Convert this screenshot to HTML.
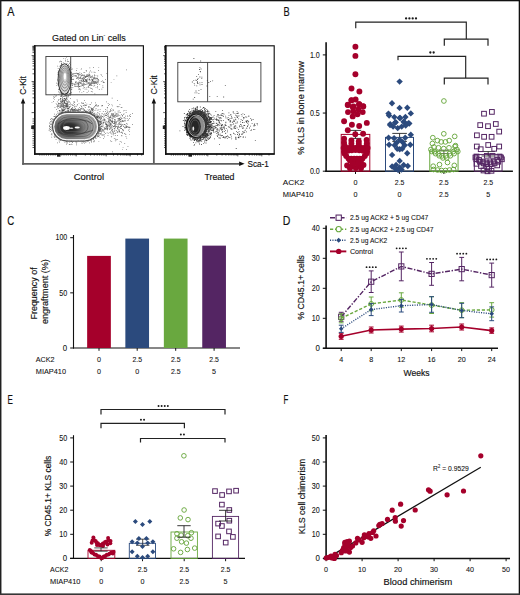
<!DOCTYPE html>
<html><head><meta charset="utf-8"><style>
html,body{margin:0;padding:0;background:#fff;overflow:hidden;width:520px;height:595px;}
svg{display:block;font-family:"Liberation Sans", sans-serif;}
</style></head><body>
<svg width="520" height="595" viewBox="0 0 520 595">
<rect width="520" height="595" fill="#fff"/>
<rect x="0.00" y="0.00" width="520.00" height="1.30" fill="#111" stroke="none" stroke-width="1" />
<rect x="0.00" y="0.00" width="1.45" height="595.00" fill="#202020" stroke="none" stroke-width="1" />
<rect x="518.70" y="0.00" width="1.30" height="595.00" fill="#111" stroke="none" stroke-width="1" />
<rect x="0.00" y="593.40" width="520.00" height="1.60" fill="#363636" stroke="none" stroke-width="1" />
<text x="7.30" y="15.50" font-size="12.3" text-anchor="start" textLength="7.20" lengthAdjust="spacingAndGlyphs" fill="#111" stroke="#111" stroke-width="0.16" >A</text>
<text x="283.50" y="15.50" font-size="12.3" text-anchor="start" textLength="6.20" lengthAdjust="spacingAndGlyphs" fill="#111" stroke="#111" stroke-width="0.16" >B</text>
<text x="7.30" y="225.20" font-size="12.3" text-anchor="start" textLength="7.00" lengthAdjust="spacingAndGlyphs" fill="#111" stroke="#111" stroke-width="0.16" >C</text>
<text x="282.80" y="225.20" font-size="12.3" text-anchor="start" textLength="7.60" lengthAdjust="spacingAndGlyphs" fill="#111" stroke="#111" stroke-width="0.16" >D</text>
<text x="7.60" y="403.80" font-size="12.3" text-anchor="start" textLength="5.40" lengthAdjust="spacingAndGlyphs" fill="#111" stroke="#111" stroke-width="0.16" >E</text>
<text x="283.60" y="404.20" font-size="12.3" text-anchor="start" textLength="4.80" lengthAdjust="spacingAndGlyphs" fill="#111" stroke="#111" stroke-width="0.16" >F</text>
<text x="51.90" y="40.50" font-size="9.8" text-anchor="start" textLength="73.90" lengthAdjust="spacingAndGlyphs" fill="#111" stroke="#111" stroke-width="0.16" >Gated on Lin<tspan font-size="5.5" dy="-3.6">-</tspan><tspan dy="3.6"> cells</tspan></text>
<path d="M71.9 141.7h0.7v0.7h-0.7zM97.1 113.9h0.7v0.7h-0.7zM84.0 110.1h0.7v0.7h-0.7zM74.3 109.0h0.7v0.7h-0.7zM87.8 138.6h0.7v0.7h-0.7zM93.2 114.6h0.7v0.7h-0.7zM96.7 134.5h0.7v0.7h-0.7zM57.3 110.9h0.7v0.7h-0.7zM62.7 112.4h0.7v0.7h-0.7zM48.7 130.4h0.7v0.7h-0.7zM71.7 109.5h0.7v0.7h-0.7zM61.8 111.8h0.7v0.7h-0.7zM70.5 112.9h0.7v0.7h-0.7zM52.8 122.4h0.7v0.7h-0.7zM82.1 140.9h0.7v0.7h-0.7zM99.2 129.1h0.7v0.7h-0.7zM62.0 113.8h0.7v0.7h-0.7zM98.7 125.3h0.7v0.7h-0.7zM68.9 111.0h0.7v0.7h-0.7zM95.2 116.9h0.7v0.7h-0.7zM99.0 126.8h0.7v0.7h-0.7zM67.0 140.1h0.7v0.7h-0.7zM90.1 112.1h0.7v0.7h-0.7zM67.7 140.3h0.7v0.7h-0.7zM97.2 120.0h0.7v0.7h-0.7zM86.9 111.4h0.7v0.7h-0.7zM59.1 110.0h0.7v0.7h-0.7zM97.9 121.4h0.7v0.7h-0.7zM54.1 116.1h0.7v0.7h-0.7zM100.4 122.0h0.7v0.7h-0.7zM102.1 130.1h0.7v0.7h-0.7zM90.5 110.8h0.7v0.7h-0.7zM50.0 129.1h0.7v0.7h-0.7zM99.8 119.1h0.7v0.7h-0.7zM67.0 111.2h0.7v0.7h-0.7zM53.6 123.0h0.7v0.7h-0.7zM77.8 140.4h0.7v0.7h-0.7zM98.3 132.9h0.7v0.7h-0.7zM96.1 115.4h0.7v0.7h-0.7zM53.8 119.0h0.7v0.7h-0.7zM83.9 110.4h0.7v0.7h-0.7zM89.5 112.9h0.7v0.7h-0.7zM101.3 125.7h0.7v0.7h-0.7zM70.7 139.9h0.7v0.7h-0.7zM95.3 137.7h0.7v0.7h-0.7zM85.7 110.4h0.7v0.7h-0.7zM81.7 143.2h0.7v0.7h-0.7zM57.1 142.5h0.7v0.7h-0.7zM68.7 111.9h0.7v0.7h-0.7zM97.4 135.0h0.7v0.7h-0.7zM57.6 136.7h0.7v0.7h-0.7zM97.0 119.1h0.7v0.7h-0.7zM52.4 125.7h0.7v0.7h-0.7zM100.2 128.0h0.7v0.7h-0.7zM97.5 135.0h0.7v0.7h-0.7zM54.1 135.6h0.7v0.7h-0.7zM53.8 136.1h0.7v0.7h-0.7zM98.2 128.8h0.7v0.7h-0.7zM69.4 141.7h0.7v0.7h-0.7zM83.2 113.1h0.7v0.7h-0.7zM71.2 111.4h0.7v0.7h-0.7zM95.0 135.6h0.7v0.7h-0.7zM100.0 118.4h0.7v0.7h-0.7zM89.5 111.4h0.7v0.7h-0.7zM83.9 110.0h0.7v0.7h-0.7zM97.0 116.4h0.7v0.7h-0.7zM99.0 134.7h0.7v0.7h-0.7zM102.5 121.7h0.7v0.7h-0.7zM51.6 133.4h0.7v0.7h-0.7zM61.3 112.0h0.7v0.7h-0.7zM99.9 131.4h0.7v0.7h-0.7zM94.2 140.5h0.7v0.7h-0.7zM91.1 114.3h0.7v0.7h-0.7zM94.6 114.1h0.7v0.7h-0.7zM90.4 113.7h0.7v0.7h-0.7zM80.2 112.7h0.7v0.7h-0.7zM94.9 135.5h0.7v0.7h-0.7zM62.0 112.3h0.7v0.7h-0.7zM98.8 129.1h0.7v0.7h-0.7zM89.6 139.9h0.7v0.7h-0.7zM67.2 108.5h0.7v0.7h-0.7zM66.3 140.0h0.7v0.7h-0.7zM76.8 111.6h0.7v0.7h-0.7zM87.1 140.8h0.7v0.7h-0.7zM97.8 134.7h0.7v0.7h-0.7zM54.9 133.9h0.7v0.7h-0.7zM51.8 117.9h0.7v0.7h-0.7zM100.4 133.0h0.7v0.7h-0.7zM80.6 112.7h0.7v0.7h-0.7zM67.1 140.2h0.7v0.7h-0.7zM76.2 144.6h0.7v0.7h-0.7zM90.4 110.7h0.7v0.7h-0.7zM62.7 114.1h0.7v0.7h-0.7zM91.6 112.3h0.7v0.7h-0.7zM72.0 141.9h0.7v0.7h-0.7zM76.8 112.0h0.7v0.7h-0.7zM63.5 109.1h0.7v0.7h-0.7zM97.3 122.4h0.7v0.7h-0.7zM93.6 140.7h0.7v0.7h-0.7zM98.6 123.1h0.7v0.7h-0.7zM64.2 109.9h0.7v0.7h-0.7zM88.6 139.6h0.7v0.7h-0.7zM91.1 141.8h0.7v0.7h-0.7zM68.2 112.5h0.7v0.7h-0.7zM91.4 113.1h0.7v0.7h-0.7zM70.8 109.6h0.7v0.7h-0.7zM99.4 117.2h0.7v0.7h-0.7zM50.5 129.0h0.7v0.7h-0.7zM49.3 125.3h0.7v0.7h-0.7zM64.9 111.9h0.7v0.7h-0.7zM91.3 140.0h0.7v0.7h-0.7zM52.1 121.5h0.7v0.7h-0.7zM78.2 140.3h0.7v0.7h-0.7zM92.0 109.8h0.7v0.7h-0.7zM101.1 117.9h0.7v0.7h-0.7zM82.4 113.1h0.7v0.7h-0.7zM75.2 111.8h0.7v0.7h-0.7zM66.8 111.8h0.7v0.7h-0.7zM97.1 119.1h0.7v0.7h-0.7zM73.1 109.9h0.7v0.7h-0.7zM73.1 109.2h0.7v0.7h-0.7zM64.9 112.7h0.7v0.7h-0.7zM57.1 116.3h0.7v0.7h-0.7zM97.4 115.7h0.7v0.7h-0.7zM68.5 110.8h0.7v0.7h-0.7zM58.6 114.2h0.7v0.7h-0.7zM99.5 117.8h0.7v0.7h-0.7zM81.6 111.4h0.7v0.7h-0.7zM72.2 142.0h0.7v0.7h-0.7zM62.9 109.9h0.7v0.7h-0.7zM53.5 119.6h0.7v0.7h-0.7zM95.2 137.9h0.7v0.7h-0.7zM63.4 109.7h0.7v0.7h-0.7zM50.3 119.3h0.7v0.7h-0.7zM98.0 131.7h0.7v0.7h-0.7zM97.4 131.7h0.7v0.7h-0.7zM68.8 111.3h0.7v0.7h-0.7zM50.7 124.1h0.7v0.7h-0.7zM96.0 133.0h0.7v0.7h-0.7zM88.7 113.6h0.7v0.7h-0.7zM92.9 138.5h0.7v0.7h-0.7zM94.5 136.2h0.7v0.7h-0.7zM56.9 112.8h0.7v0.7h-0.7zM91.6 113.2h0.7v0.7h-0.7zM99.8 129.1h0.7v0.7h-0.7zM73.3 110.0h0.7v0.7h-0.7zM90.2 112.3h0.7v0.7h-0.7zM72.9 109.5h0.7v0.7h-0.7zM96.0 116.0h0.7v0.7h-0.7zM73.6 109.2h0.7v0.7h-0.7zM53.9 116.3h0.7v0.7h-0.7zM65.4 108.4h0.7v0.7h-0.7zM75.2 141.5h0.7v0.7h-0.7zM51.5 121.4h0.7v0.7h-0.7zM77.9 108.6h0.7v0.7h-0.7zM80.1 111.6h0.7v0.7h-0.7zM77.4 110.6h0.7v0.7h-0.7zM74.4 111.4h0.7v0.7h-0.7zM87.2 140.2h0.7v0.7h-0.7zM83.5 140.9h0.7v0.7h-0.7zM62.8 113.2h0.7v0.7h-0.7zM72.6 111.3h0.7v0.7h-0.7zM60.3 110.4h0.7v0.7h-0.7zM86.8 110.9h0.7v0.7h-0.7zM76.7 111.6h0.7v0.7h-0.7zM100.0 116.8h0.7v0.7h-0.7zM69.9 109.9h0.7v0.7h-0.7zM96.7 133.3h0.7v0.7h-0.7zM99.0 124.7h0.7v0.7h-0.7zM69.5 112.1h0.7v0.7h-0.7zM74.3 110.6h0.7v0.7h-0.7zM69.4 144.0h0.7v0.7h-0.7zM66.9 112.6h0.7v0.7h-0.7zM95.4 136.7h0.7v0.7h-0.7zM55.1 115.7h0.7v0.7h-0.7zM100.3 124.2h0.7v0.7h-0.7zM61.0 109.7h0.7v0.7h-0.7zM68.1 111.3h0.7v0.7h-0.7zM56.6 136.8h0.7v0.7h-0.7zM94.6 115.7h0.7v0.7h-0.7zM87.8 112.5h0.7v0.7h-0.7zM98.0 120.0h0.7v0.7h-0.7zM93.3 139.1h0.7v0.7h-0.7zM91.9 110.5h0.7v0.7h-0.7zM50.0 121.2h0.7v0.7h-0.7zM93.6 137.8h0.7v0.7h-0.7zM98.9 127.7h0.7v0.7h-0.7zM75.1 110.1h0.7v0.7h-0.7zM96.4 120.6h0.7v0.7h-0.7zM98.7 129.1h0.7v0.7h-0.7zM95.3 136.5h0.7v0.7h-0.7zM51.6 134.5h0.7v0.7h-0.7zM98.4 134.6h0.7v0.7h-0.7zM67.2 111.3h0.7v0.7h-0.7zM58.8 140.5h0.7v0.7h-0.7zM90.6 138.0h0.7v0.7h-0.7zM97.5 120.7h0.7v0.7h-0.7zM93.2 113.3h0.7v0.7h-0.7zM64.5 141.9h0.7v0.7h-0.7zM97.1 114.9h0.7v0.7h-0.7zM76.3 109.2h0.7v0.7h-0.7zM58.9 111.7h0.7v0.7h-0.7zM98.7 122.7h0.7v0.7h-0.7zM91.5 113.1h0.7v0.7h-0.7zM89.0 112.5h0.7v0.7h-0.7zM72.0 110.7h0.7v0.7h-0.7zM97.3 130.9h0.7v0.7h-0.7zM78.4 111.7h0.7v0.7h-0.7zM74.0 109.5h0.7v0.7h-0.7zM96.4 116.6h0.7v0.7h-0.7zM61.4 139.4h0.7v0.7h-0.7zM70.9 143.8h0.7v0.7h-0.7zM53.6 130.2h0.7v0.7h-0.7zM94.2 115.0h0.7v0.7h-0.7zM99.7 137.3h0.7v0.7h-0.7zM66.3 143.7h0.7v0.7h-0.7zM90.7 138.8h0.7v0.7h-0.7zM59.4 113.2h0.7v0.7h-0.7zM69.3 140.0h0.7v0.7h-0.7zM97.3 117.8h0.7v0.7h-0.7zM50.7 127.2h0.7v0.7h-0.7zM97.6 136.3h0.7v0.7h-0.7zM79.3 111.6h0.7v0.7h-0.7zM51.0 125.8h0.7v0.7h-0.7zM63.2 111.8h0.7v0.7h-0.7zM87.6 109.4h0.7v0.7h-0.7zM51.6 128.0h0.7v0.7h-0.7zM59.5 138.8h0.7v0.7h-0.7zM76.3 113.0h0.7v0.7h-0.7zM67.0 141.7h0.7v0.7h-0.7zM80.1 109.2h0.7v0.7h-0.7zM50.9 118.2h0.7v0.7h-0.7zM95.3 117.7h0.7v0.7h-0.7zM53.8 118.6h0.7v0.7h-0.7zM94.7 115.3h0.7v0.7h-0.7zM61.9 110.5h0.7v0.7h-0.7zM74.5 108.8h0.7v0.7h-0.7zM97.6 119.0h0.7v0.7h-0.7zM97.5 116.7h0.7v0.7h-0.7zM90.4 111.0h0.7v0.7h-0.7zM67.6 111.8h0.7v0.7h-0.7zM96.9 136.5h0.7v0.7h-0.7zM99.7 122.5h0.7v0.7h-0.7zM61.1 109.5h0.7v0.7h-0.7zM81.9 139.9h0.7v0.7h-0.7zM67.7 109.4h0.7v0.7h-0.7zM87.4 113.1h0.7v0.7h-0.7zM70.8 111.7h0.7v0.7h-0.7zM74.9 109.3h0.7v0.7h-0.7zM55.3 117.9h0.7v0.7h-0.7zM76.3 110.5h0.7v0.7h-0.7zM96.6 117.1h0.7v0.7h-0.7zM100.3 133.8h0.7v0.7h-0.7zM88.4 112.8h0.7v0.7h-0.7zM81.6 141.9h0.7v0.7h-0.7zM65.3 111.3h0.7v0.7h-0.7zM68.1 107.8h0.7v0.7h-0.7zM99.5 128.3h0.7v0.7h-0.7zM76.5 142.4h0.7v0.7h-0.7zM62.5 111.8h0.7v0.7h-0.7zM92.8 114.5h0.7v0.7h-0.7zM67.5 112.7h0.7v0.7h-0.7zM76.8 111.9h0.7v0.7h-0.7zM72.8 141.2h0.7v0.7h-0.7zM73.4 111.0h0.7v0.7h-0.7zM96.9 117.5h0.7v0.7h-0.7zM92.9 114.2h0.7v0.7h-0.7zM92.4 115.1h0.7v0.7h-0.7zM70.9 141.3h0.7v0.7h-0.7zM61.0 111.6h0.7v0.7h-0.7zM98.9 133.3h0.7v0.7h-0.7zM100.9 121.0h0.7v0.7h-0.7zM94.5 137.2h0.7v0.7h-0.7zM90.6 114.3h0.7v0.7h-0.7zM52.0 126.7h0.7v0.7h-0.7zM99.5 130.2h0.7v0.7h-0.7zM99.5 129.6h0.7v0.7h-0.7zM62.4 109.6h0.7v0.7h-0.7zM101.8 123.8h0.7v0.7h-0.7zM51.8 122.5h0.7v0.7h-0.7zM82.6 111.6h0.7v0.7h-0.7zM55.3 136.5h0.7v0.7h-0.7zM97.2 117.2h0.7v0.7h-0.7zM49.9 123.8h0.7v0.7h-0.7zM71.8 143.9h0.7v0.7h-0.7zM50.9 133.7h0.7v0.7h-0.7zM72.3 110.2h0.7v0.7h-0.7zM54.0 137.1h0.7v0.7h-0.7zM49.1 126.1h0.7v0.7h-0.7zM100.1 124.6h0.7v0.7h-0.7zM77.5 112.4h0.7v0.7h-0.7zM100.2 116.6h0.7v0.7h-0.7zM67.2 109.9h0.7v0.7h-0.7zM99.3 123.7h0.7v0.7h-0.7zM98.8 130.1h0.7v0.7h-0.7zM77.0 109.6h0.7v0.7h-0.7zM78.3 109.3h0.7v0.7h-0.7zM98.3 136.2h0.7v0.7h-0.7zM92.9 111.4h0.7v0.7h-0.7zM98.9 126.4h0.7v0.7h-0.7zM100.5 129.1h0.7v0.7h-0.7zM90.8 110.7h0.7v0.7h-0.7zM100.2 122.6h0.7v0.7h-0.7zM98.4 132.2h0.7v0.7h-0.7zM64.2 111.5h0.7v0.7h-0.7zM49.6 126.0h0.7v0.7h-0.7zM89.6 111.0h0.7v0.7h-0.7zM84.0 110.1h0.7v0.7h-0.7zM98.6 125.2h0.7v0.7h-0.7zM52.6 128.5h0.7v0.7h-0.7zM91.7 113.0h0.7v0.7h-0.7zM78.7 112.4h0.7v0.7h-0.7zM98.4 130.3h0.7v0.7h-0.7zM81.6 141.9h0.7v0.7h-0.7zM61.0 113.2h0.7v0.7h-0.7zM89.0 112.1h0.7v0.7h-0.7zM99.9 121.2h0.7v0.7h-0.7zM90.9 112.6h0.7v0.7h-0.7zM98.6 131.2h0.7v0.7h-0.7zM60.4 113.6h0.7v0.7h-0.7zM76.3 142.9h0.7v0.7h-0.7zM73.5 112.5h0.7v0.7h-0.7zM90.9 141.3h0.7v0.7h-0.7zM69.7 144.0h0.7v0.7h-0.7zM54.1 134.3h0.7v0.7h-0.7zM98.7 117.8h0.7v0.7h-0.7zM100.2 119.6h0.7v0.7h-0.7zM98.6 129.4h0.7v0.7h-0.7zM100.7 130.0h0.7v0.7h-0.7zM80.0 107.9h0.7v0.7h-0.7zM94.3 113.4h0.7v0.7h-0.7zM63.1 112.1h0.7v0.7h-0.7zM87.8 110.9h0.7v0.7h-0.7zM98.4 117.8h0.7v0.7h-0.7zM53.6 116.0h0.7v0.7h-0.7zM86.5 111.0h0.7v0.7h-0.7zM75.0 111.3h0.7v0.7h-0.7zM61.9 111.3h0.7v0.7h-0.7zM85.0 111.4h0.7v0.7h-0.7zM89.8 140.1h0.7v0.7h-0.7zM94.5 112.7h0.7v0.7h-0.7zM60.7 113.3h0.7v0.7h-0.7zM56.1 114.3h0.7v0.7h-0.7zM94.7 114.5h0.7v0.7h-0.7zM84.1 109.1h0.7v0.7h-0.7zM67.8 110.2h0.7v0.7h-0.7zM99.0 124.2h0.7v0.7h-0.7zM60.0 112.2h0.7v0.7h-0.7zM52.8 127.5h0.7v0.7h-0.7zM64.6 111.8h0.7v0.7h-0.7zM51.0 130.3h0.7v0.7h-0.7zM98.5 121.0h0.7v0.7h-0.7zM65.6 111.2h0.7v0.7h-0.7zM71.1 140.5h0.7v0.7h-0.7zM98.1 117.9h0.7v0.7h-0.7zM94.3 115.3h0.7v0.7h-0.7zM95.5 117.8h0.7v0.7h-0.7zM98.7 117.1h0.7v0.7h-0.7zM101.7 125.6h0.7v0.7h-0.7zM89.1 109.2h0.7v0.7h-0.7zM51.9 119.3h0.7v0.7h-0.7zM52.0 125.0h0.7v0.7h-0.7zM100.9 131.5h0.7v0.7h-0.7zM79.4 111.9h0.7v0.7h-0.7zM75.0 109.3h0.7v0.7h-0.7zM67.5 111.4h0.7v0.7h-0.7zM55.9 117.8h0.7v0.7h-0.7zM86.8 111.1h0.7v0.7h-0.7zM89.9 112.5h0.7v0.7h-0.7zM76.2 141.6h0.7v0.7h-0.7zM62.4 112.5h0.7v0.7h-0.7zM51.5 123.8h0.7v0.7h-0.7zM81.4 140.1h0.7v0.7h-0.7zM79.4 109.6h0.7v0.7h-0.7zM65.9 141.1h0.7v0.7h-0.7zM72.9 109.3h0.7v0.7h-0.7zM99.5 131.0h0.7v0.7h-0.7zM83.0 139.9h0.7v0.7h-0.7zM95.7 135.8h0.7v0.7h-0.7zM80.4 140.4h0.7v0.7h-0.7zM98.6 132.2h0.7v0.7h-0.7zM98.0 115.6h0.7v0.7h-0.7zM76.9 110.3h0.7v0.7h-0.7zM81.3 112.8h0.7v0.7h-0.7zM52.8 120.4h0.7v0.7h-0.7zM65.8 112.0h0.7v0.7h-0.7zM70.6 139.7h0.7v0.7h-0.7zM59.3 110.6h0.7v0.7h-0.7zM92.5 111.7h0.7v0.7h-0.7zM96.8 116.9h0.7v0.7h-0.7zM65.9 141.7h0.7v0.7h-0.7zM100.9 121.6h0.7v0.7h-0.7zM51.7 123.9h0.7v0.7h-0.7zM64.1 112.5h0.7v0.7h-0.7zM51.8 122.8h0.7v0.7h-0.7zM99.3 127.5h0.7v0.7h-0.7zM92.6 114.3h0.7v0.7h-0.7zM84.6 112.2h0.7v0.7h-0.7zM90.6 110.7h0.7v0.7h-0.7zM74.3 111.4h0.7v0.7h-0.7zM71.1 141.0h0.7v0.7h-0.7zM102.4 131.4h0.7v0.7h-0.7zM83.3 142.4h0.7v0.7h-0.7zM89.1 142.5h0.7v0.7h-0.7zM97.8 133.2h0.7v0.7h-0.7zM95.9 117.1h0.7v0.7h-0.7zM100.8 128.1h0.7v0.7h-0.7zM100.6 129.0h0.7v0.7h-0.7zM77.7 111.6h0.7v0.7h-0.7zM97.2 117.9h0.7v0.7h-0.7zM100.7 126.2h0.7v0.7h-0.7zM99.4 125.5h0.7v0.7h-0.7zM51.4 120.6h0.7v0.7h-0.7zM49.6 122.6h0.7v0.7h-0.7zM79.3 109.1h0.7v0.7h-0.7zM98.5 136.2h0.7v0.7h-0.7zM62.5 110.3h0.7v0.7h-0.7zM96.6 117.1h0.7v0.7h-0.7zM98.1 127.3h0.7v0.7h-0.7zM82.3 112.6h0.7v0.7h-0.7zM52.8 125.9h0.7v0.7h-0.7zM100.6 123.5h0.7v0.7h-0.7zM94.8 114.8h0.7v0.7h-0.7zM88.0 141.4h0.7v0.7h-0.7zM60.8 138.9h0.7v0.7h-0.7zM52.9 119.4h0.7v0.7h-0.7zM51.3 123.7h0.7v0.7h-0.7zM55.4 117.0h0.7v0.7h-0.7zM95.9 137.9h0.7v0.7h-0.7zM102.5 129.0h0.7v0.7h-0.7zM74.6 112.3h0.7v0.7h-0.7zM85.5 142.2h0.7v0.7h-0.7zM90.2 110.4h0.7v0.7h-0.7zM59.0 141.7h0.7v0.7h-0.7zM52.9 126.9h0.7v0.7h-0.7zM68.7 108.9h0.7v0.7h-0.7zM88.3 112.3h0.7v0.7h-0.7zM67.4 113.8h0.7v0.7h-0.7zM100.7 130.8h0.7v0.7h-0.7zM66.8 142.9h0.7v0.7h-0.7zM65.0 111.8h0.7v0.7h-0.7zM69.9 112.0h0.7v0.7h-0.7zM77.7 110.6h0.7v0.7h-0.7zM94.0 114.9h0.7v0.7h-0.7zM68.9 143.9h0.7v0.7h-0.7zM98.3 121.8h0.7v0.7h-0.7zM70.1 111.2h0.7v0.7h-0.7zM99.8 127.8h0.7v0.7h-0.7zM98.3 126.4h0.7v0.7h-0.7zM67.5 110.0h0.7v0.7h-0.7zM83.4 140.4h0.7v0.7h-0.7zM84.3 142.8h0.7v0.7h-0.7zM55.7 116.5h0.7v0.7h-0.7zM98.0 129.0h0.7v0.7h-0.7zM49.3 128.0h0.7v0.7h-0.7zM65.0 112.4h0.7v0.7h-0.7zM74.6 111.6h0.7v0.7h-0.7zM51.4 136.7h0.7v0.7h-0.7zM85.6 110.4h0.7v0.7h-0.7zM58.7 111.9h0.7v0.7h-0.7zM63.1 110.1h0.7v0.7h-0.7zM52.3 126.4h0.7v0.7h-0.7zM94.0 115.6h0.7v0.7h-0.7zM97.1 116.1h0.7v0.7h-0.7zM90.8 110.2h0.7v0.7h-0.7zM60.2 140.2h0.7v0.7h-0.7zM65.3 111.1h0.7v0.7h-0.7zM77.6 140.0h0.7v0.7h-0.7zM54.1 113.8h0.7v0.7h-0.7zM83.0 110.8h0.7v0.7h-0.7zM72.6 109.7h0.7v0.7h-0.7zM99.9 129.8h0.7v0.7h-0.7zM48.9 129.5h0.7v0.7h-0.7zM49.8 127.0h0.7v0.7h-0.7zM49.3 122.8h0.7v0.7h-0.7zM75.3 108.1h0.7v0.7h-0.7zM91.4 113.5h0.7v0.7h-0.7zM68.3 110.3h0.7v0.7h-0.7zM84.6 110.7h0.7v0.7h-0.7zM99.2 128.9h0.7v0.7h-0.7zM60.0 111.4h0.7v0.7h-0.7zM93.2 137.7h0.7v0.7h-0.7zM99.4 127.8h0.7v0.7h-0.7zM55.7 139.3h0.7v0.7h-0.7zM95.4 116.2h0.7v0.7h-0.7zM98.6 130.2h0.7v0.7h-0.7zM69.9 141.4h0.7v0.7h-0.7zM100.3 120.8h0.7v0.7h-0.7zM70.8 111.8h0.7v0.7h-0.7zM55.9 115.8h0.7v0.7h-0.7zM93.6 114.5h0.7v0.7h-0.7zM61.0 112.8h0.7v0.7h-0.7zM71.8 109.3h0.7v0.7h-0.7zM53.1 131.3h0.7v0.7h-0.7zM88.1 139.6h0.7v0.7h-0.7zM49.9 131.0h0.7v0.7h-0.7zM111.3 114.9h0.7v0.7h-0.7zM108.7 119.2h0.7v0.7h-0.7zM111.4 125.7h0.7v0.7h-0.7zM114.9 120.8h0.7v0.7h-0.7zM112.0 122.0h0.7v0.7h-0.7zM124.2 133.3h0.7v0.7h-0.7zM121.9 115.1h0.7v0.7h-0.7zM128.0 119.5h0.7v0.7h-0.7zM104.6 119.8h0.7v0.7h-0.7zM119.2 122.7h0.7v0.7h-0.7zM115.4 114.6h0.7v0.7h-0.7zM121.7 121.1h0.7v0.7h-0.7zM114.3 128.0h0.7v0.7h-0.7zM124.8 118.2h0.7v0.7h-0.7zM115.4 125.5h0.7v0.7h-0.7zM114.2 121.8h0.7v0.7h-0.7zM118.6 118.8h0.7v0.7h-0.7zM116.8 106.2h0.7v0.7h-0.7zM112.8 133.0h0.7v0.7h-0.7zM112.0 114.1h0.7v0.7h-0.7zM101.0 131.4h0.7v0.7h-0.7zM115.1 133.1h0.7v0.7h-0.7zM126.1 123.0h0.7v0.7h-0.7zM123.6 121.0h0.7v0.7h-0.7zM114.8 115.2h0.7v0.7h-0.7zM109.6 128.2h0.7v0.7h-0.7zM120.8 117.5h0.7v0.7h-0.7zM125.4 125.4h0.7v0.7h-0.7zM105.8 116.9h0.7v0.7h-0.7zM108.8 123.8h0.7v0.7h-0.7zM114.2 116.4h0.7v0.7h-0.7zM115.1 127.6h0.7v0.7h-0.7zM120.7 124.5h0.7v0.7h-0.7zM111.8 115.2h0.7v0.7h-0.7zM109.8 124.1h0.7v0.7h-0.7zM114.9 135.0h0.7v0.7h-0.7zM119.7 120.8h0.7v0.7h-0.7zM107.8 103.1h0.7v0.7h-0.7zM98.8 117.6h0.7v0.7h-0.7zM121.5 135.5h0.7v0.7h-0.7zM119.9 126.1h0.7v0.7h-0.7zM116.0 122.9h0.7v0.7h-0.7zM115.9 114.9h0.7v0.7h-0.7zM106.8 132.6h0.7v0.7h-0.7zM115.3 138.7h0.7v0.7h-0.7zM124.4 143.0h0.7v0.7h-0.7zM122.2 115.5h0.7v0.7h-0.7zM130.1 116.3h0.7v0.7h-0.7zM122.0 120.4h0.7v0.7h-0.7zM109.5 126.1h0.7v0.7h-0.7zM105.7 126.1h0.7v0.7h-0.7zM120.1 116.8h0.7v0.7h-0.7zM109.3 120.2h0.7v0.7h-0.7zM113.0 123.4h0.7v0.7h-0.7zM104.5 119.6h0.7v0.7h-0.7zM101.6 113.5h0.7v0.7h-0.7zM109.0 121.7h0.7v0.7h-0.7zM123.4 119.9h0.7v0.7h-0.7zM118.8 131.7h0.7v0.7h-0.7zM113.6 116.3h0.7v0.7h-0.7zM115.9 125.9h0.7v0.7h-0.7zM108.0 119.7h0.7v0.7h-0.7zM116.9 117.9h0.7v0.7h-0.7zM111.9 119.5h0.7v0.7h-0.7zM116.8 126.3h0.7v0.7h-0.7zM107.4 112.0h0.7v0.7h-0.7zM101.4 128.6h0.7v0.7h-0.7zM120.7 106.9h0.7v0.7h-0.7zM110.0 115.5h0.7v0.7h-0.7zM102.9 129.9h0.7v0.7h-0.7zM113.8 128.4h0.7v0.7h-0.7zM106.7 109.7h0.7v0.7h-0.7zM128.8 127.2h0.7v0.7h-0.7zM109.8 118.7h0.7v0.7h-0.7zM113.3 134.6h0.7v0.7h-0.7zM127.1 115.5h0.7v0.7h-0.7zM126.0 125.4h0.7v0.7h-0.7zM112.5 127.5h0.7v0.7h-0.7zM125.6 126.2h0.7v0.7h-0.7zM114.6 129.9h0.7v0.7h-0.7zM98.0 122.5h0.7v0.7h-0.7zM113.8 133.1h0.7v0.7h-0.7zM107.2 111.6h0.7v0.7h-0.7zM118.9 117.7h0.7v0.7h-0.7zM117.6 120.1h0.7v0.7h-0.7zM102.6 125.9h0.7v0.7h-0.7zM121.6 118.0h0.7v0.7h-0.7zM110.0 111.1h0.7v0.7h-0.7zM128.6 126.5h0.7v0.7h-0.7zM117.8 118.7h0.7v0.7h-0.7zM111.8 130.4h0.7v0.7h-0.7zM118.9 130.0h0.7v0.7h-0.7zM117.4 124.4h0.7v0.7h-0.7zM119.8 141.2h0.7v0.7h-0.7zM120.0 119.4h0.7v0.7h-0.7zM107.2 114.3h0.7v0.7h-0.7zM100.5 127.6h0.7v0.7h-0.7zM121.0 126.0h0.7v0.7h-0.7zM129.0 134.4h0.7v0.7h-0.7zM118.2 113.9h0.7v0.7h-0.7zM129.1 131.0h0.7v0.7h-0.7zM118.6 106.3h0.7v0.7h-0.7zM126.8 118.2h0.7v0.7h-0.7zM100.8 123.3h0.7v0.7h-0.7zM125.6 134.4h0.7v0.7h-0.7zM112.4 130.8h0.7v0.7h-0.7zM116.2 121.8h0.7v0.7h-0.7zM107.6 135.3h0.7v0.7h-0.7zM101.0 132.7h0.7v0.7h-0.7zM114.3 116.7h0.7v0.7h-0.7zM107.8 122.8h0.7v0.7h-0.7zM108.7 111.5h0.7v0.7h-0.7zM112.3 122.5h0.7v0.7h-0.7zM118.8 118.6h0.7v0.7h-0.7zM105.3 111.2h0.7v0.7h-0.7zM113.0 123.2h0.7v0.7h-0.7zM111.9 121.4h0.7v0.7h-0.7zM118.1 127.4h0.7v0.7h-0.7zM120.6 132.0h0.7v0.7h-0.7zM115.5 113.6h0.7v0.7h-0.7zM118.5 121.6h0.7v0.7h-0.7zM112.0 128.9h0.7v0.7h-0.7zM103.6 119.6h0.7v0.7h-0.7zM114.1 131.0h0.7v0.7h-0.7zM110.0 127.6h0.7v0.7h-0.7zM128.3 127.2h0.7v0.7h-0.7zM124.0 124.0h0.7v0.7h-0.7zM116.8 130.9h0.7v0.7h-0.7zM111.3 108.4h0.7v0.7h-0.7zM123.3 114.1h0.7v0.7h-0.7zM115.3 123.6h0.7v0.7h-0.7zM125.6 136.2h0.7v0.7h-0.7zM109.6 127.9h0.7v0.7h-0.7zM111.0 128.4h0.7v0.7h-0.7zM117.8 128.7h0.7v0.7h-0.7zM106.6 124.2h0.7v0.7h-0.7zM119.2 124.0h0.7v0.7h-0.7zM124.6 124.0h0.7v0.7h-0.7zM105.3 109.0h0.7v0.7h-0.7zM106.5 129.1h0.7v0.7h-0.7zM117.8 112.6h0.7v0.7h-0.7zM111.0 121.4h0.7v0.7h-0.7zM110.0 110.5h0.7v0.7h-0.7zM111.6 133.9h0.7v0.7h-0.7zM116.5 126.3h0.7v0.7h-0.7zM110.5 131.5h0.7v0.7h-0.7zM110.7 126.5h0.7v0.7h-0.7zM127.9 119.7h0.7v0.7h-0.7zM114.9 125.6h0.7v0.7h-0.7zM111.5 104.4h0.7v0.7h-0.7zM113.1 110.3h0.7v0.7h-0.7zM127.9 119.9h0.7v0.7h-0.7zM122.1 129.0h0.7v0.7h-0.7zM107.0 129.1h0.7v0.7h-0.7zM121.8 132.1h0.7v0.7h-0.7zM113.7 116.2h0.7v0.7h-0.7zM110.1 117.2h0.7v0.7h-0.7zM111.2 114.3h0.7v0.7h-0.7zM124.4 120.2h0.7v0.7h-0.7zM118.5 123.3h0.7v0.7h-0.7zM114.2 119.1h0.7v0.7h-0.7zM116.4 113.0h0.7v0.7h-0.7zM110.8 129.4h0.7v0.7h-0.7zM121.2 114.0h0.7v0.7h-0.7zM107.5 127.1h0.7v0.7h-0.7zM107.6 118.2h0.7v0.7h-0.7zM113.4 114.4h0.7v0.7h-0.7zM114.6 126.6h0.7v0.7h-0.7zM110.5 124.0h0.7v0.7h-0.7zM117.2 127.3h0.7v0.7h-0.7zM104.3 136.6h0.7v0.7h-0.7zM108.9 122.0h0.7v0.7h-0.7zM106.5 124.0h0.7v0.7h-0.7zM129.6 127.3h0.7v0.7h-0.7zM90.4 121.3h0.7v0.7h-0.7zM111.4 117.9h0.7v0.7h-0.7zM119.5 122.1h0.7v0.7h-0.7zM117.8 126.5h0.7v0.7h-0.7zM118.0 126.1h0.7v0.7h-0.7zM119.2 119.8h0.7v0.7h-0.7zM110.9 122.9h0.7v0.7h-0.7zM114.1 125.8h0.7v0.7h-0.7zM111.0 127.4h0.7v0.7h-0.7zM111.8 97.8h0.7v0.7h-0.7zM118.8 131.1h0.7v0.7h-0.7zM97.6 106.3h0.7v0.7h-0.7zM126.5 127.3h0.7v0.7h-0.7zM107.5 128.0h0.7v0.7h-0.7zM111.7 110.5h0.7v0.7h-0.7zM104.1 132.4h0.7v0.7h-0.7zM110.3 119.6h0.7v0.7h-0.7zM117.4 127.6h0.7v0.7h-0.7zM121.7 107.4h0.7v0.7h-0.7zM121.3 131.8h0.7v0.7h-0.7zM118.1 123.8h0.7v0.7h-0.7zM111.1 113.0h0.7v0.7h-0.7zM107.6 126.3h0.7v0.7h-0.7zM107.9 124.8h0.7v0.7h-0.7zM111.4 141.2h0.7v0.7h-0.7zM125.4 127.2h0.7v0.7h-0.7zM119.0 129.5h0.7v0.7h-0.7zM119.9 123.7h0.7v0.7h-0.7zM113.9 121.2h0.7v0.7h-0.7zM105.8 128.2h0.7v0.7h-0.7zM112.1 120.9h0.7v0.7h-0.7zM109.1 125.9h0.7v0.7h-0.7zM120.9 107.0h0.7v0.7h-0.7zM103.5 114.6h0.7v0.7h-0.7zM96.1 134.2h0.7v0.7h-0.7zM111.9 105.6h0.7v0.7h-0.7zM122.0 133.3h0.7v0.7h-0.7zM109.4 111.5h0.7v0.7h-0.7zM120.1 118.9h0.7v0.7h-0.7zM123.2 129.7h0.7v0.7h-0.7zM119.3 143.7h0.7v0.7h-0.7zM123.5 117.6h0.7v0.7h-0.7zM119.5 111.9h0.7v0.7h-0.7zM124.4 117.1h0.7v0.7h-0.7zM122.7 146.9h0.7v0.7h-0.7zM115.1 126.5h0.7v0.7h-0.7zM117.7 110.8h0.7v0.7h-0.7zM119.3 118.1h0.7v0.7h-0.7zM129.2 115.3h0.7v0.7h-0.7zM114.6 121.4h0.7v0.7h-0.7zM116.2 114.6h0.7v0.7h-0.7zM120.3 128.0h0.7v0.7h-0.7zM122.3 120.2h0.7v0.7h-0.7zM98.3 126.5h0.7v0.7h-0.7zM113.6 114.8h0.7v0.7h-0.7zM110.3 131.4h0.7v0.7h-0.7zM102.7 119.4h0.7v0.7h-0.7zM112.3 118.4h0.7v0.7h-0.7zM125.8 112.0h0.7v0.7h-0.7zM110.9 122.5h0.7v0.7h-0.7zM99.9 127.3h0.7v0.7h-0.7zM114.5 129.6h0.7v0.7h-0.7zM110.7 109.9h0.7v0.7h-0.7zM119.5 115.3h0.7v0.7h-0.7zM114.9 116.6h0.7v0.7h-0.7zM127.4 126.3h0.7v0.7h-0.7zM116.9 139.2h0.7v0.7h-0.7zM112.1 129.2h0.7v0.7h-0.7zM116.6 120.9h0.7v0.7h-0.7zM122.7 121.1h0.7v0.7h-0.7zM122.7 124.4h0.7v0.7h-0.7zM119.9 126.9h0.7v0.7h-0.7zM105.0 122.4h0.7v0.7h-0.7zM126.2 149.3h0.7v0.7h-0.7zM117.9 125.6h0.7v0.7h-0.7zM115.5 122.6h0.7v0.7h-0.7zM118.9 119.2h0.7v0.7h-0.7zM126.9 123.7h0.7v0.7h-0.7zM113.3 126.0h0.7v0.7h-0.7zM110.4 123.5h0.7v0.7h-0.7zM124.1 127.1h0.7v0.7h-0.7zM116.0 130.0h0.7v0.7h-0.7zM89.7 123.5h0.7v0.7h-0.7zM107.2 115.8h0.7v0.7h-0.7zM112.6 131.1h0.7v0.7h-0.7zM113.9 138.3h0.7v0.7h-0.7zM129.6 115.9h0.7v0.7h-0.7zM104.4 129.4h0.7v0.7h-0.7zM111.4 136.4h0.7v0.7h-0.7zM120.3 121.0h0.7v0.7h-0.7zM102.6 116.2h0.7v0.7h-0.7zM124.0 110.4h0.7v0.7h-0.7zM120.5 126.3h0.7v0.7h-0.7zM104.1 134.6h0.7v0.7h-0.7zM114.8 116.8h0.7v0.7h-0.7zM124.9 133.7h0.7v0.7h-0.7zM116.7 121.3h0.7v0.7h-0.7zM113.6 126.0h0.7v0.7h-0.7zM114.1 123.1h0.7v0.7h-0.7zM111.7 125.8h0.7v0.7h-0.7zM126.4 137.8h0.7v0.7h-0.7zM114.4 115.0h0.7v0.7h-0.7zM109.8 128.0h0.7v0.7h-0.7zM113.8 133.1h0.7v0.7h-0.7zM122.8 130.6h0.7v0.7h-0.7zM110.2 122.8h0.7v0.7h-0.7zM122.0 120.7h0.7v0.7h-0.7zM106.4 113.1h0.7v0.7h-0.7zM114.7 111.7h0.7v0.7h-0.7zM107.2 124.7h0.7v0.7h-0.7zM115.3 119.6h0.7v0.7h-0.7zM101.1 116.4h0.7v0.7h-0.7zM106.5 125.3h0.7v0.7h-0.7zM110.3 109.1h0.7v0.7h-0.7zM110.4 132.4h0.7v0.7h-0.7zM120.0 112.1h0.7v0.7h-0.7zM122.3 148.9h0.7v0.7h-0.7zM108.9 132.4h0.7v0.7h-0.7zM127.2 126.6h0.7v0.7h-0.7zM98.7 116.5h0.7v0.7h-0.7zM115.7 124.2h0.7v0.7h-0.7zM111.3 130.1h0.7v0.7h-0.7zM112.7 116.0h0.7v0.7h-0.7zM117.6 106.6h0.7v0.7h-0.7zM121.3 125.0h0.7v0.7h-0.7zM128.3 129.8h0.7v0.7h-0.7zM121.7 120.6h0.7v0.7h-0.7zM96.2 113.7h0.7v0.7h-0.7zM116.3 116.2h0.7v0.7h-0.7zM97.7 126.9h0.7v0.7h-0.7zM122.1 115.7h0.7v0.7h-0.7zM112.7 121.0h0.7v0.7h-0.7zM103.7 131.6h0.7v0.7h-0.7zM120.8 123.8h0.7v0.7h-0.7zM114.0 121.9h0.7v0.7h-0.7zM121.4 134.9h0.7v0.7h-0.7zM119.2 131.3h0.7v0.7h-0.7zM124.7 118.6h0.7v0.7h-0.7zM114.4 119.7h0.7v0.7h-0.7zM105.6 120.8h0.7v0.7h-0.7zM106.2 123.5h0.7v0.7h-0.7zM125.9 127.1h0.7v0.7h-0.7zM108.1 132.9h0.7v0.7h-0.7zM114.9 140.6h0.7v0.7h-0.7zM100.4 126.1h0.7v0.7h-0.7zM108.9 121.6h0.7v0.7h-0.7zM109.4 125.1h0.7v0.7h-0.7zM107.9 121.0h0.7v0.7h-0.7zM112.3 151.5h0.7v0.7h-0.7zM125.1 120.6h0.7v0.7h-0.7zM101.5 116.5h0.7v0.7h-0.7zM109.8 116.2h0.7v0.7h-0.7zM100.8 122.2h0.7v0.7h-0.7zM123.2 125.8h0.7v0.7h-0.7zM124.7 127.8h0.7v0.7h-0.7zM124.2 124.0h0.7v0.7h-0.7zM120.5 128.0h0.7v0.7h-0.7zM121.4 121.6h0.7v0.7h-0.7zM105.2 133.1h0.7v0.7h-0.7zM117.1 128.2h0.7v0.7h-0.7zM105.6 128.0h0.7v0.7h-0.7zM117.2 128.6h0.7v0.7h-0.7zM121.5 125.0h0.7v0.7h-0.7zM107.0 129.5h0.7v0.7h-0.7zM112.7 132.1h0.7v0.7h-0.7zM116.9 116.0h0.7v0.7h-0.7zM112.7 109.0h0.7v0.7h-0.7zM127.5 116.4h0.7v0.7h-0.7zM107.9 113.6h0.7v0.7h-0.7zM102.7 134.3h0.7v0.7h-0.7zM118.4 129.7h0.7v0.7h-0.7zM122.4 129.5h0.7v0.7h-0.7zM125.1 115.7h0.7v0.7h-0.7zM132.3 124.2h0.7v0.7h-0.7zM120.6 124.3h0.7v0.7h-0.7zM113.8 122.7h0.7v0.7h-0.7zM118.8 110.5h0.7v0.7h-0.7zM127.0 119.9h0.7v0.7h-0.7zM110.1 125.1h0.7v0.7h-0.7zM110.7 133.0h0.7v0.7h-0.7zM118.1 117.9h0.7v0.7h-0.7zM103.8 120.6h0.7v0.7h-0.7zM117.0 135.3h0.7v0.7h-0.7zM114.1 129.9h0.7v0.7h-0.7zM121.0 141.8h0.7v0.7h-0.7zM122.3 124.3h0.7v0.7h-0.7zM108.1 116.2h0.7v0.7h-0.7zM117.1 132.1h0.7v0.7h-0.7zM105.4 124.3h0.7v0.7h-0.7zM110.9 124.2h0.7v0.7h-0.7zM113.1 115.6h0.7v0.7h-0.7zM118.1 115.5h0.7v0.7h-0.7zM119.6 117.9h0.7v0.7h-0.7zM102.3 105.0h0.7v0.7h-0.7zM110.9 136.6h0.7v0.7h-0.7zM114.8 122.3h0.7v0.7h-0.7zM108.8 118.2h0.7v0.7h-0.7zM128.9 128.8h0.7v0.7h-0.7zM109.2 104.3h0.7v0.7h-0.7zM120.8 128.2h0.7v0.7h-0.7zM108.8 119.1h0.7v0.7h-0.7zM121.1 128.1h0.7v0.7h-0.7zM106.8 126.4h0.7v0.7h-0.7zM107.5 125.6h0.7v0.7h-0.7zM103.0 122.5h0.7v0.7h-0.7zM115.6 131.9h0.7v0.7h-0.7zM123.4 110.6h0.7v0.7h-0.7zM119.6 104.2h0.7v0.7h-0.7zM99.9 123.7h0.7v0.7h-0.7zM117.4 115.1h0.7v0.7h-0.7zM116.4 113.1h0.7v0.7h-0.7zM111.1 120.6h0.7v0.7h-0.7zM114.9 115.2h0.7v0.7h-0.7zM106.4 126.8h0.7v0.7h-0.7zM117.0 100.1h0.7v0.7h-0.7zM123.7 113.5h0.7v0.7h-0.7zM112.8 132.4h0.7v0.7h-0.7zM110.1 117.1h0.7v0.7h-0.7zM121.4 118.6h0.7v0.7h-0.7zM93.7 118.9h0.7v0.7h-0.7zM117.5 130.9h0.7v0.7h-0.7zM132.3 113.3h0.7v0.7h-0.7zM103.6 126.9h0.7v0.7h-0.7zM112.3 121.0h0.7v0.7h-0.7zM129.9 114.0h0.7v0.7h-0.7zM120.4 119.6h0.7v0.7h-0.7zM100.9 118.2h0.7v0.7h-0.7zM125.7 110.0h0.7v0.7h-0.7zM127.2 126.5h0.7v0.7h-0.7zM113.0 126.2h0.7v0.7h-0.7zM112.2 122.4h0.7v0.7h-0.7zM112.6 130.7h0.7v0.7h-0.7zM109.6 126.8h0.7v0.7h-0.7zM105.8 123.4h0.7v0.7h-0.7zM119.0 127.3h0.7v0.7h-0.7zM114.7 123.9h0.7v0.7h-0.7zM98.0 119.9h0.7v0.7h-0.7zM115.9 139.5h0.7v0.7h-0.7zM109.4 129.1h0.7v0.7h-0.7zM117.2 113.8h0.7v0.7h-0.7zM97.1 122.8h0.7v0.7h-0.7zM123.5 126.2h0.7v0.7h-0.7zM112.4 131.6h0.7v0.7h-0.7zM103.6 118.6h0.7v0.7h-0.7zM110.3 140.6h0.7v0.7h-0.7zM129.1 118.3h0.7v0.7h-0.7zM104.0 113.4h0.7v0.7h-0.7zM126.3 126.3h0.7v0.7h-0.7zM108.6 124.8h0.7v0.7h-0.7zM112.2 115.3h0.7v0.7h-0.7zM118.6 120.1h0.7v0.7h-0.7zM103.5 128.9h0.7v0.7h-0.7zM105.6 123.7h0.7v0.7h-0.7zM102.3 116.1h0.7v0.7h-0.7zM109.2 129.1h0.7v0.7h-0.7zM108.3 113.5h0.7v0.7h-0.7zM101.1 117.0h0.7v0.7h-0.7zM111.4 114.5h0.7v0.7h-0.7zM106.2 112.8h0.7v0.7h-0.7zM104.7 128.8h0.7v0.7h-0.7zM98.8 127.5h0.7v0.7h-0.7zM106.1 124.6h0.7v0.7h-0.7zM101.4 119.8h0.7v0.7h-0.7zM107.3 128.4h0.7v0.7h-0.7zM95.2 125.3h0.7v0.7h-0.7zM110.3 120.0h0.7v0.7h-0.7zM100.8 115.2h0.7v0.7h-0.7zM100.2 116.8h0.7v0.7h-0.7zM108.1 114.9h0.7v0.7h-0.7zM104.2 128.3h0.7v0.7h-0.7zM104.7 119.5h0.7v0.7h-0.7zM112.3 120.5h0.7v0.7h-0.7zM99.9 120.9h0.7v0.7h-0.7zM104.0 127.4h0.7v0.7h-0.7zM102.9 111.2h0.7v0.7h-0.7zM99.1 121.0h0.7v0.7h-0.7zM101.6 122.9h0.7v0.7h-0.7zM98.5 128.5h0.7v0.7h-0.7zM115.9 122.8h0.7v0.7h-0.7zM109.4 121.8h0.7v0.7h-0.7zM102.3 129.4h0.7v0.7h-0.7zM103.5 130.5h0.7v0.7h-0.7zM114.3 124.9h0.7v0.7h-0.7zM112.9 114.2h0.7v0.7h-0.7zM103.1 117.4h0.7v0.7h-0.7zM99.4 114.5h0.7v0.7h-0.7zM105.6 113.6h0.7v0.7h-0.7zM105.0 115.1h0.7v0.7h-0.7zM106.9 121.8h0.7v0.7h-0.7zM108.4 120.7h0.7v0.7h-0.7zM106.0 124.2h0.7v0.7h-0.7zM112.7 117.3h0.7v0.7h-0.7zM102.5 121.9h0.7v0.7h-0.7zM104.1 120.5h0.7v0.7h-0.7zM104.0 113.6h0.7v0.7h-0.7zM103.4 122.0h0.7v0.7h-0.7zM98.6 108.9h0.7v0.7h-0.7zM94.3 125.4h0.7v0.7h-0.7zM105.8 126.7h0.7v0.7h-0.7zM101.1 122.9h0.7v0.7h-0.7zM110.0 120.4h0.7v0.7h-0.7zM111.1 121.0h0.7v0.7h-0.7zM106.8 126.2h0.7v0.7h-0.7zM105.9 115.2h0.7v0.7h-0.7zM102.9 134.8h0.7v0.7h-0.7zM103.0 138.0h0.7v0.7h-0.7zM105.8 121.5h0.7v0.7h-0.7zM110.9 120.6h0.7v0.7h-0.7zM95.6 116.8h0.7v0.7h-0.7zM101.1 134.5h0.7v0.7h-0.7zM102.1 134.7h0.7v0.7h-0.7zM93.3 121.3h0.7v0.7h-0.7zM112.7 118.0h0.7v0.7h-0.7zM107.4 127.1h0.7v0.7h-0.7zM108.6 117.0h0.7v0.7h-0.7zM105.4 128.6h0.7v0.7h-0.7zM105.3 123.1h0.7v0.7h-0.7zM103.4 120.5h0.7v0.7h-0.7zM100.4 124.4h0.7v0.7h-0.7zM105.4 114.7h0.7v0.7h-0.7zM97.4 124.6h0.7v0.7h-0.7zM106.8 127.9h0.7v0.7h-0.7zM105.7 127.7h0.7v0.7h-0.7zM108.3 105.3h0.7v0.7h-0.7zM112.6 117.3h0.7v0.7h-0.7zM109.1 122.9h0.7v0.7h-0.7zM100.8 126.1h0.7v0.7h-0.7zM96.7 123.4h0.7v0.7h-0.7zM110.7 121.3h0.7v0.7h-0.7zM111.8 125.0h0.7v0.7h-0.7zM110.8 116.8h0.7v0.7h-0.7zM106.2 101.6h0.7v0.7h-0.7zM107.6 118.1h0.7v0.7h-0.7zM99.6 115.8h0.7v0.7h-0.7zM98.8 120.1h0.7v0.7h-0.7zM108.5 121.7h0.7v0.7h-0.7zM114.3 123.6h0.7v0.7h-0.7zM104.4 118.7h0.7v0.7h-0.7zM97.5 109.8h0.7v0.7h-0.7zM99.0 113.5h0.7v0.7h-0.7zM99.1 121.7h0.7v0.7h-0.7zM102.9 123.6h0.7v0.7h-0.7zM102.8 125.5h0.7v0.7h-0.7zM99.7 124.0h0.7v0.7h-0.7zM98.5 141.4h0.7v0.7h-0.7zM104.7 127.9h0.7v0.7h-0.7zM106.1 115.0h0.7v0.7h-0.7zM110.1 123.7h0.7v0.7h-0.7zM99.1 131.4h0.7v0.7h-0.7zM101.8 126.5h0.7v0.7h-0.7zM97.0 120.3h0.7v0.7h-0.7zM105.3 122.8h0.7v0.7h-0.7zM104.3 115.7h0.7v0.7h-0.7zM112.4 116.0h0.7v0.7h-0.7zM102.0 120.4h0.7v0.7h-0.7zM103.9 122.4h0.7v0.7h-0.7zM98.4 116.5h0.7v0.7h-0.7zM103.3 114.5h0.7v0.7h-0.7zM112.4 113.0h0.7v0.7h-0.7zM101.8 113.3h0.7v0.7h-0.7zM109.3 117.3h0.7v0.7h-0.7zM107.1 107.6h0.7v0.7h-0.7zM92.9 109.1h0.7v0.7h-0.7zM69.4 112.2h0.7v0.7h-0.7zM72.8 105.1h0.7v0.7h-0.7zM106.9 107.0h0.7v0.7h-0.7zM76.8 104.8h0.7v0.7h-0.7zM87.0 114.1h0.7v0.7h-0.7zM77.2 100.8h0.7v0.7h-0.7zM61.0 111.8h0.7v0.7h-0.7zM92.1 108.7h0.7v0.7h-0.7zM101.8 105.6h0.7v0.7h-0.7zM88.5 110.2h0.7v0.7h-0.7zM86.8 111.9h0.7v0.7h-0.7zM78.6 103.4h0.7v0.7h-0.7zM80.8 108.2h0.7v0.7h-0.7zM71.6 113.9h0.7v0.7h-0.7zM82.7 103.2h0.7v0.7h-0.7zM74.6 105.8h0.7v0.7h-0.7zM91.4 107.8h0.7v0.7h-0.7zM83.3 108.0h0.7v0.7h-0.7zM78.2 109.7h0.7v0.7h-0.7zM74.4 109.3h0.7v0.7h-0.7zM86.5 103.7h0.7v0.7h-0.7zM95.3 105.0h0.7v0.7h-0.7zM78.7 110.6h0.7v0.7h-0.7zM81.4 105.8h0.7v0.7h-0.7zM76.7 99.5h0.7v0.7h-0.7zM81.8 102.7h0.7v0.7h-0.7zM84.9 107.1h0.7v0.7h-0.7zM73.9 106.4h0.7v0.7h-0.7zM88.6 110.4h0.7v0.7h-0.7zM100.3 108.9h0.7v0.7h-0.7zM92.7 109.3h0.7v0.7h-0.7zM113.4 113.2h0.7v0.7h-0.7zM85.4 111.5h0.7v0.7h-0.7zM93.0 107.8h0.7v0.7h-0.7zM82.2 107.8h0.7v0.7h-0.7zM95.7 104.4h0.7v0.7h-0.7zM95.7 108.3h0.7v0.7h-0.7zM92.3 109.8h0.7v0.7h-0.7zM85.0 105.3h0.7v0.7h-0.7zM90.2 104.3h0.7v0.7h-0.7zM62.5 101.3h0.7v0.7h-0.7zM92.2 112.1h0.7v0.7h-0.7zM95.2 105.6h0.7v0.7h-0.7zM86.3 113.0h0.7v0.7h-0.7zM81.2 107.7h0.7v0.7h-0.7zM89.0 106.5h0.7v0.7h-0.7zM83.7 105.5h0.7v0.7h-0.7zM71.2 108.6h0.7v0.7h-0.7zM82.0 111.6h0.7v0.7h-0.7zM93.6 107.3h0.7v0.7h-0.7zM64.1 102.6h0.7v0.7h-0.7zM97.7 112.8h0.7v0.7h-0.7zM97.6 105.4h0.7v0.7h-0.7zM92.3 108.2h0.7v0.7h-0.7zM85.8 111.3h0.7v0.7h-0.7zM91.3 114.7h0.7v0.7h-0.7zM88.4 107.3h0.7v0.7h-0.7zM88.9 104.4h0.7v0.7h-0.7zM72.0 107.1h0.7v0.7h-0.7zM75.7 110.4h0.7v0.7h-0.7zM75.8 106.1h0.7v0.7h-0.7zM85.4 110.6h0.7v0.7h-0.7zM90.0 111.7h0.7v0.7h-0.7zM66.9 105.9h0.7v0.7h-0.7zM74.2 104.1h0.7v0.7h-0.7zM85.5 110.8h0.7v0.7h-0.7zM99.6 111.0h0.7v0.7h-0.7zM98.1 105.2h0.7v0.7h-0.7zM74.4 107.4h0.7v0.7h-0.7zM65.8 106.0h0.7v0.7h-0.7zM69.4 107.6h0.7v0.7h-0.7zM90.8 108.6h0.7v0.7h-0.7zM62.7 105.4h0.7v0.7h-0.7zM81.4 111.2h0.7v0.7h-0.7zM81.5 108.9h0.7v0.7h-0.7zM79.7 112.2h0.7v0.7h-0.7zM75.7 110.0h0.7v0.7h-0.7zM69.3 106.8h0.7v0.7h-0.7zM71.5 104.2h0.7v0.7h-0.7zM96.2 104.6h0.7v0.7h-0.7zM62.0 104.7h0.7v0.7h-0.7zM71.3 108.9h0.7v0.7h-0.7zM97.6 109.7h0.7v0.7h-0.7zM62.2 103.8h0.7v0.7h-0.7zM91.4 108.5h0.7v0.7h-0.7zM85.1 101.9h0.7v0.7h-0.7zM80.2 105.4h0.7v0.7h-0.7zM96.4 105.6h0.7v0.7h-0.7zM95.3 102.5h0.7v0.7h-0.7zM77.2 104.2h0.7v0.7h-0.7zM81.0 106.1h0.7v0.7h-0.7zM84.0 100.1h0.7v0.7h-0.7zM71.9 104.5h0.7v0.7h-0.7zM83.3 102.8h0.7v0.7h-0.7zM97.4 112.2h0.7v0.7h-0.7zM86.1 105.2h0.7v0.7h-0.7zM79.1 107.0h0.7v0.7h-0.7zM84.2 110.6h0.7v0.7h-0.7zM64.8 107.7h0.7v0.7h-0.7zM101.3 105.6h0.7v0.7h-0.7zM80.0 110.1h0.7v0.7h-0.7zM95.5 109.8h0.7v0.7h-0.7zM73.6 110.3h0.7v0.7h-0.7zM69.9 109.8h0.7v0.7h-0.7zM84.6 104.2h0.7v0.7h-0.7zM67.5 107.7h0.7v0.7h-0.7zM89.1 111.8h0.7v0.7h-0.7zM91.3 109.2h0.7v0.7h-0.7zM72.0 108.8h0.7v0.7h-0.7zM67.0 111.7h0.7v0.7h-0.7zM81.2 113.2h0.7v0.7h-0.7zM82.9 105.3h0.7v0.7h-0.7zM80.5 112.5h0.7v0.7h-0.7zM70.4 105.7h0.7v0.7h-0.7zM88.1 106.1h0.7v0.7h-0.7zM98.1 116.3h0.7v0.7h-0.7zM78.5 111.6h0.7v0.7h-0.7zM82.9 109.1h0.7v0.7h-0.7zM91.3 102.6h0.7v0.7h-0.7zM82.7 108.9h0.7v0.7h-0.7zM85.0 104.9h0.7v0.7h-0.7zM84.7 105.1h0.7v0.7h-0.7zM90.0 107.4h0.7v0.7h-0.7zM80.1 109.5h0.7v0.7h-0.7zM70.3 103.6h0.7v0.7h-0.7zM93.7 110.3h0.7v0.7h-0.7zM94.0 106.2h0.7v0.7h-0.7zM81.0 102.5h0.7v0.7h-0.7zM61.1 114.1h0.7v0.7h-0.7zM64.9 98.7h0.7v0.7h-0.7zM64.0 106.4h0.7v0.7h-0.7zM66.8 99.0h0.7v0.7h-0.7zM59.4 103.4h0.7v0.7h-0.7zM66.0 104.2h0.7v0.7h-0.7zM71.2 108.1h0.7v0.7h-0.7zM67.3 102.0h0.7v0.7h-0.7zM59.7 99.3h0.7v0.7h-0.7zM74.4 101.7h0.7v0.7h-0.7zM69.8 112.7h0.7v0.7h-0.7zM60.7 100.9h0.7v0.7h-0.7zM63.8 102.6h0.7v0.7h-0.7zM66.6 94.6h0.7v0.7h-0.7zM66.2 106.0h0.7v0.7h-0.7zM73.0 102.7h0.7v0.7h-0.7zM56.1 95.5h0.7v0.7h-0.7zM67.1 106.6h0.7v0.7h-0.7zM64.3 102.7h0.7v0.7h-0.7zM62.4 106.5h0.7v0.7h-0.7zM53.5 96.1h0.7v0.7h-0.7zM56.0 104.4h0.7v0.7h-0.7zM67.3 106.1h0.7v0.7h-0.7zM73.6 101.3h0.7v0.7h-0.7zM63.5 107.0h0.7v0.7h-0.7zM62.4 115.6h0.7v0.7h-0.7zM65.8 106.7h0.7v0.7h-0.7zM61.8 109.0h0.7v0.7h-0.7zM64.5 98.1h0.7v0.7h-0.7zM64.7 98.5h0.7v0.7h-0.7zM65.2 99.8h0.7v0.7h-0.7zM60.4 101.1h0.7v0.7h-0.7zM61.4 105.6h0.7v0.7h-0.7zM65.8 100.4h0.7v0.7h-0.7zM68.9 101.3h0.7v0.7h-0.7zM70.1 110.5h0.7v0.7h-0.7zM66.6 98.5h0.7v0.7h-0.7zM62.7 113.7h0.7v0.7h-0.7zM61.5 114.6h0.7v0.7h-0.7zM64.6 102.6h0.7v0.7h-0.7zM57.3 115.9h0.7v0.7h-0.7zM64.4 100.5h0.7v0.7h-0.7zM56.0 109.1h0.7v0.7h-0.7zM65.8 104.3h0.7v0.7h-0.7zM62.5 99.2h0.7v0.7h-0.7zM61.0 99.9h0.7v0.7h-0.7zM57.6 104.0h0.7v0.7h-0.7zM63.3 101.6h0.7v0.7h-0.7zM54.1 97.0h0.7v0.7h-0.7zM65.1 103.5h0.7v0.7h-0.7zM60.8 103.5h0.7v0.7h-0.7zM66.6 103.8h0.7v0.7h-0.7zM66.9 101.1h0.7v0.7h-0.7zM65.0 103.0h0.7v0.7h-0.7zM58.2 102.9h0.7v0.7h-0.7zM60.7 106.2h0.7v0.7h-0.7zM64.3 102.0h0.7v0.7h-0.7zM67.8 95.1h0.7v0.7h-0.7zM66.1 97.6h0.7v0.7h-0.7zM59.7 107.0h0.7v0.7h-0.7zM63.6 107.9h0.7v0.7h-0.7zM62.2 103.8h0.7v0.7h-0.7zM69.4 104.0h0.7v0.7h-0.7zM69.6 102.2h0.7v0.7h-0.7zM65.2 105.2h0.7v0.7h-0.7zM68.5 106.5h0.7v0.7h-0.7zM63.5 98.5h0.7v0.7h-0.7zM72.5 107.7h0.7v0.7h-0.7zM64.0 101.0h0.7v0.7h-0.7zM69.4 95.3h0.7v0.7h-0.7zM62.0 110.1h0.7v0.7h-0.7zM67.2 104.2h0.7v0.7h-0.7zM66.3 115.2h0.7v0.7h-0.7zM63.1 100.2h0.7v0.7h-0.7zM63.4 101.4h0.7v0.7h-0.7zM67.3 106.0h0.7v0.7h-0.7zM67.6 93.9h0.7v0.7h-0.7zM62.5 107.9h0.7v0.7h-0.7zM59.8 105.8h0.7v0.7h-0.7zM61.9 98.7h0.7v0.7h-0.7zM63.6 108.0h0.7v0.7h-0.7zM62.0 103.3h0.7v0.7h-0.7zM64.7 106.9h0.7v0.7h-0.7zM63.9 105.4h0.7v0.7h-0.7zM58.0 102.8h0.7v0.7h-0.7zM60.9 115.4h0.7v0.7h-0.7zM62.0 109.5h0.7v0.7h-0.7zM60.0 98.4h0.7v0.7h-0.7zM64.6 103.4h0.7v0.7h-0.7zM64.8 104.9h0.7v0.7h-0.7zM66.6 106.9h0.7v0.7h-0.7zM56.9 101.6h0.7v0.7h-0.7zM66.9 98.8h0.7v0.7h-0.7zM59.2 102.9h0.7v0.7h-0.7zM64.1 107.4h0.7v0.7h-0.7zM62.3 106.0h0.7v0.7h-0.7zM61.4 101.3h0.7v0.7h-0.7zM67.0 103.0h0.7v0.7h-0.7zM63.7 100.1h0.7v0.7h-0.7zM64.1 109.3h0.7v0.7h-0.7zM53.2 101.1h0.7v0.7h-0.7zM63.9 105.0h0.7v0.7h-0.7zM70.3 108.9h0.7v0.7h-0.7zM72.1 109.0h0.7v0.7h-0.7zM67.1 114.0h0.7v0.7h-0.7zM58.5 113.0h0.7v0.7h-0.7zM59.8 105.3h0.7v0.7h-0.7zM67.5 104.3h0.7v0.7h-0.7zM54.6 107.3h0.7v0.7h-0.7zM55.8 102.9h0.7v0.7h-0.7zM58.2 106.2h0.7v0.7h-0.7zM61.9 102.4h0.7v0.7h-0.7zM58.1 99.8h0.7v0.7h-0.7zM61.3 105.6h0.7v0.7h-0.7zM65.6 108.5h0.7v0.7h-0.7zM67.8 102.4h0.7v0.7h-0.7zM63.8 109.7h0.7v0.7h-0.7zM63.2 94.3h0.7v0.7h-0.7zM66.7 107.9h0.7v0.7h-0.7zM66.8 105.4h0.7v0.7h-0.7zM61.0 104.8h0.7v0.7h-0.7zM68.4 110.5h0.7v0.7h-0.7zM65.0 112.2h0.7v0.7h-0.7zM65.0 106.3h0.7v0.7h-0.7zM66.1 112.5h0.7v0.7h-0.7zM65.9 105.8h0.7v0.7h-0.7zM60.2 100.5h0.7v0.7h-0.7zM65.9 101.2h0.7v0.7h-0.7zM69.5 106.3h0.7v0.7h-0.7zM59.4 107.4h0.7v0.7h-0.7zM66.9 114.9h0.7v0.7h-0.7zM64.1 100.3h0.7v0.7h-0.7zM62.2 105.9h0.7v0.7h-0.7zM65.6 103.6h0.7v0.7h-0.7zM61.2 105.9h0.7v0.7h-0.7zM58.1 104.8h0.7v0.7h-0.7zM63.3 110.6h0.7v0.7h-0.7zM62.1 100.8h0.7v0.7h-0.7zM67.4 103.4h0.7v0.7h-0.7zM54.3 98.9h0.7v0.7h-0.7zM63.4 104.3h0.7v0.7h-0.7zM63.5 106.3h0.7v0.7h-0.7zM71.0 109.7h0.7v0.7h-0.7zM62.0 101.6h0.7v0.7h-0.7zM60.6 107.2h0.7v0.7h-0.7zM65.8 106.6h0.7v0.7h-0.7zM72.6 105.3h0.7v0.7h-0.7zM58.8 105.8h0.7v0.7h-0.7zM66.0 98.4h0.7v0.7h-0.7zM57.2 105.4h0.7v0.7h-0.7zM60.0 103.2h0.7v0.7h-0.7zM63.6 101.8h0.7v0.7h-0.7zM61.4 102.6h0.7v0.7h-0.7zM61.0 103.8h0.7v0.7h-0.7zM59.8 103.3h0.7v0.7h-0.7zM62.1 100.0h0.7v0.7h-0.7zM67.8 108.2h0.7v0.7h-0.7zM58.1 108.4h0.7v0.7h-0.7zM63.0 103.3h0.7v0.7h-0.7zM62.8 103.5h0.7v0.7h-0.7zM67.9 100.5h0.7v0.7h-0.7zM60.2 101.8h0.7v0.7h-0.7zM66.7 105.3h0.7v0.7h-0.7zM62.8 107.0h0.7v0.7h-0.7zM66.6 103.4h0.7v0.7h-0.7zM60.6 103.8h0.7v0.7h-0.7zM64.5 102.1h0.7v0.7h-0.7zM65.9 103.5h0.7v0.7h-0.7zM63.3 109.4h0.7v0.7h-0.7zM62.8 106.0h0.7v0.7h-0.7zM63.8 102.4h0.7v0.7h-0.7zM63.4 104.8h0.7v0.7h-0.7zM67.2 105.5h0.7v0.7h-0.7zM63.2 103.9h0.7v0.7h-0.7zM60.0 105.5h0.7v0.7h-0.7zM74.2 102.0h0.7v0.7h-0.7zM58.3 99.6h0.7v0.7h-0.7zM68.3 105.6h0.7v0.7h-0.7zM70.0 98.0h0.7v0.7h-0.7zM61.9 95.7h0.7v0.7h-0.7zM68.5 101.6h0.7v0.7h-0.7zM66.3 110.7h0.7v0.7h-0.7zM63.9 114.5h0.7v0.7h-0.7zM65.6 113.6h0.7v0.7h-0.7zM60.2 98.0h0.7v0.7h-0.7zM64.5 109.5h0.7v0.7h-0.7zM51.6 101.9h0.7v0.7h-0.7zM61.4 96.2h0.7v0.7h-0.7zM67.7 103.7h0.7v0.7h-0.7zM60.0 99.4h0.7v0.7h-0.7zM60.3 105.8h0.7v0.7h-0.7zM62.5 105.7h0.7v0.7h-0.7zM66.3 102.7h0.7v0.7h-0.7zM65.6 100.2h0.7v0.7h-0.7zM63.0 105.3h0.7v0.7h-0.7zM60.8 104.1h0.7v0.7h-0.7zM58.8 110.2h0.7v0.7h-0.7zM64.8 103.3h0.7v0.7h-0.7zM61.6 93.7h0.7v0.7h-0.7zM67.9 96.6h0.7v0.7h-0.7zM64.3 98.2h0.7v0.7h-0.7zM66.0 105.0h0.7v0.7h-0.7zM64.7 99.2h0.7v0.7h-0.7zM57.4 105.2h0.7v0.7h-0.7zM60.9 106.2h0.7v0.7h-0.7zM61.4 115.0h0.7v0.7h-0.7zM57.1 106.2h0.7v0.7h-0.7zM62.0 99.8h0.7v0.7h-0.7zM59.6 107.4h0.7v0.7h-0.7zM58.2 103.2h0.7v0.7h-0.7zM64.6 109.2h0.7v0.7h-0.7zM63.4 100.0h0.7v0.7h-0.7zM57.2 107.5h0.7v0.7h-0.7zM60.5 98.6h0.7v0.7h-0.7zM68.4 108.3h0.7v0.7h-0.7zM63.4 101.5h0.7v0.7h-0.7zM67.2 113.6h0.7v0.7h-0.7zM56.6 106.2h0.7v0.7h-0.7zM71.3 108.2h0.7v0.7h-0.7zM61.1 102.0h0.7v0.7h-0.7zM61.8 98.3h0.7v0.7h-0.7zM64.9 119.4h0.7v0.7h-0.7zM67.0 104.9h0.7v0.7h-0.7zM68.1 95.4h0.7v0.7h-0.7zM67.8 115.3h0.7v0.7h-0.7zM66.6 106.7h0.7v0.7h-0.7zM64.1 101.3h0.7v0.7h-0.7zM61.2 108.2h0.7v0.7h-0.7zM59.6 103.8h0.7v0.7h-0.7zM63.4 109.5h0.7v0.7h-0.7zM58.5 94.1h0.7v0.7h-0.7zM64.8 93.5h0.7v0.7h-0.7zM64.8 89.5h0.7v0.7h-0.7zM62.5 89.5h0.7v0.7h-0.7zM66.0 93.5h0.7v0.7h-0.7zM68.2 91.5h0.7v0.7h-0.7zM60.0 96.3h0.7v0.7h-0.7zM65.8 99.5h0.7v0.7h-0.7zM63.0 91.3h0.7v0.7h-0.7zM64.1 90.0h0.7v0.7h-0.7zM63.6 94.3h0.7v0.7h-0.7zM66.5 95.6h0.7v0.7h-0.7zM55.9 95.4h0.7v0.7h-0.7zM61.2 95.8h0.7v0.7h-0.7zM68.2 89.6h0.7v0.7h-0.7zM59.4 88.7h0.7v0.7h-0.7zM59.6 89.2h0.7v0.7h-0.7zM62.7 91.5h0.7v0.7h-0.7zM58.9 90.4h0.7v0.7h-0.7zM62.4 90.5h0.7v0.7h-0.7zM69.2 93.5h0.7v0.7h-0.7zM67.2 88.2h0.7v0.7h-0.7zM60.3 91.3h0.7v0.7h-0.7zM64.5 94.6h0.7v0.7h-0.7zM64.4 92.5h0.7v0.7h-0.7zM61.0 93.8h0.7v0.7h-0.7zM53.3 97.7h0.7v0.7h-0.7zM70.0 94.7h0.7v0.7h-0.7zM63.8 92.2h0.7v0.7h-0.7zM65.0 94.9h0.7v0.7h-0.7zM65.8 95.2h0.7v0.7h-0.7zM67.9 86.4h0.7v0.7h-0.7zM60.0 91.9h0.7v0.7h-0.7zM61.1 91.8h0.7v0.7h-0.7zM60.8 92.3h0.7v0.7h-0.7zM59.7 93.1h0.7v0.7h-0.7zM59.1 91.9h0.7v0.7h-0.7zM60.8 91.4h0.7v0.7h-0.7zM61.6 95.0h0.7v0.7h-0.7zM62.7 92.9h0.7v0.7h-0.7zM60.3 90.2h0.7v0.7h-0.7zM65.9 98.2h0.7v0.7h-0.7zM60.2 88.8h0.7v0.7h-0.7zM55.0 95.7h0.7v0.7h-0.7zM63.9 96.1h0.7v0.7h-0.7zM60.7 92.5h0.7v0.7h-0.7zM54.3 93.9h0.7v0.7h-0.7zM70.5 93.5h0.7v0.7h-0.7zM66.8 95.6h0.7v0.7h-0.7zM62.5 90.1h0.7v0.7h-0.7zM93.7 71.8h0.7v0.7h-0.7zM92.6 80.6h0.7v0.7h-0.7zM84.5 71.9h0.7v0.7h-0.7zM83.2 79.9h0.7v0.7h-0.7zM89.3 84.1h0.7v0.7h-0.7zM71.6 79.1h0.7v0.7h-0.7zM85.9 87.5h0.7v0.7h-0.7zM80.6 76.1h0.7v0.7h-0.7zM90.0 77.0h0.7v0.7h-0.7zM87.0 76.2h0.7v0.7h-0.7zM86.8 74.3h0.7v0.7h-0.7zM78.1 88.7h0.7v0.7h-0.7zM74.8 86.4h0.7v0.7h-0.7zM82.7 80.1h0.7v0.7h-0.7zM83.9 83.5h0.7v0.7h-0.7zM87.1 80.7h0.7v0.7h-0.7zM76.8 76.9h0.7v0.7h-0.7zM82.8 75.4h0.7v0.7h-0.7zM103.5 81.9h0.7v0.7h-0.7zM85.8 70.1h0.7v0.7h-0.7zM79.7 81.7h0.7v0.7h-0.7zM89.4 79.1h0.7v0.7h-0.7zM81.7 79.2h0.7v0.7h-0.7zM79.3 91.5h0.7v0.7h-0.7zM93.9 75.8h0.7v0.7h-0.7zM95.5 83.0h0.7v0.7h-0.7zM100.7 74.3h0.7v0.7h-0.7zM92.5 81.5h0.7v0.7h-0.7zM83.0 80.1h0.7v0.7h-0.7zM77.7 84.7h0.7v0.7h-0.7zM84.7 88.8h0.7v0.7h-0.7zM92.7 78.7h0.7v0.7h-0.7zM71.8 79.2h0.7v0.7h-0.7zM91.6 85.4h0.7v0.7h-0.7zM70.6 75.7h0.7v0.7h-0.7zM69.7 74.7h0.7v0.7h-0.7zM85.0 77.2h0.7v0.7h-0.7zM86.6 73.9h0.7v0.7h-0.7zM76.3 77.9h0.7v0.7h-0.7zM77.8 77.4h0.7v0.7h-0.7zM70.0 84.7h0.7v0.7h-0.7zM88.5 84.8h0.7v0.7h-0.7zM85.5 80.3h0.7v0.7h-0.7zM94.4 83.2h0.7v0.7h-0.7zM97.6 79.6h0.7v0.7h-0.7zM86.1 81.5h0.7v0.7h-0.7zM81.5 92.4h0.7v0.7h-0.7zM80.3 89.5h0.7v0.7h-0.7zM82.8 78.6h0.7v0.7h-0.7zM94.2 77.0h0.7v0.7h-0.7zM104.3 82.4h0.7v0.7h-0.7zM83.1 78.5h0.7v0.7h-0.7zM78.2 83.1h0.7v0.7h-0.7zM88.6 87.1h0.7v0.7h-0.7zM94.1 73.9h0.7v0.7h-0.7zM94.5 93.5h0.7v0.7h-0.7zM82.1 78.0h0.7v0.7h-0.7zM98.3 70.0h0.7v0.7h-0.7zM98.4 66.9h0.7v0.7h-0.7zM83.0 79.6h0.7v0.7h-0.7zM97.4 75.8h0.7v0.7h-0.7zM113.6 79.4h0.7v0.7h-0.7zM83.9 77.9h0.7v0.7h-0.7zM89.0 78.6h0.7v0.7h-0.7zM77.9 82.8h0.7v0.7h-0.7zM90.1 83.9h0.7v0.7h-0.7zM85.1 77.1h0.7v0.7h-0.7zM83.3 76.9h0.7v0.7h-0.7zM98.9 89.3h0.7v0.7h-0.7zM86.0 80.5h0.7v0.7h-0.7zM78.0 75.7h0.7v0.7h-0.7zM64.7 74.8h0.7v0.7h-0.7zM83.1 86.5h0.7v0.7h-0.7zM88.4 76.7h0.7v0.7h-0.7zM80.2 77.1h0.7v0.7h-0.7zM88.6 79.5h0.7v0.7h-0.7zM91.1 88.0h0.7v0.7h-0.7zM97.2 84.0h0.7v0.7h-0.7zM78.8 86.3h0.7v0.7h-0.7zM77.2 73.7h0.7v0.7h-0.7zM91.0 78.7h0.7v0.7h-0.7zM93.2 81.6h0.7v0.7h-0.7zM94.3 81.5h0.7v0.7h-0.7zM92.3 79.5h0.7v0.7h-0.7zM84.2 81.0h0.7v0.7h-0.7zM84.0 74.7h0.7v0.7h-0.7zM65.3 77.9h0.7v0.7h-0.7zM84.0 87.2h0.7v0.7h-0.7zM86.7 92.1h0.7v0.7h-0.7zM94.6 79.6h0.7v0.7h-0.7zM91.1 78.7h0.7v0.7h-0.7zM94.7 81.3h0.7v0.7h-0.7zM83.7 83.2h0.7v0.7h-0.7zM83.5 83.4h0.7v0.7h-0.7zM78.3 86.8h0.7v0.7h-0.7zM87.6 86.8h0.7v0.7h-0.7zM92.1 74.9h0.7v0.7h-0.7zM91.5 82.3h0.7v0.7h-0.7zM91.2 83.0h0.7v0.7h-0.7zM83.6 72.1h0.7v0.7h-0.7zM83.3 80.5h0.7v0.7h-0.7zM66.4 74.4h0.7v0.7h-0.7zM75.2 82.1h0.7v0.7h-0.7zM76.5 78.2h0.7v0.7h-0.7zM89.2 79.4h0.7v0.7h-0.7zM67.3 85.6h0.7v0.7h-0.7zM102.6 87.0h0.7v0.7h-0.7zM76.8 78.0h0.7v0.7h-0.7zM106.5 73.2h0.7v0.7h-0.7zM90.1 82.9h0.7v0.7h-0.7zM93.6 81.8h0.7v0.7h-0.7zM78.0 78.7h0.7v0.7h-0.7zM84.8 79.0h0.7v0.7h-0.7zM95.6 81.1h0.7v0.7h-0.7zM82.5 85.0h0.7v0.7h-0.7zM78.4 74.9h0.7v0.7h-0.7zM89.5 80.6h0.7v0.7h-0.7zM100.9 81.2h0.7v0.7h-0.7zM102.0 76.4h0.7v0.7h-0.7zM71.3 82.8h0.7v0.7h-0.7zM82.9 79.0h0.7v0.7h-0.7zM99.4 84.1h0.7v0.7h-0.7zM73.1 79.2h0.7v0.7h-0.7zM80.6 82.8h0.7v0.7h-0.7zM88.1 86.0h0.7v0.7h-0.7zM75.0 81.4h0.7v0.7h-0.7zM71.4 81.4h0.7v0.7h-0.7zM102.5 85.6h0.7v0.7h-0.7zM89.1 85.0h0.7v0.7h-0.7zM85.9 80.7h0.7v0.7h-0.7zM86.4 80.1h0.7v0.7h-0.7zM81.2 80.0h0.7v0.7h-0.7zM78.7 74.7h0.7v0.7h-0.7zM90.8 77.3h0.7v0.7h-0.7zM82.8 87.9h0.7v0.7h-0.7zM90.3 70.5h0.7v0.7h-0.7zM101.2 74.9h0.7v0.7h-0.7zM96.6 80.4h0.7v0.7h-0.7zM76.2 70.0h0.7v0.7h-0.7zM78.7 80.9h0.7v0.7h-0.7zM91.3 81.6h0.7v0.7h-0.7zM93.8 83.5h0.7v0.7h-0.7zM97.0 87.6h0.7v0.7h-0.7zM93.5 85.7h0.7v0.7h-0.7zM83.6 84.1h0.7v0.7h-0.7zM89.5 85.1h0.7v0.7h-0.7zM88.4 73.7h0.7v0.7h-0.7zM79.7 80.3h0.7v0.7h-0.7zM79.0 89.1h0.7v0.7h-0.7zM97.6 83.4h0.7v0.7h-0.7zM89.1 73.8h0.7v0.7h-0.7zM82.6 83.2h0.7v0.7h-0.7zM81.1 73.0h0.7v0.7h-0.7zM90.1 84.0h0.7v0.7h-0.7zM87.1 78.4h0.7v0.7h-0.7zM95.6 75.4h0.7v0.7h-0.7zM91.9 91.5h0.7v0.7h-0.7zM79.2 86.3h0.7v0.7h-0.7zM81.2 80.5h0.7v0.7h-0.7zM83.1 82.4h0.7v0.7h-0.7zM81.3 67.9h0.7v0.7h-0.7zM91.6 81.3h0.7v0.7h-0.7zM75.1 82.5h0.7v0.7h-0.7zM74.2 83.8h0.7v0.7h-0.7zM90.7 79.8h0.7v0.7h-0.7zM91.4 85.1h0.7v0.7h-0.7zM76.7 73.1h0.7v0.7h-0.7zM67.4 80.0h0.7v0.7h-0.7zM105.0 79.2h0.7v0.7h-0.7zM67.5 90.7h0.7v0.7h-0.7zM71.8 75.8h0.7v0.7h-0.7zM86.7 79.1h0.7v0.7h-0.7zM102.2 79.9h0.7v0.7h-0.7zM78.3 73.3h0.7v0.7h-0.7zM78.4 85.0h0.7v0.7h-0.7zM80.9 83.2h0.7v0.7h-0.7zM78.2 82.7h0.7v0.7h-0.7zM89.6 74.8h0.7v0.7h-0.7zM95.6 86.9h0.7v0.7h-0.7zM80.8 68.9h0.7v0.7h-0.7zM85.7 79.7h0.7v0.7h-0.7zM101.5 88.7h0.7v0.7h-0.7zM81.2 75.3h0.7v0.7h-0.7zM88.8 78.6h0.7v0.7h-0.7zM88.8 76.8h0.7v0.7h-0.7zM102.9 81.6h0.7v0.7h-0.7zM86.7 79.5h0.7v0.7h-0.7zM76.6 68.4h0.7v0.7h-0.7zM94.2 75.3h0.7v0.7h-0.7zM94.7 72.0h0.7v0.7h-0.7zM66.6 78.4h0.7v0.7h-0.7zM88.6 83.1h0.7v0.7h-0.7zM72.5 87.0h0.7v0.7h-0.7zM92.1 82.7h0.7v0.7h-0.7zM61.1 80.6h0.7v0.7h-0.7zM60.9 78.6h0.7v0.7h-0.7zM93.1 82.8h0.7v0.7h-0.7zM89.7 82.4h0.7v0.7h-0.7zM91.8 76.6h0.7v0.7h-0.7zM76.1 81.9h0.7v0.7h-0.7zM110.8 82.4h0.7v0.7h-0.7zM70.3 72.0h0.7v0.7h-0.7zM94.4 85.3h0.7v0.7h-0.7zM89.1 71.7h0.7v0.7h-0.7zM72.3 85.2h0.7v0.7h-0.7zM97.4 75.6h0.7v0.7h-0.7zM86.1 76.6h0.7v0.7h-0.7zM75.1 75.5h0.7v0.7h-0.7zM90.1 87.8h0.7v0.7h-0.7zM97.0 86.0h0.7v0.7h-0.7zM84.8 80.6h0.7v0.7h-0.7zM79.4 88.1h0.7v0.7h-0.7zM77.8 84.1h0.7v0.7h-0.7zM82.9 80.5h0.7v0.7h-0.7zM76.3 80.9h0.7v0.7h-0.7zM85.5 76.1h0.7v0.7h-0.7zM102.6 81.5h0.7v0.7h-0.7zM85.6 79.0h0.7v0.7h-0.7zM92.0 88.8h0.7v0.7h-0.7zM82.6 84.0h0.7v0.7h-0.7zM70.6 73.7h0.7v0.7h-0.7zM84.9 78.9h0.7v0.7h-0.7zM65.0 88.4h0.7v0.7h-0.7zM78.3 74.6h0.7v0.7h-0.7zM79.5 72.5h0.7v0.7h-0.7zM103.3 82.4h0.7v0.7h-0.7zM89.9 85.3h0.7v0.7h-0.7zM86.2 81.1h0.7v0.7h-0.7zM91.5 85.0h0.7v0.7h-0.7zM84.4 74.9h0.7v0.7h-0.7zM70.7 84.7h0.7v0.7h-0.7zM75.9 75.0h0.7v0.7h-0.7zM80.3 77.6h0.7v0.7h-0.7zM93.2 78.6h0.7v0.7h-0.7zM90.9 91.0h0.7v0.7h-0.7zM71.8 82.7h0.7v0.7h-0.7zM79.6 80.0h0.7v0.7h-0.7zM79.8 83.2h0.7v0.7h-0.7zM77.6 82.1h0.7v0.7h-0.7zM92.0 80.2h0.7v0.7h-0.7zM82.5 74.3h0.7v0.7h-0.7zM86.5 88.9h0.7v0.7h-0.7zM88.1 90.8h0.7v0.7h-0.7zM97.5 79.3h0.7v0.7h-0.7zM69.3 85.2h0.7v0.7h-0.7zM84.0 78.6h0.7v0.7h-0.7zM69.3 77.1h0.7v0.7h-0.7zM86.3 70.8h0.7v0.7h-0.7zM83.4 91.0h0.7v0.7h-0.7zM86.5 75.1h0.7v0.7h-0.7zM88.7 74.8h0.7v0.7h-0.7zM88.5 87.0h0.7v0.7h-0.7zM91.5 71.7h0.7v0.7h-0.7zM93.3 67.0h0.7v0.7h-0.7zM89.5 67.5h0.7v0.7h-0.7zM79.1 81.9h0.7v0.7h-0.7zM81.6 84.2h0.7v0.7h-0.7zM78.6 84.0h0.7v0.7h-0.7zM96.0 83.3h0.7v0.7h-0.7zM79.0 77.4h0.7v0.7h-0.7zM63.9 98.1h0.7v0.7h-0.7zM66.5 63.1h0.7v0.7h-0.7zM62.0 97.3h0.7v0.7h-0.7zM68.1 95.5h0.7v0.7h-0.7zM68.3 61.2h0.7v0.7h-0.7zM58.4 71.2h0.7v0.7h-0.7zM63.3 58.4h0.7v0.7h-0.7zM65.1 99.5h0.7v0.7h-0.7zM57.9 70.6h0.7v0.7h-0.7zM57.2 79.6h0.7v0.7h-0.7zM69.5 68.0h0.7v0.7h-0.7zM61.4 63.4h0.7v0.7h-0.7zM61.0 93.0h0.7v0.7h-0.7zM61.0 63.1h0.7v0.7h-0.7zM68.3 65.0h0.7v0.7h-0.7zM60.8 61.0h0.7v0.7h-0.7zM71.9 84.5h0.7v0.7h-0.7zM60.5 64.9h0.7v0.7h-0.7zM66.7 62.9h0.7v0.7h-0.7zM69.1 63.2h0.7v0.7h-0.7zM58.3 85.4h0.7v0.7h-0.7zM65.3 95.6h0.7v0.7h-0.7zM62.4 94.1h0.7v0.7h-0.7zM65.0 59.8h0.7v0.7h-0.7zM58.8 89.0h0.7v0.7h-0.7zM71.1 71.9h0.7v0.7h-0.7zM67.2 59.5h0.7v0.7h-0.7zM71.7 74.1h0.7v0.7h-0.7zM62.6 94.4h0.7v0.7h-0.7zM68.1 64.8h0.7v0.7h-0.7zM61.1 64.3h0.7v0.7h-0.7zM71.5 88.8h0.7v0.7h-0.7zM70.5 87.1h0.7v0.7h-0.7zM66.6 97.4h0.7v0.7h-0.7zM56.1 82.8h0.7v0.7h-0.7zM70.6 67.6h0.7v0.7h-0.7zM70.7 73.8h0.7v0.7h-0.7zM72.7 73.7h0.7v0.7h-0.7zM58.3 91.5h0.7v0.7h-0.7zM65.3 94.1h0.7v0.7h-0.7zM62.9 61.9h0.7v0.7h-0.7zM58.0 71.7h0.7v0.7h-0.7zM56.5 85.1h0.7v0.7h-0.7zM67.1 95.9h0.7v0.7h-0.7zM71.3 78.0h0.7v0.7h-0.7zM64.5 94.4h0.7v0.7h-0.7zM71.2 89.2h0.7v0.7h-0.7zM69.1 66.3h0.7v0.7h-0.7zM64.0 94.7h0.7v0.7h-0.7zM66.0 98.2h0.7v0.7h-0.7zM64.8 99.6h0.7v0.7h-0.7zM65.3 99.2h0.7v0.7h-0.7zM70.8 87.2h0.7v0.7h-0.7zM66.5 95.3h0.7v0.7h-0.7zM70.4 70.7h0.7v0.7h-0.7zM64.9 95.8h0.7v0.7h-0.7zM70.7 71.8h0.7v0.7h-0.7zM60.7 95.3h0.7v0.7h-0.7zM57.8 68.2h0.7v0.7h-0.7zM57.7 72.3h0.7v0.7h-0.7zM61.8 93.1h0.7v0.7h-0.7zM71.5 68.9h0.7v0.7h-0.7zM57.7 84.0h0.7v0.7h-0.7zM57.4 65.7h0.7v0.7h-0.7zM70.2 64.3h0.7v0.7h-0.7zM69.8 61.8h0.7v0.7h-0.7zM72.7 78.7h0.7v0.7h-0.7zM70.6 72.5h0.7v0.7h-0.7zM59.5 66.4h0.7v0.7h-0.7zM68.1 94.9h0.7v0.7h-0.7zM68.1 92.5h0.7v0.7h-0.7zM71.2 77.2h0.7v0.7h-0.7zM63.1 96.3h0.7v0.7h-0.7zM58.0 72.1h0.7v0.7h-0.7zM71.0 80.8h0.7v0.7h-0.7zM69.7 67.3h0.7v0.7h-0.7zM71.6 69.2h0.7v0.7h-0.7zM64.9 58.4h0.7v0.7h-0.7zM59.8 90.9h0.7v0.7h-0.7zM68.2 63.9h0.7v0.7h-0.7zM61.3 64.0h0.7v0.7h-0.7zM69.7 65.4h0.7v0.7h-0.7zM58.8 88.2h0.7v0.7h-0.7zM59.9 65.7h0.7v0.7h-0.7zM67.0 61.3h0.7v0.7h-0.7zM63.9 94.5h0.7v0.7h-0.7zM71.0 72.7h0.7v0.7h-0.7zM60.2 60.7h0.7v0.7h-0.7zM58.4 85.6h0.7v0.7h-0.7zM66.2 57.4h0.7v0.7h-0.7zM66.3 96.1h0.7v0.7h-0.7zM57.6 80.5h0.7v0.7h-0.7zM58.3 89.3h0.7v0.7h-0.7zM61.0 61.6h0.7v0.7h-0.7zM70.9 79.6h0.7v0.7h-0.7zM70.9 92.0h0.7v0.7h-0.7zM57.4 73.8h0.7v0.7h-0.7zM65.4 60.8h0.7v0.7h-0.7zM59.0 61.5h0.7v0.7h-0.7zM67.1 92.9h0.7v0.7h-0.7zM71.8 67.9h0.7v0.7h-0.7zM67.4 93.4h0.7v0.7h-0.7zM57.5 83.5h0.7v0.7h-0.7zM71.2 75.0h0.7v0.7h-0.7zM69.0 92.9h0.7v0.7h-0.7zM59.9 65.2h0.7v0.7h-0.7zM71.4 79.3h0.7v0.7h-0.7zM58.0 84.5h0.7v0.7h-0.7zM66.6 97.3h0.7v0.7h-0.7zM71.1 77.4h0.7v0.7h-0.7zM61.4 94.0h0.7v0.7h-0.7zM93.5 141.5h0.7v0.7h-0.7zM62.0 84.0h0.7v0.7h-0.7zM126.2 69.6h0.7v0.7h-0.7zM127.6 146.0h0.7v0.7h-0.7zM116.5 75.6h0.7v0.7h-0.7z" fill="#222" fill-opacity="0.8"/>
<ellipse cx="64.6" cy="79.0" rx="6.5" ry="15.3" fill="#d8d8d8"/>
<ellipse cx="64.6" cy="79.0" rx="6.5" ry="15.3" fill="none" stroke="#222" stroke-width="0.9"/>
<ellipse cx="64.69999999999999" cy="78.5" rx="5.3" ry="12.6" fill="none" stroke="#555" stroke-width="0.7"/>
<ellipse cx="64.8" cy="78.0" rx="4.2" ry="10.1" fill="none" stroke="#666" stroke-width="0.7"/>
<ellipse cx="64.89999999999999" cy="77.5" rx="3.2" ry="7.7" fill="none" stroke="#777" stroke-width="0.7"/>
<ellipse cx="65.0" cy="77.0" rx="2.2" ry="5.3" fill="none" stroke="#888" stroke-width="0.65"/>
<ellipse cx="64.89999999999999" cy="76.4" rx="1.1" ry="3.2" fill="#fff"/>
<path d="M71 78 q3 -4 6 -1 t6 1 t6 -2 t5 2 t4 0" fill="none" stroke="#444" stroke-width="0.55"/>
<path d="M71 83 q4 3 8 0 t8 -1 t7 1 t5 -1" fill="none" stroke="#444" stroke-width="0.55"/>
<path d="M72 74 q5 -2 9 1 t9 0" fill="none" stroke="#444" stroke-width="0.55"/>
<path d="M92 80 q4 -4 7 0 q-2 5 -7 0" fill="none" stroke="#444" stroke-width="0.55"/>
<path d="M74 86 q5 2 10 -1 t8 0" fill="none" stroke="#444" stroke-width="0.55"/>
<defs><radialGradient id="g1" cx="0.34" cy="0.56" r="0.6"><stop offset="0" stop-color="#1c1c1c"/><stop offset="0.3" stop-color="#333"/><stop offset="0.6" stop-color="#7c7c7c"/><stop offset="1" stop-color="#a8a8a8"/></radialGradient></defs>
<rect x="52.6" y="112.4" width="46.2" height="28.6" rx="14.3" ry="14.3" fill="none" stroke="#555" stroke-width="1.3"/>
<rect x="53.8" y="113.6" width="43.8" height="26.2" rx="13.1" ry="13.1" fill="url(#g1)"/>
<rect x="55.6" y="115.2" width="40" height="23" rx="11.5" ry="11.5" fill="none" stroke="#666" stroke-width="0.5"/>
<rect x="57.6" y="116.9" width="35.6" height="19.6" rx="9.8" ry="9.8" fill="none" stroke="#444" stroke-width="0.5"/>
<rect x="59.6" y="118.5" width="31" height="16.4" rx="8.2" ry="8.2" fill="none" stroke="#777" stroke-width="0.5"/>
<rect x="61.6" y="120.1" width="26.4" height="13.2" rx="6.6" ry="6.6" fill="none" stroke="#333" stroke-width="0.5"/>
<rect x="63.4" y="121.8" width="21.6" height="9.8" rx="4.9" ry="4.9" fill="none" stroke="#666" stroke-width="0.5"/>
<path d="M58 124 Q66 117 78 119 T92 124" fill="none" stroke="#333" stroke-width="0.7"/>
<path d="M58 132 Q68 137 80 134 T93 130" fill="none" stroke="#333" stroke-width="0.7"/>
<rect x="53.8" y="113.6" width="43.8" height="26.2" rx="13.1" ry="13.1" fill="none" stroke="#fff" stroke-width="1.0"/>
<ellipse cx="66.5" cy="128" rx="3.4" ry="1.9" fill="#fff"/>
<ellipse cx="77.2" cy="127.5" rx="2.6" ry="0.9" fill="#fff"/>
<ellipse cx="71.3" cy="128.2" rx="2" ry="0.8" fill="#ddd"/>
<path d="M32.5 147.5H34.25M32.5 145.3H34.25M32.5 143.1H34.25M32.5 140.9H34.25M32.5 138.7H34.25M32.5 136.5H34.25M32.5 134.3H34.25M32.5 132.1H34.25M32.5 129.9H34.25M32.5 127.7H34.25M32.5 125.5H34.25M32.5 123.3H34.25M32.5 121.1H34.25M32.5 118.9H34.25M31.6 128.0H34.25M31.6 112.6H34.25M32.5 103.3H34.25M32.5 97.8H34.25M32.5 93.9H34.25M32.5 90.9H34.25M32.5 88.5H34.25M32.5 86.4H34.25M32.5 84.6H34.25M32.5 83.0H34.25M31.6 81.6H34.25M32.5 73.8H34.25M32.5 69.2H34.25M32.5 65.9H34.25M32.5 63.4H34.25M32.5 61.4H34.25M32.5 59.6H34.25M32.5 58.1H34.25M32.5 56.8H34.25M31.6 55.6H34.25M32.5 52.6H34.25M32.5 50.9H34.25M32.5 49.7H34.25M32.5 48.8H34.25M32.5 48.0H34.25M32.5 47.3H34.25M32.5 46.7H34.25M32.5 46.2H34.25M39.8 153.75v1.8M42.0 153.75v1.8M44.1 153.75v1.8M46.4 153.75v1.8M48.5 153.75v1.8M50.8 153.75v1.8M53.0 153.75v1.8M55.2 153.75v1.8M57.4 153.75v1.8M59.5 153.75v1.8M61.8 153.75v1.8M64.0 153.75v1.8M66.2 153.75v1.8M68.3 153.75v1.8M70.6 153.75v1.8M72.8 153.75v1.8M75.0 153.75v1.8M76.2 153.75v2.6M85.3 153.75v1.8M90.6 153.75v1.8M94.3 153.75v1.8M97.2 153.75v1.8M99.6 153.75v1.8M101.6 153.75v1.8M103.3 153.75v1.8M104.9 153.75v1.8M106.2 153.75v2.6M113.5 153.75v1.8M117.7 153.75v1.8M120.7 153.75v1.8M123.0 153.75v1.8M124.9 153.75v1.8M126.5 153.75v1.8M127.9 153.75v1.8M129.2 153.75v1.8M130.2 153.75v2.6M137.5 153.75v1.8M141.7 153.75v1.8" stroke="#222" stroke-width="0.75" fill="none"/>
<rect x="31.2" y="125.5" width="3" height="3.5" fill="#222"/>
<rect x="57" y="153.7" width="3.5" height="3" fill="#222"/>
<rect x="162.8" y="125.5" width="3" height="3.5" fill="#222"/>
<rect x="188.5" y="153.7" width="3.5" height="3" fill="#222"/>
<path d="M190.4 115.5h0.8v0.8h-0.8zM193.0 114.3h0.8v0.8h-0.8zM199.9 115.9h0.8v0.8h-0.8zM202.6 133.5h0.8v0.8h-0.8zM201.9 117.5h0.8v0.8h-0.8zM208.1 120.7h0.8v0.8h-0.8zM197.3 109.8h0.8v0.8h-0.8zM186.9 113.4h0.8v0.8h-0.8zM205.2 122.2h0.8v0.8h-0.8zM206.6 131.5h0.8v0.8h-0.8zM192.7 111.7h0.8v0.8h-0.8zM206.1 123.0h0.8v0.8h-0.8zM191.2 115.4h0.8v0.8h-0.8zM204.1 132.4h0.8v0.8h-0.8zM208.7 127.2h0.8v0.8h-0.8zM187.3 114.7h0.8v0.8h-0.8zM205.3 119.2h0.8v0.8h-0.8zM204.0 113.5h0.8v0.8h-0.8zM195.0 109.9h0.8v0.8h-0.8zM198.6 114.5h0.8v0.8h-0.8zM205.5 120.3h0.8v0.8h-0.8zM206.2 119.7h0.8v0.8h-0.8zM203.5 116.9h0.8v0.8h-0.8zM198.8 141.3h0.8v0.8h-0.8zM201.2 115.5h0.8v0.8h-0.8zM206.2 124.2h0.8v0.8h-0.8zM198.5 110.3h0.8v0.8h-0.8zM205.2 127.2h0.8v0.8h-0.8zM194.6 114.1h0.8v0.8h-0.8zM204.3 131.1h0.8v0.8h-0.8zM206.1 116.7h0.8v0.8h-0.8zM193.7 140.0h0.8v0.8h-0.8zM192.8 114.4h0.8v0.8h-0.8zM205.8 117.4h0.8v0.8h-0.8zM204.4 114.6h0.8v0.8h-0.8zM187.8 119.2h0.8v0.8h-0.8zM199.5 110.9h0.8v0.8h-0.8zM202.4 134.4h0.8v0.8h-0.8zM204.6 132.5h0.8v0.8h-0.8zM198.5 111.4h0.8v0.8h-0.8zM206.1 118.0h0.8v0.8h-0.8zM208.7 125.9h0.8v0.8h-0.8zM207.6 131.7h0.8v0.8h-0.8zM193.3 112.4h0.8v0.8h-0.8zM202.0 134.7h0.8v0.8h-0.8zM194.1 114.6h0.8v0.8h-0.8zM202.1 136.0h0.8v0.8h-0.8zM205.3 133.6h0.8v0.8h-0.8zM191.5 112.9h0.8v0.8h-0.8zM197.6 113.0h0.8v0.8h-0.8zM200.7 111.1h0.8v0.8h-0.8zM201.9 117.1h0.8v0.8h-0.8zM206.3 125.9h0.8v0.8h-0.8zM197.4 137.9h0.8v0.8h-0.8zM204.8 119.3h0.8v0.8h-0.8zM200.2 112.1h0.8v0.8h-0.8zM200.0 138.4h0.8v0.8h-0.8zM187.7 117.4h0.8v0.8h-0.8zM207.7 124.3h0.8v0.8h-0.8zM205.6 119.9h0.8v0.8h-0.8zM205.4 126.8h0.8v0.8h-0.8zM207.9 124.8h0.8v0.8h-0.8zM197.2 110.9h0.8v0.8h-0.8zM204.6 121.1h0.8v0.8h-0.8zM201.5 115.1h0.8v0.8h-0.8zM197.9 112.0h0.8v0.8h-0.8zM203.5 116.0h0.8v0.8h-0.8zM196.4 113.2h0.8v0.8h-0.8zM206.4 117.5h0.8v0.8h-0.8zM202.2 133.9h0.8v0.8h-0.8zM198.6 140.4h0.8v0.8h-0.8zM204.6 122.1h0.8v0.8h-0.8zM205.1 116.8h0.8v0.8h-0.8zM203.6 137.3h0.8v0.8h-0.8zM207.7 131.7h0.8v0.8h-0.8zM207.6 123.5h0.8v0.8h-0.8zM201.5 111.5h0.8v0.8h-0.8zM187.9 116.7h0.8v0.8h-0.8zM204.3 120.4h0.8v0.8h-0.8zM204.6 120.0h0.8v0.8h-0.8zM206.7 117.8h0.8v0.8h-0.8zM205.1 130.6h0.8v0.8h-0.8zM192.6 137.7h0.8v0.8h-0.8zM204.8 126.5h0.8v0.8h-0.8zM207.2 121.4h0.8v0.8h-0.8zM200.6 112.1h0.8v0.8h-0.8zM206.7 121.5h0.8v0.8h-0.8zM201.8 115.4h0.8v0.8h-0.8zM201.6 115.3h0.8v0.8h-0.8zM205.0 127.3h0.8v0.8h-0.8zM202.2 114.5h0.8v0.8h-0.8zM205.4 125.2h0.8v0.8h-0.8zM202.0 134.0h0.8v0.8h-0.8zM198.1 112.5h0.8v0.8h-0.8zM206.5 126.9h0.8v0.8h-0.8zM193.5 113.9h0.8v0.8h-0.8zM203.7 133.6h0.8v0.8h-0.8zM203.1 113.8h0.8v0.8h-0.8zM204.2 117.5h0.8v0.8h-0.8zM192.1 111.6h0.8v0.8h-0.8zM205.6 124.6h0.8v0.8h-0.8zM201.9 114.6h0.8v0.8h-0.8zM202.6 114.4h0.8v0.8h-0.8zM194.1 113.8h0.8v0.8h-0.8zM205.0 122.4h0.8v0.8h-0.8zM202.3 136.8h0.8v0.8h-0.8zM198.6 113.3h0.8v0.8h-0.8zM203.5 131.7h0.8v0.8h-0.8zM197.1 111.0h0.8v0.8h-0.8zM207.6 128.5h0.8v0.8h-0.8zM206.7 119.7h0.8v0.8h-0.8zM189.5 114.5h0.8v0.8h-0.8zM192.1 115.3h0.8v0.8h-0.8zM208.2 128.0h0.8v0.8h-0.8zM204.8 124.4h0.8v0.8h-0.8zM203.1 119.0h0.8v0.8h-0.8zM202.4 114.0h0.8v0.8h-0.8zM205.1 126.5h0.8v0.8h-0.8zM204.9 123.3h0.8v0.8h-0.8zM203.1 133.3h0.8v0.8h-0.8zM202.3 115.2h0.8v0.8h-0.8zM205.8 124.0h0.8v0.8h-0.8zM196.1 112.1h0.8v0.8h-0.8zM200.4 138.0h0.8v0.8h-0.8zM199.5 139.0h0.8v0.8h-0.8zM204.4 136.1h0.8v0.8h-0.8zM202.9 118.5h0.8v0.8h-0.8zM194.5 114.3h0.8v0.8h-0.8zM205.3 120.4h0.8v0.8h-0.8zM208.4 122.5h0.8v0.8h-0.8zM201.5 116.6h0.8v0.8h-0.8zM205.6 123.8h0.8v0.8h-0.8zM199.9 115.5h0.8v0.8h-0.8zM195.5 110.3h0.8v0.8h-0.8zM200.4 113.8h0.8v0.8h-0.8zM189.2 115.3h0.8v0.8h-0.8zM193.6 137.7h0.8v0.8h-0.8zM204.3 131.8h0.8v0.8h-0.8zM200.5 115.6h0.8v0.8h-0.8zM190.1 116.4h0.8v0.8h-0.8zM192.5 112.5h0.8v0.8h-0.8zM204.5 117.3h0.8v0.8h-0.8zM200.0 115.6h0.8v0.8h-0.8zM204.5 123.3h0.8v0.8h-0.8zM205.7 128.9h0.8v0.8h-0.8zM189.0 117.5h0.8v0.8h-0.8zM204.4 135.2h0.8v0.8h-0.8zM208.4 122.8h0.8v0.8h-0.8zM205.4 118.6h0.8v0.8h-0.8zM198.5 111.3h0.8v0.8h-0.8zM186.6 117.5h0.8v0.8h-0.8zM193.3 114.6h0.8v0.8h-0.8zM195.3 113.7h0.8v0.8h-0.8zM205.1 122.6h0.8v0.8h-0.8zM188.7 114.6h0.8v0.8h-0.8zM198.6 113.5h0.8v0.8h-0.8zM192.5 113.4h0.8v0.8h-0.8zM187.0 118.7h0.8v0.8h-0.8zM197.7 113.7h0.8v0.8h-0.8zM205.3 123.9h0.8v0.8h-0.8zM203.8 120.1h0.8v0.8h-0.8zM207.1 126.5h0.8v0.8h-0.8zM204.4 133.6h0.8v0.8h-0.8zM207.0 117.6h0.8v0.8h-0.8zM208.7 123.9h0.8v0.8h-0.8zM204.9 128.9h0.8v0.8h-0.8zM187.0 113.0h0.8v0.8h-0.8zM205.1 119.9h0.8v0.8h-0.8zM188.1 115.2h0.8v0.8h-0.8zM205.1 125.9h0.8v0.8h-0.8zM206.2 121.9h0.8v0.8h-0.8zM195.1 114.3h0.8v0.8h-0.8zM203.8 131.5h0.8v0.8h-0.8zM201.3 114.3h0.8v0.8h-0.8zM206.4 119.9h0.8v0.8h-0.8zM201.5 115.0h0.8v0.8h-0.8zM207.8 125.0h0.8v0.8h-0.8zM204.4 116.0h0.8v0.8h-0.8zM207.5 129.3h0.8v0.8h-0.8zM203.9 121.0h0.8v0.8h-0.8zM203.6 131.5h0.8v0.8h-0.8zM194.7 113.7h0.8v0.8h-0.8zM204.4 120.4h0.8v0.8h-0.8zM204.1 120.7h0.8v0.8h-0.8zM204.7 121.6h0.8v0.8h-0.8zM204.9 128.5h0.8v0.8h-0.8zM205.6 118.4h0.8v0.8h-0.8zM202.9 134.1h0.8v0.8h-0.8zM205.2 133.6h0.8v0.8h-0.8zM190.9 111.6h0.8v0.8h-0.8zM204.8 119.8h0.8v0.8h-0.8zM184.2 118.6h0.8v0.8h-0.8zM194.2 113.7h0.8v0.8h-0.8zM204.5 122.6h0.8v0.8h-0.8zM203.7 136.6h0.8v0.8h-0.8zM196.3 113.0h0.8v0.8h-0.8zM203.4 119.8h0.8v0.8h-0.8zM186.4 117.1h0.8v0.8h-0.8zM204.8 126.1h0.8v0.8h-0.8zM197.3 113.4h0.8v0.8h-0.8zM203.9 117.5h0.8v0.8h-0.8zM198.5 137.3h0.8v0.8h-0.8zM201.3 137.2h0.8v0.8h-0.8zM206.3 120.1h0.8v0.8h-0.8zM201.7 135.3h0.8v0.8h-0.8zM199.9 136.5h0.8v0.8h-0.8zM204.9 116.0h0.8v0.8h-0.8zM189.1 111.9h0.8v0.8h-0.8zM206.3 122.0h0.8v0.8h-0.8zM207.2 124.5h0.8v0.8h-0.8zM203.6 137.4h0.8v0.8h-0.8zM204.2 122.0h0.8v0.8h-0.8zM203.7 138.5h0.8v0.8h-0.8zM204.7 125.6h0.8v0.8h-0.8zM197.3 111.9h0.8v0.8h-0.8zM203.4 119.5h0.8v0.8h-0.8zM195.4 113.4h0.8v0.8h-0.8zM204.6 130.8h0.8v0.8h-0.8zM189.4 117.2h0.8v0.8h-0.8zM207.4 119.0h0.8v0.8h-0.8zM200.3 136.4h0.8v0.8h-0.8zM201.1 113.6h0.8v0.8h-0.8zM205.9 116.6h0.8v0.8h-0.8zM201.5 113.4h0.8v0.8h-0.8zM202.8 118.9h0.8v0.8h-0.8zM191.9 115.3h0.8v0.8h-0.8zM200.5 115.8h0.8v0.8h-0.8zM207.0 133.4h0.8v0.8h-0.8zM205.3 128.6h0.8v0.8h-0.8zM200.0 115.4h0.8v0.8h-0.8zM204.9 125.7h0.8v0.8h-0.8zM203.1 119.5h0.8v0.8h-0.8zM197.1 113.5h0.8v0.8h-0.8zM205.9 118.6h0.8v0.8h-0.8zM208.3 124.4h0.8v0.8h-0.8zM191.4 139.7h0.8v0.8h-0.8zM208.5 124.8h0.8v0.8h-0.8zM206.7 124.0h0.8v0.8h-0.8zM203.2 118.1h0.8v0.8h-0.8zM194.3 111.1h0.8v0.8h-0.8zM205.2 126.0h0.8v0.8h-0.8zM203.2 137.6h0.8v0.8h-0.8zM203.0 116.0h0.8v0.8h-0.8zM204.8 124.4h0.8v0.8h-0.8zM205.6 121.4h0.8v0.8h-0.8zM204.3 116.4h0.8v0.8h-0.8zM189.4 117.2h0.8v0.8h-0.8zM203.1 137.0h0.8v0.8h-0.8zM203.8 132.7h0.8v0.8h-0.8zM200.8 112.5h0.8v0.8h-0.8zM189.6 114.2h0.8v0.8h-0.8zM200.5 112.7h0.8v0.8h-0.8zM204.9 128.2h0.8v0.8h-0.8zM184.4 120.3h0.8v0.8h-0.8zM200.0 115.4h0.8v0.8h-0.8zM205.2 130.0h0.8v0.8h-0.8zM206.0 121.0h0.8v0.8h-0.8zM205.7 119.1h0.8v0.8h-0.8zM188.8 113.0h0.8v0.8h-0.8zM197.2 139.2h0.8v0.8h-0.8zM208.3 122.7h0.8v0.8h-0.8zM200.5 135.9h0.8v0.8h-0.8zM199.5 110.8h0.8v0.8h-0.8zM198.6 115.0h0.8v0.8h-0.8zM193.0 112.6h0.8v0.8h-0.8zM204.0 117.7h0.8v0.8h-0.8zM192.5 114.9h0.8v0.8h-0.8zM206.2 125.4h0.8v0.8h-0.8zM206.0 124.2h0.8v0.8h-0.8zM193.9 113.1h0.8v0.8h-0.8zM200.1 137.1h0.8v0.8h-0.8zM205.7 124.8h0.8v0.8h-0.8zM193.9 109.9h0.8v0.8h-0.8zM199.6 115.2h0.8v0.8h-0.8zM195.6 114.6h0.8v0.8h-0.8zM207.3 119.5h0.8v0.8h-0.8zM204.8 131.1h0.8v0.8h-0.8zM203.3 117.7h0.8v0.8h-0.8zM203.9 119.7h0.8v0.8h-0.8zM208.8 123.8h0.8v0.8h-0.8zM204.3 120.2h0.8v0.8h-0.8zM205.4 127.6h0.8v0.8h-0.8zM191.6 115.5h0.8v0.8h-0.8zM203.0 119.5h0.8v0.8h-0.8zM182.9 120.1h0.8v0.8h-0.8zM203.2 134.7h0.8v0.8h-0.8zM203.6 134.6h0.8v0.8h-0.8zM192.5 114.7h0.8v0.8h-0.8zM204.8 124.9h0.8v0.8h-0.8zM195.5 137.5h0.8v0.8h-0.8zM207.7 120.5h0.8v0.8h-0.8zM198.9 113.6h0.8v0.8h-0.8zM205.3 122.3h0.8v0.8h-0.8zM202.0 135.0h0.8v0.8h-0.8zM204.0 121.3h0.8v0.8h-0.8zM200.2 113.6h0.8v0.8h-0.8zM202.6 116.7h0.8v0.8h-0.8zM202.3 118.2h0.8v0.8h-0.8zM204.3 120.1h0.8v0.8h-0.8zM205.0 137.0h0.8v0.8h-0.8zM186.7 114.7h0.8v0.8h-0.8zM204.1 121.5h0.8v0.8h-0.8zM194.9 111.0h0.8v0.8h-0.8zM201.0 116.9h0.8v0.8h-0.8zM204.7 126.8h0.8v0.8h-0.8zM198.1 137.5h0.8v0.8h-0.8zM206.4 123.6h0.8v0.8h-0.8zM201.1 115.6h0.8v0.8h-0.8zM198.5 113.0h0.8v0.8h-0.8zM206.9 126.2h0.8v0.8h-0.8zM200.5 114.0h0.8v0.8h-0.8zM202.1 117.4h0.8v0.8h-0.8zM202.5 117.0h0.8v0.8h-0.8zM199.5 113.8h0.8v0.8h-0.8zM206.1 134.1h0.8v0.8h-0.8zM206.8 118.3h0.8v0.8h-0.8zM195.4 112.0h0.8v0.8h-0.8zM206.4 128.2h0.8v0.8h-0.8zM203.6 131.8h0.8v0.8h-0.8zM200.0 115.5h0.8v0.8h-0.8zM206.3 118.2h0.8v0.8h-0.8zM193.6 114.2h0.8v0.8h-0.8zM202.0 115.1h0.8v0.8h-0.8zM193.5 114.7h0.8v0.8h-0.8zM205.2 136.7h0.8v0.8h-0.8zM206.6 127.6h0.8v0.8h-0.8zM196.1 113.5h0.8v0.8h-0.8zM204.7 127.0h0.8v0.8h-0.8zM198.7 114.7h0.8v0.8h-0.8zM207.5 124.5h0.8v0.8h-0.8zM192.4 114.5h0.8v0.8h-0.8zM207.5 123.5h0.8v0.8h-0.8zM204.5 122.7h0.8v0.8h-0.8zM198.2 111.9h0.8v0.8h-0.8zM201.3 137.0h0.8v0.8h-0.8zM189.4 117.2h0.8v0.8h-0.8zM184.1 121.6h0.8v0.8h-0.8zM200.0 137.3h0.8v0.8h-0.8zM198.5 112.8h0.8v0.8h-0.8zM200.7 116.0h0.8v0.8h-0.8zM206.7 124.1h0.8v0.8h-0.8zM186.1 117.1h0.8v0.8h-0.8zM199.2 113.1h0.8v0.8h-0.8zM206.0 117.5h0.8v0.8h-0.8zM189.0 114.8h0.8v0.8h-0.8zM205.8 121.4h0.8v0.8h-0.8zM202.6 118.6h0.8v0.8h-0.8zM197.6 111.1h0.8v0.8h-0.8zM206.5 128.5h0.8v0.8h-0.8zM200.4 110.7h0.8v0.8h-0.8zM202.6 134.1h0.8v0.8h-0.8zM195.2 113.7h0.8v0.8h-0.8zM204.4 120.8h0.8v0.8h-0.8zM203.0 134.7h0.8v0.8h-0.8zM197.5 139.3h0.8v0.8h-0.8zM200.5 116.4h0.8v0.8h-0.8zM204.6 124.3h0.8v0.8h-0.8zM198.1 114.4h0.8v0.8h-0.8zM204.5 128.9h0.8v0.8h-0.8zM200.6 111.9h0.8v0.8h-0.8zM206.4 127.0h0.8v0.8h-0.8zM197.6 137.4h0.8v0.8h-0.8zM205.1 136.6h0.8v0.8h-0.8zM197.2 111.0h0.8v0.8h-0.8zM186.4 123.1h0.8v0.8h-0.8zM191.9 112.2h0.8v0.8h-0.8zM188.6 118.0h0.8v0.8h-0.8zM203.4 135.3h0.8v0.8h-0.8zM205.0 135.2h0.8v0.8h-0.8zM207.4 126.0h0.8v0.8h-0.8zM204.1 114.6h0.8v0.8h-0.8zM202.8 118.3h0.8v0.8h-0.8zM197.0 113.6h0.8v0.8h-0.8zM205.8 130.3h0.8v0.8h-0.8zM191.3 115.6h0.8v0.8h-0.8zM204.4 118.6h0.8v0.8h-0.8zM203.6 112.9h0.8v0.8h-0.8zM204.3 133.1h0.8v0.8h-0.8zM207.2 118.6h0.8v0.8h-0.8zM188.6 117.8h0.8v0.8h-0.8zM198.8 111.2h0.8v0.8h-0.8zM205.3 114.9h0.8v0.8h-0.8zM201.5 111.3h0.8v0.8h-0.8zM198.1 112.7h0.8v0.8h-0.8zM197.9 114.5h0.8v0.8h-0.8zM193.4 137.6h0.8v0.8h-0.8zM197.5 114.0h0.8v0.8h-0.8zM203.4 136.4h0.8v0.8h-0.8zM196.1 114.2h0.8v0.8h-0.8zM198.6 114.5h0.8v0.8h-0.8zM187.5 119.0h0.8v0.8h-0.8zM205.3 126.5h0.8v0.8h-0.8zM198.3 113.9h0.8v0.8h-0.8zM196.1 112.2h0.8v0.8h-0.8zM205.1 121.1h0.8v0.8h-0.8zM196.9 114.4h0.8v0.8h-0.8zM199.1 111.4h0.8v0.8h-0.8zM205.1 127.8h0.8v0.8h-0.8zM205.1 126.1h0.8v0.8h-0.8zM182.6 126.1h0.8v0.8h-0.8zM200.7 140.4h0.8v0.8h-0.8zM206.2 125.7h0.8v0.8h-0.8zM193.7 110.8h0.8v0.8h-0.8zM199.8 113.9h0.8v0.8h-0.8zM201.7 134.5h0.8v0.8h-0.8zM186.6 121.9h0.8v0.8h-0.8zM199.6 137.7h0.8v0.8h-0.8zM207.2 127.4h0.8v0.8h-0.8zM206.0 135.8h0.8v0.8h-0.8zM202.1 116.6h0.8v0.8h-0.8zM203.1 119.2h0.8v0.8h-0.8zM204.3 119.8h0.8v0.8h-0.8zM193.1 111.1h0.8v0.8h-0.8zM204.7 114.3h0.8v0.8h-0.8zM205.6 116.0h0.8v0.8h-0.8zM204.7 126.0h0.8v0.8h-0.8zM193.8 114.8h0.8v0.8h-0.8zM202.7 135.8h0.8v0.8h-0.8zM205.1 126.4h0.8v0.8h-0.8zM203.4 131.9h0.8v0.8h-0.8zM199.7 115.1h0.8v0.8h-0.8zM199.9 139.2h0.8v0.8h-0.8zM206.0 134.3h0.8v0.8h-0.8zM194.4 114.3h0.8v0.8h-0.8zM191.1 113.9h0.8v0.8h-0.8zM196.6 139.4h0.8v0.8h-0.8zM184.1 126.7h0.8v0.8h-0.8zM185.2 120.0h0.8v0.8h-0.8zM207.4 129.1h0.8v0.8h-0.8zM200.0 115.7h0.8v0.8h-0.8zM195.0 114.3h0.8v0.8h-0.8zM205.0 134.9h0.8v0.8h-0.8zM206.7 119.3h0.8v0.8h-0.8zM203.0 115.3h0.8v0.8h-0.8zM195.1 109.9h0.8v0.8h-0.8zM200.5 115.6h0.8v0.8h-0.8zM196.4 114.5h0.8v0.8h-0.8zM204.9 132.5h0.8v0.8h-0.8zM190.5 115.1h0.8v0.8h-0.8zM197.2 114.6h0.8v0.8h-0.8zM189.5 135.1h0.8v0.8h-0.8zM200.7 135.4h0.8v0.8h-0.8zM193.2 110.6h0.8v0.8h-0.8zM199.7 138.9h0.8v0.8h-0.8zM204.8 135.3h0.8v0.8h-0.8zM203.2 115.5h0.8v0.8h-0.8zM207.2 119.1h0.8v0.8h-0.8zM205.4 131.5h0.8v0.8h-0.8zM204.9 117.9h0.8v0.8h-0.8zM195.8 114.0h0.8v0.8h-0.8zM198.5 138.5h0.8v0.8h-0.8zM205.8 128.4h0.8v0.8h-0.8zM206.4 131.1h0.8v0.8h-0.8zM196.2 140.6h0.8v0.8h-0.8zM205.3 128.0h0.8v0.8h-0.8zM203.9 117.9h0.8v0.8h-0.8zM199.6 110.6h0.8v0.8h-0.8zM199.8 114.9h0.8v0.8h-0.8zM204.6 115.5h0.8v0.8h-0.8zM193.2 142.0h0.8v0.8h-0.8zM187.1 114.0h0.8v0.8h-0.8zM191.6 115.6h0.8v0.8h-0.8zM192.2 113.8h0.8v0.8h-0.8zM207.6 126.1h0.8v0.8h-0.8zM198.4 137.8h0.8v0.8h-0.8zM202.4 115.0h0.8v0.8h-0.8zM204.1 130.2h0.8v0.8h-0.8zM205.6 124.2h0.8v0.8h-0.8zM197.9 115.0h0.8v0.8h-0.8zM200.2 115.5h0.8v0.8h-0.8zM203.7 114.4h0.8v0.8h-0.8zM186.0 126.2h0.8v0.8h-0.8zM202.7 118.2h0.8v0.8h-0.8zM205.2 127.6h0.8v0.8h-0.8zM195.3 138.8h0.8v0.8h-0.8zM208.5 127.1h0.8v0.8h-0.8zM204.4 121.5h0.8v0.8h-0.8zM196.9 139.5h0.8v0.8h-0.8zM203.0 116.6h0.8v0.8h-0.8zM204.8 130.0h0.8v0.8h-0.8zM204.1 115.5h0.8v0.8h-0.8zM205.1 132.1h0.8v0.8h-0.8zM203.5 114.2h0.8v0.8h-0.8zM204.9 124.5h0.8v0.8h-0.8zM205.4 120.1h0.8v0.8h-0.8zM208.5 124.7h0.8v0.8h-0.8zM205.9 131.0h0.8v0.8h-0.8zM195.6 114.5h0.8v0.8h-0.8zM197.3 111.6h0.8v0.8h-0.8zM202.7 115.9h0.8v0.8h-0.8zM200.2 113.9h0.8v0.8h-0.8zM198.7 111.2h0.8v0.8h-0.8zM205.2 130.6h0.8v0.8h-0.8zM198.2 137.5h0.8v0.8h-0.8zM202.4 118.0h0.8v0.8h-0.8zM190.3 114.5h0.8v0.8h-0.8zM191.8 113.8h0.8v0.8h-0.8zM184.3 117.1h0.8v0.8h-0.8zM197.1 112.2h0.8v0.8h-0.8zM191.1 115.6h0.8v0.8h-0.8zM199.4 115.6h0.8v0.8h-0.8zM206.7 123.2h0.8v0.8h-0.8zM190.1 116.3h0.8v0.8h-0.8zM206.0 125.6h0.8v0.8h-0.8zM185.8 114.4h0.8v0.8h-0.8zM204.3 122.3h0.8v0.8h-0.8zM206.1 122.7h0.8v0.8h-0.8zM195.1 113.0h0.8v0.8h-0.8zM205.0 123.6h0.8v0.8h-0.8zM197.7 110.2h0.8v0.8h-0.8zM189.8 115.7h0.8v0.8h-0.8zM207.8 123.6h0.8v0.8h-0.8zM205.9 135.2h0.8v0.8h-0.8zM201.3 111.2h0.8v0.8h-0.8zM204.0 121.5h0.8v0.8h-0.8zM204.7 124.8h0.8v0.8h-0.8zM198.1 114.8h0.8v0.8h-0.8zM206.7 122.7h0.8v0.8h-0.8zM206.5 124.3h0.8v0.8h-0.8zM208.2 127.2h0.8v0.8h-0.8zM192.6 112.2h0.8v0.8h-0.8zM200.8 111.5h0.8v0.8h-0.8zM188.7 116.9h0.8v0.8h-0.8zM208.4 130.2h0.8v0.8h-0.8zM193.8 137.4h0.8v0.8h-0.8zM206.1 130.1h0.8v0.8h-0.8zM202.5 118.0h0.8v0.8h-0.8zM193.7 114.0h0.8v0.8h-0.8zM205.3 129.1h0.8v0.8h-0.8zM201.1 112.1h0.8v0.8h-0.8zM205.1 124.0h0.8v0.8h-0.8zM201.8 116.9h0.8v0.8h-0.8zM203.8 131.5h0.8v0.8h-0.8zM200.2 114.5h0.8v0.8h-0.8zM203.6 115.7h0.8v0.8h-0.8zM200.4 138.1h0.8v0.8h-0.8zM204.5 117.5h0.8v0.8h-0.8zM203.2 116.8h0.8v0.8h-0.8zM194.9 111.5h0.8v0.8h-0.8zM205.6 125.2h0.8v0.8h-0.8zM205.2 128.6h0.8v0.8h-0.8zM203.3 138.5h0.8v0.8h-0.8zM204.2 131.1h0.8v0.8h-0.8zM204.1 122.0h0.8v0.8h-0.8zM204.9 132.5h0.8v0.8h-0.8zM203.5 132.3h0.8v0.8h-0.8zM198.4 111.5h0.8v0.8h-0.8zM197.4 114.8h0.8v0.8h-0.8zM197.8 140.1h0.8v0.8h-0.8zM207.4 123.2h0.8v0.8h-0.8zM202.5 116.1h0.8v0.8h-0.8zM201.5 113.4h0.8v0.8h-0.8zM194.0 112.1h0.8v0.8h-0.8zM200.5 140.6h0.8v0.8h-0.8zM192.3 115.2h0.8v0.8h-0.8zM202.0 117.9h0.8v0.8h-0.8zM202.6 117.6h0.8v0.8h-0.8zM205.1 123.3h0.8v0.8h-0.8zM203.7 120.1h0.8v0.8h-0.8zM194.4 113.3h0.8v0.8h-0.8zM201.3 116.4h0.8v0.8h-0.8zM204.8 122.3h0.8v0.8h-0.8zM206.4 125.4h0.8v0.8h-0.8zM206.6 118.3h0.8v0.8h-0.8zM204.7 116.8h0.8v0.8h-0.8zM206.2 127.3h0.8v0.8h-0.8zM206.2 129.1h0.8v0.8h-0.8zM185.5 116.7h0.8v0.8h-0.8zM200.3 140.3h0.8v0.8h-0.8zM194.1 114.4h0.8v0.8h-0.8zM199.2 137.0h0.8v0.8h-0.8zM206.3 128.8h0.8v0.8h-0.8zM191.3 115.7h0.8v0.8h-0.8zM189.6 112.3h0.8v0.8h-0.8zM196.3 112.4h0.8v0.8h-0.8zM196.2 112.2h0.8v0.8h-0.8zM203.2 133.1h0.8v0.8h-0.8zM204.3 118.4h0.8v0.8h-0.8zM187.7 117.1h0.8v0.8h-0.8zM205.3 128.7h0.8v0.8h-0.8zM203.6 136.7h0.8v0.8h-0.8zM204.4 122.9h0.8v0.8h-0.8zM194.4 138.5h0.8v0.8h-0.8zM202.4 113.4h0.8v0.8h-0.8zM203.3 133.5h0.8v0.8h-0.8zM201.5 116.9h0.8v0.8h-0.8zM204.1 118.0h0.8v0.8h-0.8zM205.8 125.6h0.8v0.8h-0.8zM198.4 115.0h0.8v0.8h-0.8zM207.2 123.9h0.8v0.8h-0.8zM201.3 115.2h0.8v0.8h-0.8zM195.6 111.6h0.8v0.8h-0.8zM200.9 116.1h0.8v0.8h-0.8zM199.6 114.4h0.8v0.8h-0.8zM200.0 111.7h0.8v0.8h-0.8zM199.4 137.0h0.8v0.8h-0.8zM196.4 111.1h0.8v0.8h-0.8zM190.1 113.0h0.8v0.8h-0.8zM192.4 114.9h0.8v0.8h-0.8zM201.2 113.0h0.8v0.8h-0.8zM196.9 113.0h0.8v0.8h-0.8zM200.5 114.3h0.8v0.8h-0.8zM195.6 110.8h0.8v0.8h-0.8zM203.8 118.8h0.8v0.8h-0.8zM200.6 136.6h0.8v0.8h-0.8zM201.6 135.1h0.8v0.8h-0.8zM201.1 113.2h0.8v0.8h-0.8zM206.2 118.4h0.8v0.8h-0.8zM208.1 127.4h0.8v0.8h-0.8zM188.8 117.6h0.8v0.8h-0.8zM199.4 115.7h0.8v0.8h-0.8zM201.5 116.5h0.8v0.8h-0.8zM193.0 109.8h0.8v0.8h-0.8zM207.3 124.4h0.8v0.8h-0.8zM204.8 117.2h0.8v0.8h-0.8zM205.7 122.5h0.8v0.8h-0.8zM207.6 122.9h0.8v0.8h-0.8zM206.5 119.4h0.8v0.8h-0.8zM208.5 126.1h0.8v0.8h-0.8zM195.1 114.3h0.8v0.8h-0.8zM197.5 110.4h0.8v0.8h-0.8zM206.5 124.3h0.8v0.8h-0.8zM204.3 130.2h0.8v0.8h-0.8zM204.5 129.0h0.8v0.8h-0.8zM194.6 114.6h0.8v0.8h-0.8zM204.3 122.6h0.8v0.8h-0.8zM199.2 111.9h0.8v0.8h-0.8zM186.3 118.4h0.8v0.8h-0.8zM204.7 119.9h0.8v0.8h-0.8zM202.7 116.8h0.8v0.8h-0.8zM205.2 125.6h0.8v0.8h-0.8zM205.2 115.1h0.8v0.8h-0.8zM203.2 114.8h0.8v0.8h-0.8zM206.0 123.4h0.8v0.8h-0.8zM204.1 131.1h0.8v0.8h-0.8zM204.8 127.1h0.8v0.8h-0.8zM204.8 123.3h0.8v0.8h-0.8zM208.7 125.9h0.8v0.8h-0.8zM192.9 113.0h0.8v0.8h-0.8zM204.7 132.4h0.8v0.8h-0.8zM193.1 111.3h0.8v0.8h-0.8zM193.6 114.7h0.8v0.8h-0.8zM204.0 130.8h0.8v0.8h-0.8zM199.7 112.6h0.8v0.8h-0.8zM203.7 131.4h0.8v0.8h-0.8zM203.6 132.3h0.8v0.8h-0.8zM194.1 111.9h0.8v0.8h-0.8zM206.2 129.6h0.8v0.8h-0.8zM202.7 117.0h0.8v0.8h-0.8zM203.7 113.8h0.8v0.8h-0.8zM205.5 118.9h0.8v0.8h-0.8zM204.9 123.1h0.8v0.8h-0.8zM195.5 112.8h0.8v0.8h-0.8zM203.6 133.6h0.8v0.8h-0.8zM208.4 122.0h0.8v0.8h-0.8zM203.4 112.8h0.8v0.8h-0.8zM203.0 116.5h0.8v0.8h-0.8zM198.9 114.5h0.8v0.8h-0.8zM205.4 123.0h0.8v0.8h-0.8zM193.3 112.7h0.8v0.8h-0.8zM207.7 126.3h0.8v0.8h-0.8zM206.4 131.2h0.8v0.8h-0.8zM208.2 121.6h0.8v0.8h-0.8zM204.0 130.7h0.8v0.8h-0.8zM196.0 137.5h0.8v0.8h-0.8zM199.8 115.7h0.8v0.8h-0.8zM193.1 112.1h0.8v0.8h-0.8zM204.6 123.8h0.8v0.8h-0.8zM206.3 122.3h0.8v0.8h-0.8zM204.5 121.2h0.8v0.8h-0.8zM195.2 114.3h0.8v0.8h-0.8zM197.0 138.7h0.8v0.8h-0.8zM205.9 117.3h0.8v0.8h-0.8zM205.0 125.4h0.8v0.8h-0.8zM198.9 115.4h0.8v0.8h-0.8zM204.0 118.6h0.8v0.8h-0.8zM198.6 110.6h0.8v0.8h-0.8zM205.0 119.4h0.8v0.8h-0.8zM190.6 116.2h0.8v0.8h-0.8zM203.0 135.3h0.8v0.8h-0.8zM205.3 122.2h0.8v0.8h-0.8zM203.3 136.8h0.8v0.8h-0.8zM205.0 123.2h0.8v0.8h-0.8zM205.9 133.1h0.8v0.8h-0.8zM207.0 124.4h0.8v0.8h-0.8zM197.1 113.0h0.8v0.8h-0.8zM194.4 139.1h0.8v0.8h-0.8zM206.1 123.7h0.8v0.8h-0.8zM207.3 123.9h0.8v0.8h-0.8zM199.1 115.2h0.8v0.8h-0.8zM200.7 135.4h0.8v0.8h-0.8zM203.8 136.7h0.8v0.8h-0.8zM195.0 114.2h0.8v0.8h-0.8zM205.0 135.7h0.8v0.8h-0.8zM200.3 113.0h0.8v0.8h-0.8zM206.0 124.7h0.8v0.8h-0.8zM194.9 113.3h0.8v0.8h-0.8zM201.3 114.3h0.8v0.8h-0.8zM198.1 113.5h0.8v0.8h-0.8zM206.8 133.1h0.8v0.8h-0.8zM195.0 114.5h0.8v0.8h-0.8zM202.8 113.9h0.8v0.8h-0.8zM204.8 128.8h0.8v0.8h-0.8zM202.9 114.7h0.8v0.8h-0.8zM203.8 120.8h0.8v0.8h-0.8zM203.2 116.9h0.8v0.8h-0.8zM202.4 117.0h0.8v0.8h-0.8zM198.6 113.6h0.8v0.8h-0.8zM206.3 123.8h0.8v0.8h-0.8zM203.3 133.3h0.8v0.8h-0.8zM206.0 118.3h0.8v0.8h-0.8zM207.3 123.2h0.8v0.8h-0.8zM204.0 121.3h0.8v0.8h-0.8zM198.8 115.3h0.8v0.8h-0.8zM203.3 115.1h0.8v0.8h-0.8zM187.7 113.5h0.8v0.8h-0.8zM199.1 136.4h0.8v0.8h-0.8zM203.7 134.6h0.8v0.8h-0.8zM206.1 120.0h0.8v0.8h-0.8zM207.0 134.3h0.8v0.8h-0.8zM192.0 112.6h0.8v0.8h-0.8zM205.2 124.1h0.8v0.8h-0.8zM206.8 129.4h0.8v0.8h-0.8zM203.2 118.9h0.8v0.8h-0.8zM203.3 119.0h0.8v0.8h-0.8zM187.8 118.5h0.8v0.8h-0.8zM196.8 114.0h0.8v0.8h-0.8zM202.4 117.5h0.8v0.8h-0.8zM200.1 112.4h0.8v0.8h-0.8zM205.1 134.6h0.8v0.8h-0.8zM199.0 115.5h0.8v0.8h-0.8zM202.6 116.8h0.8v0.8h-0.8zM204.6 129.2h0.8v0.8h-0.8zM206.2 118.1h0.8v0.8h-0.8zM203.6 118.6h0.8v0.8h-0.8zM202.3 117.4h0.8v0.8h-0.8zM194.4 112.8h0.8v0.8h-0.8zM189.5 136.4h0.8v0.8h-0.8zM198.6 141.7h0.8v0.8h-0.8zM199.0 138.4h0.8v0.8h-0.8zM203.0 119.0h0.8v0.8h-0.8zM203.7 131.2h0.8v0.8h-0.8zM192.2 114.7h0.8v0.8h-0.8zM205.0 127.0h0.8v0.8h-0.8zM202.7 114.9h0.8v0.8h-0.8zM207.4 124.1h0.8v0.8h-0.8zM198.8 110.6h0.8v0.8h-0.8zM205.1 120.4h0.8v0.8h-0.8zM189.6 113.5h0.8v0.8h-0.8zM202.9 117.5h0.8v0.8h-0.8zM190.8 115.6h0.8v0.8h-0.8zM205.8 136.5h0.8v0.8h-0.8zM204.2 116.5h0.8v0.8h-0.8zM197.0 114.0h0.8v0.8h-0.8zM207.3 122.1h0.8v0.8h-0.8zM192.1 114.5h0.8v0.8h-0.8zM201.1 115.2h0.8v0.8h-0.8zM200.5 115.7h0.8v0.8h-0.8zM202.7 117.3h0.8v0.8h-0.8zM203.7 131.2h0.8v0.8h-0.8zM204.3 129.4h0.8v0.8h-0.8zM201.8 115.1h0.8v0.8h-0.8zM204.5 132.5h0.8v0.8h-0.8zM205.0 135.6h0.8v0.8h-0.8zM207.0 120.5h0.8v0.8h-0.8zM204.8 133.2h0.8v0.8h-0.8zM202.9 118.7h0.8v0.8h-0.8zM200.3 138.2h0.8v0.8h-0.8zM204.0 113.5h0.8v0.8h-0.8zM190.9 116.0h0.8v0.8h-0.8zM200.0 110.6h0.8v0.8h-0.8zM202.7 113.2h0.8v0.8h-0.8zM194.3 112.2h0.8v0.8h-0.8zM203.1 113.5h0.8v0.8h-0.8zM204.3 116.7h0.8v0.8h-0.8zM203.3 115.8h0.8v0.8h-0.8zM203.4 136.8h0.8v0.8h-0.8zM203.8 119.4h0.8v0.8h-0.8zM203.6 118.4h0.8v0.8h-0.8zM193.8 113.1h0.8v0.8h-0.8zM190.7 116.1h0.8v0.8h-0.8zM205.9 128.4h0.8v0.8h-0.8zM198.4 141.4h0.8v0.8h-0.8zM206.2 126.5h0.8v0.8h-0.8zM199.0 115.5h0.8v0.8h-0.8zM197.2 114.4h0.8v0.8h-0.8zM203.0 133.1h0.8v0.8h-0.8zM196.9 112.2h0.8v0.8h-0.8zM204.5 115.6h0.8v0.8h-0.8zM198.2 115.0h0.8v0.8h-0.8zM197.7 114.8h0.8v0.8h-0.8zM204.2 115.5h0.8v0.8h-0.8zM204.0 121.5h0.8v0.8h-0.8zM190.9 114.1h0.8v0.8h-0.8zM196.8 109.8h0.8v0.8h-0.8zM204.6 115.8h0.8v0.8h-0.8zM204.7 135.5h0.8v0.8h-0.8zM195.1 114.6h0.8v0.8h-0.8zM199.6 112.3h0.8v0.8h-0.8zM204.9 129.2h0.8v0.8h-0.8zM191.3 115.6h0.8v0.8h-0.8zM195.1 114.5h0.8v0.8h-0.8zM205.8 122.9h0.8v0.8h-0.8zM194.1 113.1h0.8v0.8h-0.8zM206.9 122.1h0.8v0.8h-0.8zM201.7 139.0h0.8v0.8h-0.8zM204.1 130.1h0.8v0.8h-0.8zM199.4 112.6h0.8v0.8h-0.8zM206.5 117.2h0.8v0.8h-0.8zM207.5 129.6h0.8v0.8h-0.8zM208.9 126.5h0.8v0.8h-0.8zM193.7 111.1h0.8v0.8h-0.8zM201.3 114.8h0.8v0.8h-0.8zM207.7 128.9h0.8v0.8h-0.8zM202.6 134.7h0.8v0.8h-0.8zM192.7 114.3h0.8v0.8h-0.8zM204.0 120.6h0.8v0.8h-0.8zM204.8 123.8h0.8v0.8h-0.8zM202.7 134.8h0.8v0.8h-0.8zM194.2 113.4h0.8v0.8h-0.8zM204.7 126.5h0.8v0.8h-0.8zM189.5 113.0h0.8v0.8h-0.8zM193.0 114.2h0.8v0.8h-0.8zM206.4 121.0h0.8v0.8h-0.8zM191.4 115.1h0.8v0.8h-0.8zM203.7 120.3h0.8v0.8h-0.8zM199.0 115.0h0.8v0.8h-0.8zM193.9 114.0h0.8v0.8h-0.8zM204.0 121.2h0.8v0.8h-0.8zM205.5 123.5h0.8v0.8h-0.8zM205.3 115.6h0.8v0.8h-0.8zM204.6 119.6h0.8v0.8h-0.8zM204.4 122.6h0.8v0.8h-0.8zM204.4 123.0h0.8v0.8h-0.8zM201.1 113.7h0.8v0.8h-0.8zM204.7 124.5h0.8v0.8h-0.8zM204.8 126.1h0.8v0.8h-0.8zM196.7 112.4h0.8v0.8h-0.8zM204.6 130.8h0.8v0.8h-0.8zM205.4 123.7h0.8v0.8h-0.8zM202.6 114.9h0.8v0.8h-0.8zM199.2 136.4h0.8v0.8h-0.8zM202.8 117.7h0.8v0.8h-0.8zM205.9 127.2h0.8v0.8h-0.8zM201.8 112.9h0.8v0.8h-0.8zM201.7 134.5h0.8v0.8h-0.8zM195.2 111.8h0.8v0.8h-0.8zM189.1 115.2h0.8v0.8h-0.8zM201.6 139.3h0.8v0.8h-0.8zM193.6 114.1h0.8v0.8h-0.8zM199.4 112.6h0.8v0.8h-0.8zM203.6 133.3h0.8v0.8h-0.8zM206.3 118.1h0.8v0.8h-0.8zM197.1 114.5h0.8v0.8h-0.8zM187.1 117.1h0.8v0.8h-0.8zM204.6 131.2h0.8v0.8h-0.8zM199.8 138.0h0.8v0.8h-0.8zM189.0 117.8h0.8v0.8h-0.8zM204.4 129.8h0.8v0.8h-0.8zM195.1 114.6h0.8v0.8h-0.8zM204.6 114.2h0.8v0.8h-0.8zM197.2 114.8h0.8v0.8h-0.8zM196.4 140.6h0.8v0.8h-0.8zM196.7 111.7h0.8v0.8h-0.8zM207.9 122.6h0.8v0.8h-0.8zM203.9 119.3h0.8v0.8h-0.8zM195.4 138.3h0.8v0.8h-0.8zM204.8 121.2h0.8v0.8h-0.8zM195.7 139.1h0.8v0.8h-0.8zM204.5 123.4h0.8v0.8h-0.8zM203.4 119.5h0.8v0.8h-0.8zM196.0 111.9h0.8v0.8h-0.8zM201.4 140.8h0.8v0.8h-0.8zM197.3 137.2h0.8v0.8h-0.8zM202.6 118.4h0.8v0.8h-0.8zM197.4 110.8h0.8v0.8h-0.8zM204.7 127.6h0.8v0.8h-0.8zM199.4 113.7h0.8v0.8h-0.8zM206.3 120.3h0.8v0.8h-0.8zM207.7 126.4h0.8v0.8h-0.8zM206.8 123.6h0.8v0.8h-0.8zM203.2 118.9h0.8v0.8h-0.8zM204.5 129.4h0.8v0.8h-0.8zM206.4 117.0h0.8v0.8h-0.8zM204.7 118.4h0.8v0.8h-0.8zM206.0 125.4h0.8v0.8h-0.8zM203.3 134.3h0.8v0.8h-0.8zM208.2 127.9h0.8v0.8h-0.8zM199.7 115.5h0.8v0.8h-0.8zM204.1 118.2h0.8v0.8h-0.8zM206.7 128.1h0.8v0.8h-0.8zM203.8 135.1h0.8v0.8h-0.8zM205.6 132.2h0.8v0.8h-0.8zM205.4 136.2h0.8v0.8h-0.8zM205.5 119.7h0.8v0.8h-0.8zM202.7 138.9h0.8v0.8h-0.8zM203.4 119.4h0.8v0.8h-0.8zM193.0 113.9h0.8v0.8h-0.8zM199.3 112.6h0.8v0.8h-0.8zM204.9 127.5h0.8v0.8h-0.8zM202.3 110.8h0.8v0.8h-0.8zM208.9 130.0h0.8v0.8h-0.8zM206.4 133.9h0.8v0.8h-0.8zM205.8 140.5h0.8v0.8h-0.8zM207.2 135.4h0.8v0.8h-0.8zM210.4 117.5h0.8v0.8h-0.8zM198.5 110.0h0.8v0.8h-0.8zM207.9 134.6h0.8v0.8h-0.8zM205.6 135.5h0.8v0.8h-0.8zM205.8 113.3h0.8v0.8h-0.8zM206.9 134.6h0.8v0.8h-0.8zM201.7 112.3h0.8v0.8h-0.8zM208.0 116.0h0.8v0.8h-0.8zM208.5 110.9h0.8v0.8h-0.8zM210.9 121.1h0.8v0.8h-0.8zM209.4 129.0h0.8v0.8h-0.8zM190.1 111.3h0.8v0.8h-0.8zM208.2 130.4h0.8v0.8h-0.8zM206.2 135.6h0.8v0.8h-0.8zM204.8 136.7h0.8v0.8h-0.8zM204.4 114.4h0.8v0.8h-0.8zM199.7 111.5h0.8v0.8h-0.8zM204.6 112.0h0.8v0.8h-0.8zM199.8 111.2h0.8v0.8h-0.8zM213.1 129.8h0.8v0.8h-0.8zM199.6 109.8h0.8v0.8h-0.8zM206.7 117.5h0.8v0.8h-0.8zM207.6 137.0h0.8v0.8h-0.8zM207.1 138.2h0.8v0.8h-0.8zM196.0 106.7h0.8v0.8h-0.8zM208.7 125.1h0.8v0.8h-0.8zM208.2 121.1h0.8v0.8h-0.8zM203.5 112.6h0.8v0.8h-0.8zM209.5 121.9h0.8v0.8h-0.8zM200.2 111.5h0.8v0.8h-0.8zM208.5 112.4h0.8v0.8h-0.8zM204.1 108.8h0.8v0.8h-0.8zM198.7 110.6h0.8v0.8h-0.8zM210.9 114.7h0.8v0.8h-0.8zM210.5 118.5h0.8v0.8h-0.8zM209.4 126.1h0.8v0.8h-0.8zM207.8 131.6h0.8v0.8h-0.8zM202.0 110.1h0.8v0.8h-0.8zM195.6 108.8h0.8v0.8h-0.8zM204.2 136.8h0.8v0.8h-0.8zM210.0 120.9h0.8v0.8h-0.8zM206.6 140.2h0.8v0.8h-0.8zM204.3 109.5h0.8v0.8h-0.8zM208.8 125.4h0.8v0.8h-0.8zM209.2 127.0h0.8v0.8h-0.8zM183.9 113.1h0.8v0.8h-0.8zM210.6 124.7h0.8v0.8h-0.8zM208.6 116.0h0.8v0.8h-0.8zM210.8 132.1h0.8v0.8h-0.8zM208.6 137.8h0.8v0.8h-0.8zM188.0 114.9h0.8v0.8h-0.8zM208.8 128.8h0.8v0.8h-0.8zM210.0 133.2h0.8v0.8h-0.8zM208.7 125.2h0.8v0.8h-0.8zM210.8 130.0h0.8v0.8h-0.8zM195.8 111.1h0.8v0.8h-0.8zM212.2 129.4h0.8v0.8h-0.8zM210.3 122.0h0.8v0.8h-0.8zM202.2 110.5h0.8v0.8h-0.8zM209.8 129.2h0.8v0.8h-0.8zM189.4 111.8h0.8v0.8h-0.8zM210.2 126.2h0.8v0.8h-0.8zM191.8 112.4h0.8v0.8h-0.8zM208.3 114.0h0.8v0.8h-0.8zM210.7 134.7h0.8v0.8h-0.8zM208.4 113.5h0.8v0.8h-0.8zM210.1 126.3h0.8v0.8h-0.8zM198.9 143.4h0.8v0.8h-0.8zM208.1 116.3h0.8v0.8h-0.8zM204.1 141.6h0.8v0.8h-0.8zM198.0 111.1h0.8v0.8h-0.8zM205.0 115.0h0.8v0.8h-0.8zM197.2 106.3h0.8v0.8h-0.8zM197.5 140.7h0.8v0.8h-0.8zM195.0 107.8h0.8v0.8h-0.8zM205.4 137.9h0.8v0.8h-0.8zM204.6 140.1h0.8v0.8h-0.8zM195.2 107.9h0.8v0.8h-0.8zM212.5 119.5h0.8v0.8h-0.8zM209.5 127.1h0.8v0.8h-0.8zM209.8 118.5h0.8v0.8h-0.8zM197.4 141.5h0.8v0.8h-0.8zM209.6 128.9h0.8v0.8h-0.8zM193.7 144.9h0.8v0.8h-0.8zM203.4 111.5h0.8v0.8h-0.8zM209.2 122.2h0.8v0.8h-0.8zM203.3 111.9h0.8v0.8h-0.8zM195.8 110.8h0.8v0.8h-0.8zM209.2 122.0h0.8v0.8h-0.8zM209.8 119.0h0.8v0.8h-0.8zM205.3 135.6h0.8v0.8h-0.8zM205.0 108.3h0.8v0.8h-0.8zM211.7 125.6h0.8v0.8h-0.8zM209.7 126.5h0.8v0.8h-0.8zM200.4 109.5h0.8v0.8h-0.8zM210.1 119.4h0.8v0.8h-0.8zM198.0 110.3h0.8v0.8h-0.8zM210.5 133.7h0.8v0.8h-0.8zM188.2 110.7h0.8v0.8h-0.8zM205.5 111.1h0.8v0.8h-0.8zM204.3 137.0h0.8v0.8h-0.8zM210.4 132.5h0.8v0.8h-0.8zM208.1 130.7h0.8v0.8h-0.8zM205.8 113.9h0.8v0.8h-0.8zM210.0 121.7h0.8v0.8h-0.8zM210.0 135.9h0.8v0.8h-0.8zM207.1 113.7h0.8v0.8h-0.8zM210.8 123.6h0.8v0.8h-0.8zM205.5 113.6h0.8v0.8h-0.8zM195.1 109.1h0.8v0.8h-0.8zM207.8 132.9h0.8v0.8h-0.8zM211.1 118.0h0.8v0.8h-0.8zM197.1 106.8h0.8v0.8h-0.8zM211.6 125.2h0.8v0.8h-0.8zM209.6 130.5h0.8v0.8h-0.8zM204.7 114.6h0.8v0.8h-0.8zM207.8 114.5h0.8v0.8h-0.8zM201.9 138.8h0.8v0.8h-0.8zM207.4 136.4h0.8v0.8h-0.8zM206.1 115.5h0.8v0.8h-0.8zM205.3 113.8h0.8v0.8h-0.8zM213.1 122.7h0.8v0.8h-0.8zM196.9 107.5h0.8v0.8h-0.8zM210.2 134.1h0.8v0.8h-0.8zM202.1 112.6h0.8v0.8h-0.8zM202.4 108.0h0.8v0.8h-0.8zM207.9 135.2h0.8v0.8h-0.8zM202.0 111.6h0.8v0.8h-0.8zM206.2 114.3h0.8v0.8h-0.8zM204.7 108.3h0.8v0.8h-0.8zM203.1 107.1h0.8v0.8h-0.8zM207.6 113.3h0.8v0.8h-0.8zM206.0 139.5h0.8v0.8h-0.8zM204.6 113.9h0.8v0.8h-0.8zM207.5 118.8h0.8v0.8h-0.8zM203.7 111.7h0.8v0.8h-0.8zM196.7 108.6h0.8v0.8h-0.8zM208.8 128.7h0.8v0.8h-0.8zM207.3 117.8h0.8v0.8h-0.8zM207.4 134.9h0.8v0.8h-0.8zM199.1 139.9h0.8v0.8h-0.8zM211.7 127.6h0.8v0.8h-0.8zM205.0 112.6h0.8v0.8h-0.8zM209.0 119.7h0.8v0.8h-0.8zM211.7 117.0h0.8v0.8h-0.8zM189.1 108.9h0.8v0.8h-0.8zM206.2 134.3h0.8v0.8h-0.8zM208.6 121.1h0.8v0.8h-0.8zM208.9 117.6h0.8v0.8h-0.8zM211.3 119.2h0.8v0.8h-0.8zM189.9 113.2h0.8v0.8h-0.8zM209.1 118.8h0.8v0.8h-0.8zM210.3 120.9h0.8v0.8h-0.8zM204.1 110.8h0.8v0.8h-0.8zM206.9 116.3h0.8v0.8h-0.8zM209.3 116.7h0.8v0.8h-0.8zM209.2 129.0h0.8v0.8h-0.8zM196.9 109.5h0.8v0.8h-0.8zM207.5 113.1h0.8v0.8h-0.8zM204.5 114.5h0.8v0.8h-0.8zM204.0 137.2h0.8v0.8h-0.8zM209.5 128.1h0.8v0.8h-0.8zM205.6 111.2h0.8v0.8h-0.8zM210.4 122.4h0.8v0.8h-0.8zM193.3 107.5h0.8v0.8h-0.8zM199.2 143.8h0.8v0.8h-0.8zM198.2 110.2h0.8v0.8h-0.8zM195.3 109.9h0.8v0.8h-0.8zM209.3 138.0h0.8v0.8h-0.8zM208.2 119.0h0.8v0.8h-0.8zM203.4 113.3h0.8v0.8h-0.8zM207.4 117.6h0.8v0.8h-0.8zM209.7 117.6h0.8v0.8h-0.8zM202.8 112.2h0.8v0.8h-0.8zM210.9 123.7h0.8v0.8h-0.8zM208.5 128.8h0.8v0.8h-0.8zM191.6 110.2h0.8v0.8h-0.8zM207.5 110.6h0.8v0.8h-0.8zM209.0 126.6h0.8v0.8h-0.8zM210.4 116.9h0.8v0.8h-0.8zM209.2 126.7h0.8v0.8h-0.8zM199.9 106.6h0.8v0.8h-0.8zM194.5 108.6h0.8v0.8h-0.8zM206.5 135.6h0.8v0.8h-0.8zM211.4 130.0h0.8v0.8h-0.8zM208.9 119.7h0.8v0.8h-0.8zM202.9 106.9h0.8v0.8h-0.8zM207.8 115.2h0.8v0.8h-0.8zM204.2 112.7h0.8v0.8h-0.8zM208.6 132.3h0.8v0.8h-0.8zM207.7 138.9h0.8v0.8h-0.8zM195.5 142.4h0.8v0.8h-0.8zM208.6 138.3h0.8v0.8h-0.8zM212.4 130.1h0.8v0.8h-0.8zM205.6 142.6h0.8v0.8h-0.8zM209.3 126.1h0.8v0.8h-0.8zM205.3 135.7h0.8v0.8h-0.8zM209.8 120.7h0.8v0.8h-0.8zM204.0 137.3h0.8v0.8h-0.8zM207.2 118.6h0.8v0.8h-0.8zM211.4 127.2h0.8v0.8h-0.8zM203.9 113.9h0.8v0.8h-0.8zM209.2 120.1h0.8v0.8h-0.8zM209.4 119.4h0.8v0.8h-0.8zM196.3 109.6h0.8v0.8h-0.8zM189.5 113.9h0.8v0.8h-0.8zM206.8 111.4h0.8v0.8h-0.8zM206.7 133.9h0.8v0.8h-0.8zM205.5 135.8h0.8v0.8h-0.8zM209.1 124.2h0.8v0.8h-0.8zM206.2 134.4h0.8v0.8h-0.8zM204.8 114.5h0.8v0.8h-0.8zM209.7 118.1h0.8v0.8h-0.8zM209.1 133.3h0.8v0.8h-0.8zM186.4 114.3h0.8v0.8h-0.8zM209.0 119.2h0.8v0.8h-0.8zM209.1 113.3h0.8v0.8h-0.8zM207.1 117.8h0.8v0.8h-0.8zM211.2 133.1h0.8v0.8h-0.8zM209.1 127.0h0.8v0.8h-0.8zM188.4 111.4h0.8v0.8h-0.8zM211.0 120.9h0.8v0.8h-0.8zM208.4 113.8h0.8v0.8h-0.8zM206.7 115.0h0.8v0.8h-0.8zM209.0 125.1h0.8v0.8h-0.8zM197.7 140.1h0.8v0.8h-0.8zM210.2 126.0h0.8v0.8h-0.8zM209.8 122.1h0.8v0.8h-0.8zM187.2 116.7h0.8v0.8h-0.8zM202.4 110.5h0.8v0.8h-0.8zM207.4 134.9h0.8v0.8h-0.8zM203.3 143.2h0.8v0.8h-0.8zM208.4 138.8h0.8v0.8h-0.8zM199.6 140.1h0.8v0.8h-0.8zM210.2 127.4h0.8v0.8h-0.8zM211.3 129.9h0.8v0.8h-0.8zM207.4 118.2h0.8v0.8h-0.8zM210.6 122.4h0.8v0.8h-0.8zM208.0 130.4h0.8v0.8h-0.8zM209.0 121.5h0.8v0.8h-0.8zM211.2 118.8h0.8v0.8h-0.8zM204.5 110.7h0.8v0.8h-0.8zM201.6 110.8h0.8v0.8h-0.8zM212.2 123.1h0.8v0.8h-0.8zM207.0 109.7h0.8v0.8h-0.8zM208.8 135.4h0.8v0.8h-0.8zM211.0 123.7h0.8v0.8h-0.8zM208.8 123.8h0.8v0.8h-0.8zM204.9 138.9h0.8v0.8h-0.8zM206.1 137.3h0.8v0.8h-0.8zM199.2 139.7h0.8v0.8h-0.8zM210.3 123.7h0.8v0.8h-0.8zM205.9 109.3h0.8v0.8h-0.8zM211.1 126.5h0.8v0.8h-0.8zM210.0 137.0h0.8v0.8h-0.8zM203.9 107.5h0.8v0.8h-0.8zM210.2 124.7h0.8v0.8h-0.8zM192.6 107.9h0.8v0.8h-0.8zM209.1 118.1h0.8v0.8h-0.8zM207.0 117.8h0.8v0.8h-0.8zM210.9 116.9h0.8v0.8h-0.8zM210.1 113.7h0.8v0.8h-0.8zM210.1 117.3h0.8v0.8h-0.8zM201.1 109.2h0.8v0.8h-0.8zM207.5 133.9h0.8v0.8h-0.8zM212.6 119.5h0.8v0.8h-0.8zM211.2 127.6h0.8v0.8h-0.8zM208.9 125.0h0.8v0.8h-0.8zM207.4 136.7h0.8v0.8h-0.8zM207.0 111.8h0.8v0.8h-0.8zM209.2 122.4h0.8v0.8h-0.8zM201.1 144.1h0.8v0.8h-0.8zM212.9 130.6h0.8v0.8h-0.8zM209.6 117.5h0.8v0.8h-0.8zM207.9 120.0h0.8v0.8h-0.8zM191.5 108.5h0.8v0.8h-0.8zM190.0 139.4h0.8v0.8h-0.8zM190.0 112.6h0.8v0.8h-0.8zM208.2 130.9h0.8v0.8h-0.8zM209.0 131.3h0.8v0.8h-0.8zM211.5 125.1h0.8v0.8h-0.8zM194.2 144.3h0.8v0.8h-0.8zM205.0 110.0h0.8v0.8h-0.8zM207.6 118.7h0.8v0.8h-0.8zM210.7 128.9h0.8v0.8h-0.8zM206.9 110.9h0.8v0.8h-0.8zM211.8 127.1h0.8v0.8h-0.8zM206.1 140.3h0.8v0.8h-0.8zM206.1 135.9h0.8v0.8h-0.8zM209.0 126.9h0.8v0.8h-0.8zM201.3 138.8h0.8v0.8h-0.8zM209.7 137.1h0.8v0.8h-0.8zM210.9 127.1h0.8v0.8h-0.8zM207.8 116.9h0.8v0.8h-0.8zM207.5 134.5h0.8v0.8h-0.8zM200.6 135.7h0.8v0.8h-0.8zM190.7 115.9h0.8v0.8h-0.8zM189.9 116.3h0.8v0.8h-0.8zM199.1 113.4h0.8v0.8h-0.8zM184.9 124.9h0.8v0.8h-0.8zM189.5 114.5h0.8v0.8h-0.8zM199.8 136.5h0.8v0.8h-0.8zM184.3 123.0h0.8v0.8h-0.8zM203.9 120.6h0.8v0.8h-0.8zM186.3 133.9h0.8v0.8h-0.8zM200.5 116.1h0.8v0.8h-0.8zM204.7 129.1h0.8v0.8h-0.8zM186.6 134.3h0.8v0.8h-0.8zM206.0 126.0h0.8v0.8h-0.8zM196.2 112.8h0.8v0.8h-0.8zM204.7 130.1h0.8v0.8h-0.8zM201.9 137.1h0.8v0.8h-0.8zM186.2 120.6h0.8v0.8h-0.8zM204.7 118.6h0.8v0.8h-0.8zM191.3 136.4h0.8v0.8h-0.8zM203.1 116.4h0.8v0.8h-0.8zM201.8 134.9h0.8v0.8h-0.8zM184.5 129.9h0.8v0.8h-0.8zM185.4 126.2h0.8v0.8h-0.8zM194.4 113.6h0.8v0.8h-0.8zM192.1 115.2h0.8v0.8h-0.8zM198.8 113.7h0.8v0.8h-0.8zM205.2 122.3h0.8v0.8h-0.8zM204.0 117.2h0.8v0.8h-0.8zM206.3 121.8h0.8v0.8h-0.8zM198.5 136.9h0.8v0.8h-0.8zM197.3 137.3h0.8v0.8h-0.8zM199.6 136.3h0.8v0.8h-0.8zM192.0 113.6h0.8v0.8h-0.8zM193.3 137.9h0.8v0.8h-0.8zM188.2 115.1h0.8v0.8h-0.8zM197.3 113.7h0.8v0.8h-0.8zM204.2 133.5h0.8v0.8h-0.8zM205.2 120.3h0.8v0.8h-0.8zM190.0 136.6h0.8v0.8h-0.8zM185.3 120.1h0.8v0.8h-0.8zM205.8 120.5h0.8v0.8h-0.8zM201.5 115.3h0.8v0.8h-0.8zM185.3 124.7h0.8v0.8h-0.8zM198.9 114.3h0.8v0.8h-0.8zM201.8 117.2h0.8v0.8h-0.8zM205.9 123.6h0.8v0.8h-0.8zM192.4 112.9h0.8v0.8h-0.8zM193.6 137.3h0.8v0.8h-0.8zM185.7 124.1h0.8v0.8h-0.8zM193.2 137.2h0.8v0.8h-0.8zM199.4 113.9h0.8v0.8h-0.8zM186.2 133.4h0.8v0.8h-0.8zM200.9 115.4h0.8v0.8h-0.8zM186.5 121.9h0.8v0.8h-0.8zM202.9 133.5h0.8v0.8h-0.8zM195.3 114.1h0.8v0.8h-0.8zM198.7 136.8h0.8v0.8h-0.8zM189.5 138.0h0.8v0.8h-0.8zM190.1 136.6h0.8v0.8h-0.8zM199.9 115.3h0.8v0.8h-0.8zM186.9 120.5h0.8v0.8h-0.8zM184.9 128.7h0.8v0.8h-0.8zM186.0 120.8h0.8v0.8h-0.8zM187.5 132.4h0.8v0.8h-0.8zM203.9 131.1h0.8v0.8h-0.8zM192.0 113.2h0.8v0.8h-0.8zM196.6 113.5h0.8v0.8h-0.8zM194.5 113.8h0.8v0.8h-0.8zM187.2 131.8h0.8v0.8h-0.8zM186.9 135.3h0.8v0.8h-0.8zM203.8 133.3h0.8v0.8h-0.8zM187.5 133.6h0.8v0.8h-0.8zM195.0 139.0h0.8v0.8h-0.8zM194.3 139.0h0.8v0.8h-0.8zM200.5 113.8h0.8v0.8h-0.8zM195.9 139.7h0.8v0.8h-0.8zM203.6 134.1h0.8v0.8h-0.8zM197.3 137.3h0.8v0.8h-0.8zM202.2 117.6h0.8v0.8h-0.8zM205.5 120.9h0.8v0.8h-0.8zM202.6 133.9h0.8v0.8h-0.8zM204.7 122.6h0.8v0.8h-0.8zM193.7 138.3h0.8v0.8h-0.8zM202.8 118.2h0.8v0.8h-0.8zM186.5 117.7h0.8v0.8h-0.8zM204.2 120.0h0.8v0.8h-0.8zM194.9 139.2h0.8v0.8h-0.8zM185.2 123.5h0.8v0.8h-0.8zM204.3 119.4h0.8v0.8h-0.8zM189.2 116.7h0.8v0.8h-0.8zM186.2 122.0h0.8v0.8h-0.8zM192.7 114.6h0.8v0.8h-0.8zM188.4 114.9h0.8v0.8h-0.8zM193.5 138.0h0.8v0.8h-0.8zM186.1 132.1h0.8v0.8h-0.8zM206.0 121.9h0.8v0.8h-0.8zM194.6 113.2h0.8v0.8h-0.8zM193.6 138.1h0.8v0.8h-0.8zM198.9 114.4h0.8v0.8h-0.8zM193.6 137.8h0.8v0.8h-0.8zM204.9 124.9h0.8v0.8h-0.8zM184.4 130.1h0.8v0.8h-0.8zM198.2 137.7h0.8v0.8h-0.8zM194.9 138.9h0.8v0.8h-0.8zM205.5 132.7h0.8v0.8h-0.8zM186.8 130.8h0.8v0.8h-0.8zM186.0 126.3h0.8v0.8h-0.8zM203.7 131.6h0.8v0.8h-0.8zM204.9 119.3h0.8v0.8h-0.8zM196.5 113.5h0.8v0.8h-0.8zM188.5 133.8h0.8v0.8h-0.8zM203.9 133.7h0.8v0.8h-0.8zM187.4 119.5h0.8v0.8h-0.8zM185.8 122.2h0.8v0.8h-0.8zM204.1 131.3h0.8v0.8h-0.8zM185.7 126.2h0.8v0.8h-0.8zM204.8 123.2h0.8v0.8h-0.8zM201.9 117.6h0.8v0.8h-0.8zM204.0 134.4h0.8v0.8h-0.8zM204.8 127.7h0.8v0.8h-0.8zM189.1 115.9h0.8v0.8h-0.8zM200.1 138.3h0.8v0.8h-0.8zM185.6 128.1h0.8v0.8h-0.8zM193.4 138.0h0.8v0.8h-0.8zM203.5 132.2h0.8v0.8h-0.8zM205.3 133.0h0.8v0.8h-0.8zM193.2 113.5h0.8v0.8h-0.8zM204.3 122.1h0.8v0.8h-0.8zM194.5 137.5h0.8v0.8h-0.8zM184.5 128.5h0.8v0.8h-0.8zM204.0 116.8h0.8v0.8h-0.8zM185.2 123.7h0.8v0.8h-0.8zM190.6 113.3h0.8v0.8h-0.8zM201.5 115.2h0.8v0.8h-0.8zM197.4 138.0h0.8v0.8h-0.8zM199.1 137.1h0.8v0.8h-0.8zM200.3 136.8h0.8v0.8h-0.8zM192.3 114.1h0.8v0.8h-0.8zM203.9 121.0h0.8v0.8h-0.8zM187.2 116.3h0.8v0.8h-0.8zM191.1 115.2h0.8v0.8h-0.8zM190.2 135.6h0.8v0.8h-0.8zM186.8 118.8h0.8v0.8h-0.8zM200.9 136.0h0.8v0.8h-0.8zM194.6 111.9h0.8v0.8h-0.8zM203.8 133.1h0.8v0.8h-0.8zM186.8 119.1h0.8v0.8h-0.8zM204.8 132.4h0.8v0.8h-0.8zM188.9 115.9h0.8v0.8h-0.8zM206.1 122.4h0.8v0.8h-0.8zM202.4 134.4h0.8v0.8h-0.8zM206.4 122.1h0.8v0.8h-0.8zM186.2 133.8h0.8v0.8h-0.8zM201.1 135.6h0.8v0.8h-0.8zM204.1 132.8h0.8v0.8h-0.8zM189.1 114.4h0.8v0.8h-0.8zM203.9 132.1h0.8v0.8h-0.8zM195.5 138.6h0.8v0.8h-0.8zM189.2 117.2h0.8v0.8h-0.8zM203.0 116.6h0.8v0.8h-0.8zM198.2 138.2h0.8v0.8h-0.8zM192.1 114.7h0.8v0.8h-0.8zM186.9 131.4h0.8v0.8h-0.8zM201.4 135.3h0.8v0.8h-0.8zM201.9 135.5h0.8v0.8h-0.8zM192.2 138.3h0.8v0.8h-0.8zM200.1 138.8h0.8v0.8h-0.8zM193.9 112.0h0.8v0.8h-0.8zM206.0 123.7h0.8v0.8h-0.8zM184.0 123.5h0.8v0.8h-0.8zM196.9 138.0h0.8v0.8h-0.8zM188.4 116.4h0.8v0.8h-0.8zM200.1 136.1h0.8v0.8h-0.8zM194.2 140.1h0.8v0.8h-0.8zM191.5 113.2h0.8v0.8h-0.8zM194.6 138.5h0.8v0.8h-0.8zM199.0 112.7h0.8v0.8h-0.8zM198.9 137.2h0.8v0.8h-0.8zM191.9 113.9h0.8v0.8h-0.8zM205.4 118.9h0.8v0.8h-0.8zM204.9 126.9h0.8v0.8h-0.8zM205.0 124.1h0.8v0.8h-0.8zM199.6 136.7h0.8v0.8h-0.8zM199.0 136.8h0.8v0.8h-0.8zM192.9 137.2h0.8v0.8h-0.8zM186.6 131.6h0.8v0.8h-0.8zM196.9 139.1h0.8v0.8h-0.8zM193.3 138.2h0.8v0.8h-0.8zM202.6 118.2h0.8v0.8h-0.8zM195.9 140.0h0.8v0.8h-0.8zM204.0 118.1h0.8v0.8h-0.8zM202.9 115.4h0.8v0.8h-0.8zM200.5 116.3h0.8v0.8h-0.8zM200.9 136.9h0.8v0.8h-0.8zM186.7 132.2h0.8v0.8h-0.8zM205.9 125.7h0.8v0.8h-0.8zM184.9 127.0h0.8v0.8h-0.8zM205.1 122.2h0.8v0.8h-0.8zM191.2 136.6h0.8v0.8h-0.8zM187.2 120.2h0.8v0.8h-0.8zM192.9 114.5h0.8v0.8h-0.8zM203.6 132.8h0.8v0.8h-0.8zM186.3 123.2h0.8v0.8h-0.8zM189.1 135.8h0.8v0.8h-0.8zM190.9 136.7h0.8v0.8h-0.8zM194.9 112.8h0.8v0.8h-0.8zM200.6 136.9h0.8v0.8h-0.8zM189.2 114.2h0.8v0.8h-0.8zM193.9 114.5h0.8v0.8h-0.8zM194.1 139.8h0.8v0.8h-0.8zM186.7 132.2h0.8v0.8h-0.8zM186.4 122.0h0.8v0.8h-0.8zM190.3 115.5h0.8v0.8h-0.8zM205.7 124.8h0.8v0.8h-0.8zM194.4 139.5h0.8v0.8h-0.8zM188.8 115.2h0.8v0.8h-0.8zM191.8 113.6h0.8v0.8h-0.8zM186.2 123.6h0.8v0.8h-0.8zM200.2 115.1h0.8v0.8h-0.8zM204.8 126.9h0.8v0.8h-0.8zM185.6 120.9h0.8v0.8h-0.8zM197.1 114.6h0.8v0.8h-0.8zM186.0 125.8h0.8v0.8h-0.8zM185.5 120.6h0.8v0.8h-0.8zM186.2 123.6h0.8v0.8h-0.8zM205.4 128.0h0.8v0.8h-0.8zM184.2 124.7h0.8v0.8h-0.8zM189.9 137.8h0.8v0.8h-0.8zM194.2 138.5h0.8v0.8h-0.8zM186.3 122.2h0.8v0.8h-0.8zM185.4 127.1h0.8v0.8h-0.8zM202.6 118.4h0.8v0.8h-0.8zM206.3 125.0h0.8v0.8h-0.8zM190.3 115.9h0.8v0.8h-0.8zM190.0 136.2h0.8v0.8h-0.8zM192.0 114.6h0.8v0.8h-0.8zM200.1 136.2h0.8v0.8h-0.8zM204.8 129.6h0.8v0.8h-0.8zM187.5 134.9h0.8v0.8h-0.8zM203.3 119.1h0.8v0.8h-0.8zM195.1 114.5h0.8v0.8h-0.8zM189.7 135.4h0.8v0.8h-0.8zM202.6 136.6h0.8v0.8h-0.8zM184.7 127.3h0.8v0.8h-0.8zM198.7 113.9h0.8v0.8h-0.8zM193.1 114.6h0.8v0.8h-0.8zM201.3 114.6h0.8v0.8h-0.8zM200.4 115.9h0.8v0.8h-0.8zM200.2 115.0h0.8v0.8h-0.8zM193.4 139.0h0.8v0.8h-0.8zM191.9 136.7h0.8v0.8h-0.8zM203.7 116.3h0.8v0.8h-0.8zM204.1 130.6h0.8v0.8h-0.8zM186.7 120.1h0.8v0.8h-0.8zM204.5 129.9h0.8v0.8h-0.8zM192.4 113.8h0.8v0.8h-0.8zM186.0 128.4h0.8v0.8h-0.8zM205.0 129.3h0.8v0.8h-0.8zM204.3 130.8h0.8v0.8h-0.8zM190.8 115.6h0.8v0.8h-0.8zM200.0 137.6h0.8v0.8h-0.8zM186.9 120.1h0.8v0.8h-0.8zM198.5 114.7h0.8v0.8h-0.8zM186.7 130.7h0.8v0.8h-0.8zM193.4 114.5h0.8v0.8h-0.8zM197.3 137.4h0.8v0.8h-0.8zM187.3 134.3h0.8v0.8h-0.8zM197.5 138.0h0.8v0.8h-0.8zM201.5 116.7h0.8v0.8h-0.8zM205.7 121.0h0.8v0.8h-0.8zM202.2 115.0h0.8v0.8h-0.8zM185.3 119.5h0.8v0.8h-0.8zM197.2 137.5h0.8v0.8h-0.8zM188.7 135.3h0.8v0.8h-0.8zM185.7 129.1h0.8v0.8h-0.8zM204.1 135.2h0.8v0.8h-0.8zM197.9 112.5h0.8v0.8h-0.8zM193.1 137.2h0.8v0.8h-0.8zM186.2 117.7h0.8v0.8h-0.8zM195.0 112.9h0.8v0.8h-0.8zM187.9 117.9h0.8v0.8h-0.8zM205.7 123.6h0.8v0.8h-0.8zM202.9 133.4h0.8v0.8h-0.8zM204.0 118.7h0.8v0.8h-0.8zM194.2 113.4h0.8v0.8h-0.8zM205.8 123.0h0.8v0.8h-0.8zM197.5 114.1h0.8v0.8h-0.8zM196.8 138.2h0.8v0.8h-0.8zM187.6 118.8h0.8v0.8h-0.8zM200.2 136.2h0.8v0.8h-0.8zM206.5 125.0h0.8v0.8h-0.8zM186.5 118.7h0.8v0.8h-0.8zM189.4 136.4h0.8v0.8h-0.8zM186.2 131.6h0.8v0.8h-0.8zM185.5 127.8h0.8v0.8h-0.8zM196.6 137.7h0.8v0.8h-0.8zM195.8 138.0h0.8v0.8h-0.8zM199.5 113.0h0.8v0.8h-0.8zM202.9 115.3h0.8v0.8h-0.8zM235.8 112.9h0.8v0.8h-0.8zM243.2 136.6h0.8v0.8h-0.8zM247.0 126.1h0.8v0.8h-0.8zM235.1 118.8h0.8v0.8h-0.8zM210.4 124.6h0.8v0.8h-0.8zM242.4 133.0h0.8v0.8h-0.8zM219.4 118.5h0.8v0.8h-0.8zM227.1 135.6h0.8v0.8h-0.8zM225.9 136.1h0.8v0.8h-0.8zM243.1 117.1h0.8v0.8h-0.8zM247.4 123.2h0.8v0.8h-0.8zM218.5 120.3h0.8v0.8h-0.8zM222.5 115.4h0.8v0.8h-0.8zM214.1 127.7h0.8v0.8h-0.8zM239.1 125.4h0.8v0.8h-0.8zM214.4 122.8h0.8v0.8h-0.8zM222.2 112.9h0.8v0.8h-0.8zM238.3 118.5h0.8v0.8h-0.8zM228.0 119.0h0.8v0.8h-0.8zM240.7 119.2h0.8v0.8h-0.8zM224.6 137.6h0.8v0.8h-0.8zM231.3 138.4h0.8v0.8h-0.8zM244.3 125.1h0.8v0.8h-0.8zM221.8 131.9h0.8v0.8h-0.8zM253.1 129.0h0.8v0.8h-0.8zM233.6 133.2h0.8v0.8h-0.8zM213.5 131.9h0.8v0.8h-0.8zM213.4 131.7h0.8v0.8h-0.8zM217.8 119.5h0.8v0.8h-0.8zM229.4 137.1h0.8v0.8h-0.8zM245.4 120.7h0.8v0.8h-0.8zM256.9 124.4h0.8v0.8h-0.8zM229.6 118.2h0.8v0.8h-0.8zM219.2 122.2h0.8v0.8h-0.8zM225.4 117.5h0.8v0.8h-0.8zM228.0 136.6h0.8v0.8h-0.8zM248.2 121.4h0.8v0.8h-0.8zM251.2 129.4h0.8v0.8h-0.8zM241.2 124.7h0.8v0.8h-0.8zM228.0 119.8h0.8v0.8h-0.8zM231.3 117.7h0.8v0.8h-0.8zM237.6 115.8h0.8v0.8h-0.8zM216.4 122.7h0.8v0.8h-0.8zM219.4 125.3h0.8v0.8h-0.8zM238.9 133.4h0.8v0.8h-0.8zM234.4 126.2h0.8v0.8h-0.8zM223.4 137.1h0.8v0.8h-0.8zM233.0 120.8h0.8v0.8h-0.8zM236.3 116.4h0.8v0.8h-0.8zM240.9 114.2h0.8v0.8h-0.8zM222.6 112.9h0.8v0.8h-0.8zM225.9 128.3h0.8v0.8h-0.8zM235.9 138.7h0.8v0.8h-0.8zM237.2 113.1h0.8v0.8h-0.8zM224.0 125.7h0.8v0.8h-0.8zM232.8 112.2h0.8v0.8h-0.8zM233.5 119.5h0.8v0.8h-0.8zM228.6 126.4h0.8v0.8h-0.8zM218.1 132.5h0.8v0.8h-0.8zM251.4 118.9h0.8v0.8h-0.8zM242.6 126.8h0.8v0.8h-0.8zM244.0 117.5h0.8v0.8h-0.8zM245.0 136.8h0.8v0.8h-0.8zM213.3 120.9h0.8v0.8h-0.8zM238.5 137.4h0.8v0.8h-0.8zM248.3 121.4h0.8v0.8h-0.8zM233.5 127.7h0.8v0.8h-0.8zM243.0 118.4h0.8v0.8h-0.8zM233.2 123.6h0.8v0.8h-0.8zM250.3 118.3h0.8v0.8h-0.8zM246.0 121.3h0.8v0.8h-0.8zM231.5 124.3h0.8v0.8h-0.8zM223.6 125.7h0.8v0.8h-0.8zM234.5 117.0h0.8v0.8h-0.8zM223.6 113.8h0.8v0.8h-0.8zM235.1 114.7h0.8v0.8h-0.8zM241.0 133.8h0.8v0.8h-0.8zM241.9 120.1h0.8v0.8h-0.8zM220.1 117.5h0.8v0.8h-0.8zM215.5 128.0h0.8v0.8h-0.8zM237.1 132.3h0.8v0.8h-0.8zM240.4 136.0h0.8v0.8h-0.8zM242.8 132.4h0.8v0.8h-0.8zM248.6 115.8h0.8v0.8h-0.8zM230.5 134.6h0.8v0.8h-0.8zM229.7 121.7h0.8v0.8h-0.8zM211.6 126.1h0.8v0.8h-0.8zM250.2 125.8h0.8v0.8h-0.8zM229.9 125.5h0.8v0.8h-0.8zM228.6 114.9h0.8v0.8h-0.8zM227.9 126.4h0.8v0.8h-0.8zM233.6 113.2h0.8v0.8h-0.8zM215.1 126.4h0.8v0.8h-0.8zM236.9 121.4h0.8v0.8h-0.8zM246.5 127.7h0.8v0.8h-0.8zM229.4 127.2h0.8v0.8h-0.8zM235.1 128.3h0.8v0.8h-0.8zM213.4 128.8h0.8v0.8h-0.8zM215.3 119.3h0.8v0.8h-0.8zM233.9 121.2h0.8v0.8h-0.8zM225.8 125.2h0.8v0.8h-0.8zM235.0 138.6h0.8v0.8h-0.8zM220.8 128.9h0.8v0.8h-0.8zM212.8 123.3h0.8v0.8h-0.8zM231.7 117.6h0.8v0.8h-0.8zM234.7 125.3h0.8v0.8h-0.8zM221.9 129.2h0.8v0.8h-0.8zM243.7 132.0h0.8v0.8h-0.8zM248.0 121.3h0.8v0.8h-0.8zM216.2 119.3h0.8v0.8h-0.8zM250.5 130.2h0.8v0.8h-0.8zM225.4 122.5h0.8v0.8h-0.8zM244.1 113.9h0.8v0.8h-0.8zM230.9 117.8h0.8v0.8h-0.8zM227.6 119.3h0.8v0.8h-0.8zM238.1 112.7h0.8v0.8h-0.8zM254.3 123.5h0.8v0.8h-0.8zM246.3 120.6h0.8v0.8h-0.8zM238.7 131.2h0.8v0.8h-0.8zM218.8 130.7h0.8v0.8h-0.8zM227.8 117.3h0.8v0.8h-0.8zM242.5 113.4h0.8v0.8h-0.8zM230.5 128.0h0.8v0.8h-0.8zM252.8 119.2h0.8v0.8h-0.8zM244.6 129.9h0.8v0.8h-0.8zM251.1 120.2h0.8v0.8h-0.8zM216.4 131.1h0.8v0.8h-0.8zM254.6 125.1h0.8v0.8h-0.8zM236.5 122.8h0.8v0.8h-0.8zM223.1 136.3h0.8v0.8h-0.8zM243.7 122.0h0.8v0.8h-0.8zM239.0 134.5h0.8v0.8h-0.8zM254.1 125.5h0.8v0.8h-0.8zM231.6 128.7h0.8v0.8h-0.8zM243.3 127.7h0.8v0.8h-0.8zM243.4 125.3h0.8v0.8h-0.8zM234.1 121.3h0.8v0.8h-0.8zM247.9 115.7h0.8v0.8h-0.8zM242.2 128.3h0.8v0.8h-0.8zM225.3 115.7h0.8v0.8h-0.8zM230.9 125.5h0.8v0.8h-0.8zM253.9 124.3h0.8v0.8h-0.8zM238.6 115.5h0.8v0.8h-0.8zM231.0 136.5h0.8v0.8h-0.8zM236.4 115.2h0.8v0.8h-0.8zM230.3 120.6h0.8v0.8h-0.8zM210.2 125.2h0.8v0.8h-0.8zM216.5 133.1h0.8v0.8h-0.8zM230.5 114.6h0.8v0.8h-0.8zM235.5 119.4h0.8v0.8h-0.8zM218.1 133.8h0.8v0.8h-0.8zM214.9 126.9h0.8v0.8h-0.8zM233.1 132.8h0.8v0.8h-0.8zM229.9 123.9h0.8v0.8h-0.8zM221.7 125.2h0.8v0.8h-0.8zM213.9 117.8h0.8v0.8h-0.8zM239.1 126.4h0.8v0.8h-0.8zM236.6 116.5h0.8v0.8h-0.8zM237.7 132.5h0.8v0.8h-0.8zM246.3 116.8h0.8v0.8h-0.8zM244.9 129.8h0.8v0.8h-0.8zM246.6 121.7h0.8v0.8h-0.8zM216.3 119.9h0.8v0.8h-0.8zM232.4 121.4h0.8v0.8h-0.8zM226.0 136.4h0.8v0.8h-0.8zM231.1 116.3h0.8v0.8h-0.8zM213.4 128.6h0.8v0.8h-0.8zM221.6 125.0h0.8v0.8h-0.8zM210.6 124.4h0.8v0.8h-0.8zM225.1 130.3h0.8v0.8h-0.8zM235.3 137.0h0.8v0.8h-0.8zM236.7 127.4h0.8v0.8h-0.8zM220.2 114.7h0.8v0.8h-0.8zM216.7 129.4h0.8v0.8h-0.8zM234.7 134.0h0.8v0.8h-0.8zM219.6 127.5h0.8v0.8h-0.8zM223.1 115.9h0.8v0.8h-0.8zM228.6 118.9h0.8v0.8h-0.8zM244.3 131.8h0.8v0.8h-0.8zM239.6 136.5h0.8v0.8h-0.8zM241.8 134.2h0.8v0.8h-0.8zM233.7 126.6h0.8v0.8h-0.8zM247.0 125.5h0.8v0.8h-0.8zM225.4 132.8h0.8v0.8h-0.8zM233.8 119.9h0.8v0.8h-0.8zM226.9 138.2h0.8v0.8h-0.8zM234.5 127.6h0.8v0.8h-0.8zM238.4 137.0h0.8v0.8h-0.8zM215.6 125.1h0.8v0.8h-0.8zM236.7 111.2h0.8v0.8h-0.8zM242.0 122.1h0.8v0.8h-0.8zM218.8 120.5h0.8v0.8h-0.8zM217.6 119.8h0.8v0.8h-0.8zM238.4 135.6h0.8v0.8h-0.8zM221.3 120.5h0.8v0.8h-0.8zM220.4 134.9h0.8v0.8h-0.8zM230.4 114.0h0.8v0.8h-0.8zM224.1 130.9h0.8v0.8h-0.8zM237.8 137.1h0.8v0.8h-0.8zM229.7 121.1h0.8v0.8h-0.8zM246.0 131.4h0.8v0.8h-0.8zM247.4 120.2h0.8v0.8h-0.8zM229.9 133.9h0.8v0.8h-0.8zM234.7 128.3h0.8v0.8h-0.8zM240.3 124.1h0.8v0.8h-0.8zM230.8 128.6h0.8v0.8h-0.8zM216.8 124.9h0.8v0.8h-0.8zM218.8 134.7h0.8v0.8h-0.8zM228.5 112.5h0.8v0.8h-0.8zM242.5 131.1h0.8v0.8h-0.8zM238.1 128.9h0.8v0.8h-0.8zM245.3 116.5h0.8v0.8h-0.8zM251.7 123.0h0.8v0.8h-0.8zM253.2 125.5h0.8v0.8h-0.8zM236.9 121.7h0.8v0.8h-0.8zM223.7 127.1h0.8v0.8h-0.8zM215.9 118.2h0.8v0.8h-0.8zM246.2 121.9h0.8v0.8h-0.8zM222.4 130.8h0.8v0.8h-0.8zM241.7 115.8h0.8v0.8h-0.8zM237.5 112.8h0.8v0.8h-0.8zM218.9 121.6h0.8v0.8h-0.8zM246.8 120.4h0.8v0.8h-0.8zM237.1 134.1h0.8v0.8h-0.8zM245.9 127.7h0.8v0.8h-0.8zM242.6 136.8h0.8v0.8h-0.8zM232.8 111.2h0.8v0.8h-0.8zM241.6 126.4h0.8v0.8h-0.8zM221.4 127.2h0.8v0.8h-0.8zM213.0 126.4h0.8v0.8h-0.8zM240.0 121.5h0.8v0.8h-0.8zM216.8 119.0h0.8v0.8h-0.8zM219.9 128.5h0.8v0.8h-0.8zM249.2 127.6h0.8v0.8h-0.8zM229.6 120.0h0.8v0.8h-0.8zM235.4 136.8h0.8v0.8h-0.8zM254.4 129.3h0.8v0.8h-0.8zM239.1 134.2h0.8v0.8h-0.8zM248.2 124.5h0.8v0.8h-0.8zM235.6 137.5h0.8v0.8h-0.8zM216.9 115.4h0.8v0.8h-0.8zM240.5 125.9h0.8v0.8h-0.8zM212.6 127.8h0.8v0.8h-0.8zM224.7 136.6h0.8v0.8h-0.8zM236.1 131.0h0.8v0.8h-0.8zM219.5 117.1h0.8v0.8h-0.8zM256.7 123.1h0.8v0.8h-0.8zM213.5 119.2h0.8v0.8h-0.8zM218.7 129.6h0.8v0.8h-0.8zM234.9 122.7h0.8v0.8h-0.8zM221.3 127.8h0.8v0.8h-0.8zM216.2 119.0h0.8v0.8h-0.8zM210.5 121.9h0.8v0.8h-0.8zM217.0 135.9h0.8v0.8h-0.8zM223.7 127.5h0.8v0.8h-0.8zM222.5 137.2h0.8v0.8h-0.8zM215.7 124.9h0.8v0.8h-0.8zM235.4 125.7h0.8v0.8h-0.8zM223.1 119.9h0.8v0.8h-0.8zM222.6 127.8h0.8v0.8h-0.8zM220.8 135.0h0.8v0.8h-0.8zM217.8 123.9h0.8v0.8h-0.8zM207.8 118.4h0.8v0.8h-0.8zM217.1 131.7h0.8v0.8h-0.8zM220.5 120.0h0.8v0.8h-0.8zM211.7 124.4h0.8v0.8h-0.8zM210.0 126.3h0.8v0.8h-0.8zM212.9 127.8h0.8v0.8h-0.8zM211.9 119.5h0.8v0.8h-0.8zM213.4 129.3h0.8v0.8h-0.8zM219.2 123.5h0.8v0.8h-0.8zM222.7 126.7h0.8v0.8h-0.8zM213.1 130.0h0.8v0.8h-0.8zM216.1 129.5h0.8v0.8h-0.8zM219.0 144.2h0.8v0.8h-0.8zM217.5 132.0h0.8v0.8h-0.8zM221.0 124.9h0.8v0.8h-0.8zM216.8 134.9h0.8v0.8h-0.8zM217.0 113.9h0.8v0.8h-0.8zM219.4 118.2h0.8v0.8h-0.8zM220.3 123.5h0.8v0.8h-0.8zM217.5 125.4h0.8v0.8h-0.8zM216.4 116.5h0.8v0.8h-0.8zM220.0 137.7h0.8v0.8h-0.8zM217.7 120.3h0.8v0.8h-0.8zM212.8 129.4h0.8v0.8h-0.8zM225.5 121.8h0.8v0.8h-0.8zM207.6 131.5h0.8v0.8h-0.8zM217.8 124.5h0.8v0.8h-0.8zM217.7 134.4h0.8v0.8h-0.8zM217.3 129.2h0.8v0.8h-0.8zM221.1 129.7h0.8v0.8h-0.8zM225.2 125.1h0.8v0.8h-0.8zM224.0 128.6h0.8v0.8h-0.8zM224.7 124.1h0.8v0.8h-0.8zM224.8 137.3h0.8v0.8h-0.8zM220.6 127.6h0.8v0.8h-0.8zM211.1 117.9h0.8v0.8h-0.8zM221.5 115.1h0.8v0.8h-0.8zM218.6 115.1h0.8v0.8h-0.8zM213.7 115.2h0.8v0.8h-0.8zM221.9 135.1h0.8v0.8h-0.8zM212.7 116.6h0.8v0.8h-0.8zM222.0 110.0h0.8v0.8h-0.8zM217.4 123.7h0.8v0.8h-0.8zM218.1 116.7h0.8v0.8h-0.8zM221.1 114.8h0.8v0.8h-0.8zM226.7 117.7h0.8v0.8h-0.8zM220.8 135.5h0.8v0.8h-0.8zM222.0 131.4h0.8v0.8h-0.8zM222.0 123.9h0.8v0.8h-0.8zM220.9 117.8h0.8v0.8h-0.8zM218.4 137.4h0.8v0.8h-0.8zM215.4 111.2h0.8v0.8h-0.8zM208.2 116.8h0.8v0.8h-0.8zM213.9 126.1h0.8v0.8h-0.8zM220.9 125.7h0.8v0.8h-0.8zM217.2 135.9h0.8v0.8h-0.8zM227.0 129.8h0.8v0.8h-0.8zM213.6 125.7h0.8v0.8h-0.8zM206.5 121.3h0.8v0.8h-0.8zM221.4 113.4h0.8v0.8h-0.8zM214.2 138.5h0.8v0.8h-0.8zM219.4 137.6h0.8v0.8h-0.8zM210.4 128.0h0.8v0.8h-0.8zM217.3 129.6h0.8v0.8h-0.8zM222.2 129.2h0.8v0.8h-0.8zM225.0 132.9h0.8v0.8h-0.8zM221.6 124.1h0.8v0.8h-0.8zM216.1 123.3h0.8v0.8h-0.8zM218.0 114.2h0.8v0.8h-0.8zM227.0 131.4h0.8v0.8h-0.8zM218.5 121.6h0.8v0.8h-0.8zM209.1 133.8h0.8v0.8h-0.8zM217.3 127.9h0.8v0.8h-0.8zM215.7 127.1h0.8v0.8h-0.8zM217.3 124.2h0.8v0.8h-0.8zM219.8 133.7h0.8v0.8h-0.8zM215.1 131.4h0.8v0.8h-0.8zM207.5 120.0h0.8v0.8h-0.8zM199.6 84.4h0.8v0.8h-0.8zM200.2 71.4h0.8v0.8h-0.8zM201.5 76.8h0.8v0.8h-0.8zM198.5 93.0h0.8v0.8h-0.8zM194.3 97.1h0.8v0.8h-0.8zM200.6 68.6h0.8v0.8h-0.8zM194.3 84.7h0.8v0.8h-0.8zM199.5 67.0h0.8v0.8h-0.8zM196.9 82.0h0.8v0.8h-0.8zM201.4 77.9h0.8v0.8h-0.8zM198.0 74.2h0.8v0.8h-0.8zM201.6 81.9h0.8v0.8h-0.8zM193.8 83.0h0.8v0.8h-0.8zM196.0 79.9h0.8v0.8h-0.8zM193.4 80.3h0.8v0.8h-0.8zM200.3 60.6h0.8v0.8h-0.8zM197.7 78.3h0.8v0.8h-0.8zM197.5 83.1h0.8v0.8h-0.8zM193.5 58.1h0.8v0.8h-0.8zM196.4 85.4h0.8v0.8h-0.8zM191.9 81.6h0.8v0.8h-0.8zM197.1 79.1h0.8v0.8h-0.8zM194.6 92.4h0.8v0.8h-0.8zM201.6 84.1h0.8v0.8h-0.8zM197.1 82.8h0.8v0.8h-0.8zM199.8 71.0h0.8v0.8h-0.8zM195.6 90.6h0.8v0.8h-0.8zM199.0 69.1h0.8v0.8h-0.8zM206.6 85.6h0.8v0.8h-0.8zM195.4 79.8h0.8v0.8h-0.8zM196.5 92.5h0.8v0.8h-0.8zM199.5 82.5h0.8v0.8h-0.8zM200.6 88.9h0.8v0.8h-0.8zM210.2 81.2h0.8v0.8h-0.8zM197.2 81.3h0.8v0.8h-0.8zM206.9 80.3h0.8v0.8h-0.8zM199.5 76.6h0.8v0.8h-0.8zM198.5 90.0h0.8v0.8h-0.8zM192.8 98.8h0.8v0.8h-0.8zM196.3 76.0h0.8v0.8h-0.8zM208.4 82.1h0.8v0.8h-0.8zM212.3 80.5h0.8v0.8h-0.8zM216.8 96.2h0.8v0.8h-0.8zM224.9 85.0h0.8v0.8h-0.8zM209.4 96.2h0.8v0.8h-0.8zM223.3 96.6h0.8v0.8h-0.8zM254.9 140.3h0.8v0.8h-0.8zM231.9 121.9h0.8v0.8h-0.8zM202.8 134.8h0.8v0.8h-0.8zM237.1 117.1h0.8v0.8h-0.8zM234.8 128.3h0.8v0.8h-0.8zM192.1 138.8h0.8v0.8h-0.8zM235.8 148.1h0.8v0.8h-0.8zM179.5 130.4h0.8v0.8h-0.8z" fill="#111" fill-opacity="0.85"/>
<ellipse cx="195.4" cy="126.0" rx="9.9" ry="12.1" fill="#141414"/>
<ellipse cx="197.20000000000002" cy="125.7" rx="7.2" ry="10" fill="#8a8a8a"/>
<ellipse cx="194.8" cy="126.6" rx="6.0" ry="9.0" fill="#262626"/>
<ellipse cx="196.20000000000002" cy="125.8" rx="8.4" ry="10.8" fill="none" stroke="#d0d0d0" stroke-width="0.8"/>
<ellipse cx="195.1" cy="126.6" rx="4.2" ry="6.6" fill="none" stroke="#777" stroke-width="0.5"/>
<ellipse cx="195.6" cy="126.4" rx="6.4" ry="8.6" fill="none" stroke="#999" stroke-width="0.45"/>
<ellipse cx="193.3" cy="128.7" rx="0.9" ry="2.1" fill="#fff" fill-opacity="0.9"/>
<path d="M164.0 147.5H165.8M164.0 145.3H165.8M164.0 143.1H165.8M164.0 140.9H165.8M164.0 138.7H165.8M164.0 136.5H165.8M164.0 134.3H165.8M164.0 132.1H165.8M164.0 129.9H165.8M164.0 127.7H165.8M164.0 125.5H165.8M164.0 123.3H165.8M164.0 121.1H165.8M164.0 118.9H165.8M163.2 128.0H165.8M163.2 112.6H165.8M164.0 103.3H165.8M164.0 97.8H165.8M164.0 93.9H165.8M164.0 90.9H165.8M164.0 88.5H165.8M164.0 86.4H165.8M164.0 84.6H165.8M164.0 83.0H165.8M163.2 81.6H165.8M164.0 73.8H165.8M164.0 69.2H165.8M164.0 65.9H165.8M164.0 63.4H165.8M164.0 61.4H165.8M164.0 59.6H165.8M164.0 58.1H165.8M164.0 56.8H165.8M163.2 55.6H165.8M164.0 52.6H165.8M164.0 50.9H165.8M164.0 49.7H165.8M164.0 48.8H165.8M164.0 48.0H165.8M164.0 47.3H165.8M164.0 46.7H165.8M164.0 46.2H165.8M171.3 153.75v1.8M173.5 153.75v1.8M175.7 153.75v1.8M177.9 153.75v1.8M180.1 153.75v1.8M182.3 153.75v1.8M184.5 153.75v1.8M186.7 153.75v1.8M188.9 153.75v1.8M191.1 153.75v1.8M193.3 153.75v1.8M195.5 153.75v1.8M197.7 153.75v1.8M199.9 153.75v1.8M202.1 153.75v1.8M204.3 153.75v1.8M206.5 153.75v1.8M207.8 153.75v2.6M216.8 153.75v1.8M222.1 153.75v1.8M225.9 153.75v1.8M228.8 153.75v1.8M231.1 153.75v1.8M233.2 153.75v1.8M234.9 153.75v1.8M236.4 153.75v1.8M237.8 153.75v2.6M245.0 153.75v1.8M249.3 153.75v1.8M252.2 153.75v1.8M254.6 153.75v1.8M256.5 153.75v1.8M258.1 153.75v1.8M259.5 153.75v1.8M260.7 153.75v1.8M261.8 153.75v2.6M269.0 153.75v1.8" stroke="#222" stroke-width="0.75" fill="none"/>
<rect x="34.60" y="45.80" width="108.80" height="108.20" fill="none" stroke="#111" stroke-width="1.15" />
<rect x="165.60" y="45.80" width="108.60" height="108.20" fill="none" stroke="#111" stroke-width="1.15" />
<line x1="34.80" y1="45.30" x2="34.80" y2="154.70" stroke="#111" stroke-width="1.6" />
<line x1="34.10" y1="154.00" x2="143.90" y2="154.00" stroke="#111" stroke-width="1.5" />
<line x1="165.80" y1="45.30" x2="165.80" y2="154.70" stroke="#111" stroke-width="1.6" />
<line x1="165.10" y1="154.00" x2="274.70" y2="154.00" stroke="#111" stroke-width="1.5" />
<rect x="45.90" y="56.50" width="61.70" height="38.30" fill="none" stroke="#3a3a3a" stroke-width="0.9" />
<line x1="70.70" y1="56.50" x2="70.70" y2="94.80" stroke="#3a3a3a" stroke-width="0.9" />
<rect x="177.80" y="62.40" width="83.10" height="39.40" fill="none" stroke="#3a3a3a" stroke-width="0.9" />
<line x1="207.60" y1="62.40" x2="207.60" y2="101.80" stroke="#3a3a3a" stroke-width="0.9" />
<line x1="23.05" y1="164.80" x2="23.05" y2="102.00" stroke="#5e5e5e" stroke-width="1.8" />
<path d="M20.8 103.6L23.05 97.9L25.3 103.6Z" fill="#111"/>
<line x1="153.85" y1="163.90" x2="153.85" y2="102.50" stroke="#5e5e5e" stroke-width="1.8" />
<path d="M151.6 103.6L153.85 97.9L156.1 103.6Z" fill="#111"/>
<line x1="22.15" y1="163.85" x2="239.50" y2="163.85" stroke="#5e5e5e" stroke-width="1.8" />
<path d="M239.1 161.6L244.6 163.85L239.1 166.1Z" fill="#111"/>
<text x="25.80" y="85.40" font-size="8.6" text-anchor="middle" textLength="18.60" lengthAdjust="spacingAndGlyphs" transform="rotate(-90 25.80 85.40)" fill="#111" stroke="#111" stroke-width="0.16" >C-Kit</text>
<text x="156.70" y="84.85" font-size="8.6" text-anchor="middle" textLength="19.20" lengthAdjust="spacingAndGlyphs" transform="rotate(-90 156.70 84.85)" fill="#111" stroke="#111" stroke-width="0.16" >C-Kit</text>
<text x="247.50" y="167.30" font-size="9.3" text-anchor="start" textLength="21.30" lengthAdjust="spacingAndGlyphs" fill="#111" stroke="#111" stroke-width="0.16" >Sca-1</text>
<text x="73.80" y="179.60" font-size="9.8" text-anchor="start" textLength="30.30" lengthAdjust="spacingAndGlyphs" fill="#111" stroke="#111" stroke-width="0.16" >Control</text>
<text x="204.50" y="179.60" font-size="9.8" text-anchor="start" textLength="30.00" lengthAdjust="spacingAndGlyphs" fill="#111" stroke="#111" stroke-width="0.16" >Treated</text>
<line x1="326.10" y1="42.20" x2="326.10" y2="172.00" stroke="#111" stroke-width="1.6" />
<line x1="322.80" y1="171.20" x2="326.10" y2="171.20" stroke="#111" stroke-width="1.0" />
<text x="319.80" y="173.95" font-size="8.4" text-anchor="end" textLength="9.90" lengthAdjust="spacingAndGlyphs" fill="#111" stroke="#111" stroke-width="0.08" >0.0</text>
<line x1="322.80" y1="113.05" x2="326.10" y2="113.05" stroke="#111" stroke-width="1.0" />
<text x="319.80" y="115.80" font-size="8.4" text-anchor="end" textLength="9.90" lengthAdjust="spacingAndGlyphs" fill="#111" stroke="#111" stroke-width="0.08" >0.5</text>
<line x1="322.80" y1="54.90" x2="326.10" y2="54.90" stroke="#111" stroke-width="1.0" />
<text x="319.80" y="57.65" font-size="8.4" text-anchor="end" textLength="9.90" lengthAdjust="spacingAndGlyphs" fill="#111" stroke="#111" stroke-width="0.08" >1.0</text>
<line x1="325.30" y1="171.20" x2="512.90" y2="171.20" stroke="#111" stroke-width="1.5" />
<line x1="355.50" y1="171.20" x2="355.50" y2="174.00" stroke="#111" stroke-width="1.0" />
<line x1="399.60" y1="171.20" x2="399.60" y2="174.00" stroke="#111" stroke-width="1.0" />
<line x1="443.90" y1="171.20" x2="443.90" y2="174.00" stroke="#111" stroke-width="1.0" />
<line x1="488.20" y1="171.20" x2="488.20" y2="174.00" stroke="#111" stroke-width="1.0" />
<rect x="341.20" y="134.40" width="28.60" height="36.80" fill="none" stroke="#A5002B" stroke-width="1.0" />
<line x1="355.50" y1="130.40" x2="355.50" y2="138.40" stroke="#222" stroke-width="0.9" />
<line x1="349.70" y1="130.40" x2="361.30" y2="130.40" stroke="#222" stroke-width="0.9" />
<line x1="349.70" y1="138.40" x2="361.30" y2="138.40" stroke="#222" stroke-width="0.9" />
<circle cx="355.40" cy="46.70" r="2.95" fill="#A5002B" stroke="none" stroke-width="1"/>
<circle cx="355.40" cy="55.90" r="2.95" fill="#A5002B" stroke="none" stroke-width="1"/>
<circle cx="355.40" cy="74.20" r="2.95" fill="#A5002B" stroke="none" stroke-width="1"/>
<circle cx="351.50" cy="88.50" r="2.95" fill="#A5002B" stroke="none" stroke-width="1"/>
<circle cx="359.40" cy="91.50" r="2.95" fill="#A5002B" stroke="none" stroke-width="1"/>
<circle cx="351.50" cy="100.10" r="2.95" fill="#A5002B" stroke="none" stroke-width="1"/>
<circle cx="355.60" cy="99.50" r="2.95" fill="#A5002B" stroke="none" stroke-width="1"/>
<circle cx="347.70" cy="105.00" r="2.95" fill="#A5002B" stroke="none" stroke-width="1"/>
<circle cx="352.70" cy="107.10" r="2.95" fill="#A5002B" stroke="none" stroke-width="1"/>
<circle cx="359.10" cy="104.20" r="2.95" fill="#A5002B" stroke="none" stroke-width="1"/>
<circle cx="363.30" cy="106.50" r="2.95" fill="#A5002B" stroke="none" stroke-width="1"/>
<circle cx="351.40" cy="100.40" r="2.95" fill="#A5002B" stroke="none" stroke-width="1"/>
<circle cx="348.00" cy="104.80" r="2.95" fill="#A5002B" stroke="none" stroke-width="1"/>
<circle cx="353.60" cy="106.50" r="2.95" fill="#A5002B" stroke="none" stroke-width="1"/>
<circle cx="359.20" cy="104.30" r="2.95" fill="#A5002B" stroke="none" stroke-width="1"/>
<circle cx="363.10" cy="106.10" r="2.95" fill="#A5002B" stroke="none" stroke-width="1"/>
<circle cx="348.00" cy="112.10" r="2.95" fill="#A5002B" stroke="none" stroke-width="1"/>
<circle cx="353.20" cy="111.20" r="2.95" fill="#A5002B" stroke="none" stroke-width="1"/>
<circle cx="358.40" cy="109.50" r="2.95" fill="#A5002B" stroke="none" stroke-width="1"/>
<circle cx="362.70" cy="112.10" r="2.95" fill="#A5002B" stroke="none" stroke-width="1"/>
<circle cx="352.70" cy="116.40" r="2.95" fill="#A5002B" stroke="none" stroke-width="1"/>
<circle cx="357.50" cy="114.30" r="2.95" fill="#A5002B" stroke="none" stroke-width="1"/>
<circle cx="344.10" cy="121.20" r="2.95" fill="#A5002B" stroke="none" stroke-width="1"/>
<circle cx="351.90" cy="124.70" r="2.95" fill="#A5002B" stroke="none" stroke-width="1"/>
<circle cx="359.20" cy="126.00" r="2.95" fill="#A5002B" stroke="none" stroke-width="1"/>
<circle cx="366.80" cy="122.90" r="2.95" fill="#A5002B" stroke="none" stroke-width="1"/>
<circle cx="347.80" cy="130.30" r="2.95" fill="#A5002B" stroke="none" stroke-width="1"/>
<circle cx="355.30" cy="134.20" r="2.95" fill="#A5002B" stroke="none" stroke-width="1"/>
<circle cx="363.10" cy="133.70" r="2.95" fill="#A5002B" stroke="none" stroke-width="1"/>
<circle cx="344.10" cy="138.70" r="2.95" fill="#A5002B" stroke="none" stroke-width="1"/>
<circle cx="351.40" cy="140.40" r="2.95" fill="#A5002B" stroke="none" stroke-width="1"/>
<circle cx="358.80" cy="141.20" r="2.95" fill="#A5002B" stroke="none" stroke-width="1"/>
<circle cx="366.60" cy="140.00" r="2.95" fill="#A5002B" stroke="none" stroke-width="1"/>
<circle cx="344.00" cy="142.50" r="2.95" fill="#A5002B" stroke="none" stroke-width="1"/>
<circle cx="351.40" cy="143.50" r="2.95" fill="#A5002B" stroke="none" stroke-width="1"/>
<circle cx="358.80" cy="144.00" r="2.95" fill="#A5002B" stroke="none" stroke-width="1"/>
<circle cx="366.80" cy="143.50" r="2.95" fill="#A5002B" stroke="none" stroke-width="1"/>
<circle cx="344.50" cy="145.50" r="2.95" fill="#A5002B" stroke="none" stroke-width="1"/>
<circle cx="351.40" cy="146.50" r="2.95" fill="#A5002B" stroke="none" stroke-width="1"/>
<circle cx="358.80" cy="146.50" r="2.95" fill="#A5002B" stroke="none" stroke-width="1"/>
<circle cx="366.50" cy="146.00" r="2.95" fill="#A5002B" stroke="none" stroke-width="1"/>
<circle cx="343.60" cy="148.00" r="2.95" fill="#A5002B" stroke="none" stroke-width="1"/>
<circle cx="346.60" cy="148.00" r="2.95" fill="#A5002B" stroke="none" stroke-width="1"/>
<circle cx="349.60" cy="148.00" r="2.95" fill="#A5002B" stroke="none" stroke-width="1"/>
<circle cx="352.60" cy="148.00" r="2.95" fill="#A5002B" stroke="none" stroke-width="1"/>
<circle cx="355.60" cy="148.00" r="2.95" fill="#A5002B" stroke="none" stroke-width="1"/>
<circle cx="358.60" cy="148.00" r="2.95" fill="#A5002B" stroke="none" stroke-width="1"/>
<circle cx="361.60" cy="148.00" r="2.95" fill="#A5002B" stroke="none" stroke-width="1"/>
<circle cx="364.60" cy="148.00" r="2.95" fill="#A5002B" stroke="none" stroke-width="1"/>
<circle cx="367.60" cy="148.00" r="2.95" fill="#A5002B" stroke="none" stroke-width="1"/>
<circle cx="344.00" cy="151.60" r="2.95" fill="#A5002B" stroke="none" stroke-width="1"/>
<circle cx="347.91" cy="150.86" r="2.95" fill="#A5002B" stroke="none" stroke-width="1"/>
<circle cx="351.70" cy="150.30" r="2.95" fill="#A5002B" stroke="none" stroke-width="1"/>
<circle cx="355.50" cy="150.00" r="2.95" fill="#A5002B" stroke="none" stroke-width="1"/>
<circle cx="359.30" cy="150.30" r="2.95" fill="#A5002B" stroke="none" stroke-width="1"/>
<circle cx="363.09" cy="150.86" r="2.95" fill="#A5002B" stroke="none" stroke-width="1"/>
<circle cx="367.00" cy="151.60" r="2.95" fill="#A5002B" stroke="none" stroke-width="1"/>
<circle cx="344.50" cy="153.50" r="2.95" fill="#A5002B" stroke="none" stroke-width="1"/>
<circle cx="366.50" cy="153.50" r="2.95" fill="#A5002B" stroke="none" stroke-width="1"/>
<circle cx="346.20" cy="156.00" r="2.95" fill="#A5002B" stroke="none" stroke-width="1"/>
<circle cx="364.80" cy="156.00" r="2.95" fill="#A5002B" stroke="none" stroke-width="1"/>
<circle cx="348.50" cy="158.60" r="2.95" fill="#A5002B" stroke="none" stroke-width="1"/>
<circle cx="351.30" cy="158.60" r="2.95" fill="#A5002B" stroke="none" stroke-width="1"/>
<circle cx="354.10" cy="158.60" r="2.95" fill="#A5002B" stroke="none" stroke-width="1"/>
<circle cx="356.90" cy="158.60" r="2.95" fill="#A5002B" stroke="none" stroke-width="1"/>
<circle cx="359.70" cy="158.60" r="2.95" fill="#A5002B" stroke="none" stroke-width="1"/>
<circle cx="362.50" cy="158.60" r="2.95" fill="#A5002B" stroke="none" stroke-width="1"/>
<circle cx="350.00" cy="160.50" r="2.95" fill="#A5002B" stroke="none" stroke-width="1"/>
<circle cx="352.75" cy="160.50" r="2.95" fill="#A5002B" stroke="none" stroke-width="1"/>
<circle cx="355.50" cy="160.50" r="2.95" fill="#A5002B" stroke="none" stroke-width="1"/>
<circle cx="358.25" cy="160.50" r="2.95" fill="#A5002B" stroke="none" stroke-width="1"/>
<circle cx="361.00" cy="160.50" r="2.95" fill="#A5002B" stroke="none" stroke-width="1"/>
<circle cx="352.50" cy="162.30" r="2.95" fill="#A5002B" stroke="none" stroke-width="1"/>
<circle cx="355.50" cy="162.30" r="2.95" fill="#A5002B" stroke="none" stroke-width="1"/>
<circle cx="358.50" cy="162.30" r="2.95" fill="#A5002B" stroke="none" stroke-width="1"/>
<circle cx="347.10" cy="165.50" r="2.95" fill="#A5002B" stroke="none" stroke-width="1"/>
<circle cx="351.40" cy="166.30" r="2.95" fill="#A5002B" stroke="none" stroke-width="1"/>
<circle cx="355.80" cy="168.10" r="2.95" fill="#A5002B" stroke="none" stroke-width="1"/>
<circle cx="360.10" cy="166.30" r="2.95" fill="#A5002B" stroke="none" stroke-width="1"/>
<circle cx="363.50" cy="165.00" r="2.95" fill="#A5002B" stroke="none" stroke-width="1"/>
<circle cx="353.20" cy="164.20" r="2.95" fill="#A5002B" stroke="none" stroke-width="1"/>
<circle cx="358.00" cy="164.00" r="2.95" fill="#A5002B" stroke="none" stroke-width="1"/>
<circle cx="350.00" cy="168.20" r="2.95" fill="#A5002B" stroke="none" stroke-width="1"/>
<circle cx="361.00" cy="168.20" r="2.95" fill="#A5002B" stroke="none" stroke-width="1"/>
<rect x="385.50" y="137.40" width="28.00" height="33.80" fill="none" stroke="#2B4A7D" stroke-width="1.0" />
<line x1="399.60" y1="133.40" x2="399.60" y2="141.40" stroke="#222" stroke-width="0.9" />
<line x1="392.30" y1="133.40" x2="406.90" y2="133.40" stroke="#222" stroke-width="0.9" />
<line x1="392.30" y1="141.40" x2="406.90" y2="141.40" stroke="#222" stroke-width="0.9" />
<path d="M399.60 78.40L402.80 81.60L399.60 84.80L396.40 81.60Z" fill="#2B4A7D"/>
<path d="M392.00 100.10L395.20 103.30L392.00 106.50L388.80 103.30Z" fill="#2B4A7D"/>
<path d="M399.60 104.70L402.80 107.90L399.60 111.10L396.40 107.90Z" fill="#2B4A7D"/>
<path d="M407.30 104.50L410.50 107.70L407.30 110.90L404.10 107.70Z" fill="#2B4A7D"/>
<path d="M388.50 110.40L391.70 113.60L388.50 116.80L385.30 113.60Z" fill="#2B4A7D"/>
<path d="M410.80 110.20L414.00 113.40L410.80 116.60L407.60 113.40Z" fill="#2B4A7D"/>
<path d="M394.30 113.90L397.50 117.10L394.30 120.30L391.10 117.10Z" fill="#2B4A7D"/>
<path d="M399.60 114.70L402.80 117.90L399.60 121.10L396.40 117.90Z" fill="#2B4A7D"/>
<path d="M405.40 113.80L408.60 117.00L405.40 120.20L402.20 117.00Z" fill="#2B4A7D"/>
<path d="M390.20 120.90L393.40 124.10L390.20 127.30L387.00 124.10Z" fill="#2B4A7D"/>
<path d="M395.70 119.00L398.90 122.20L395.70 125.40L392.50 122.20Z" fill="#2B4A7D"/>
<path d="M403.60 118.60L406.80 121.80L403.60 125.00L400.40 121.80Z" fill="#2B4A7D"/>
<path d="M408.60 119.90L411.80 123.10L408.60 126.30L405.40 123.10Z" fill="#2B4A7D"/>
<path d="M389.10 112.30L392.30 115.50L389.10 118.70L385.90 115.50Z" fill="#2B4A7D"/>
<path d="M400.20 114.80L403.40 118.00L400.20 121.20L397.00 118.00Z" fill="#2B4A7D"/>
<path d="M395.10 119.40L398.30 122.60L395.10 125.80L391.90 122.60Z" fill="#2B4A7D"/>
<path d="M404.20 118.80L407.40 122.00L404.20 125.20L401.00 122.00Z" fill="#2B4A7D"/>
<path d="M390.10 121.90L393.30 125.10L390.10 128.30L386.90 125.10Z" fill="#2B4A7D"/>
<path d="M393.10 123.40L396.30 126.60L393.10 129.80L389.90 126.60Z" fill="#2B4A7D"/>
<path d="M397.70 124.90L400.90 128.10L397.70 131.30L394.50 128.10Z" fill="#2B4A7D"/>
<path d="M401.70 123.40L404.90 126.60L401.70 129.80L398.50 126.60Z" fill="#2B4A7D"/>
<path d="M405.70 122.40L408.90 125.60L405.70 128.80L402.50 125.60Z" fill="#2B4A7D"/>
<path d="M409.30 120.40L412.50 123.60L409.30 126.80L406.10 123.60Z" fill="#2B4A7D"/>
<path d="M410.80 131.50L414.00 134.70L410.80 137.90L407.60 134.70Z" fill="#2B4A7D"/>
<path d="M388.60 134.50L391.80 137.70L388.60 140.90L385.40 137.70Z" fill="#2B4A7D"/>
<path d="M394.10 135.00L397.30 138.20L394.10 141.40L390.90 138.20Z" fill="#2B4A7D"/>
<path d="M399.70 136.50L402.90 139.70L399.70 142.90L396.50 139.70Z" fill="#2B4A7D"/>
<path d="M405.20 134.50L408.40 137.70L405.20 140.90L402.00 137.70Z" fill="#2B4A7D"/>
<path d="M396.60 139.50L399.80 142.70L396.60 145.90L393.40 142.70Z" fill="#2B4A7D"/>
<path d="M402.70 139.00L405.90 142.20L402.70 145.40L399.50 142.20Z" fill="#2B4A7D"/>
<path d="M389.10 141.60L392.30 144.80L389.10 148.00L385.90 144.80Z" fill="#2B4A7D"/>
<path d="M394.60 142.10L397.80 145.30L394.60 148.50L391.40 145.30Z" fill="#2B4A7D"/>
<path d="M399.70 146.10L402.90 149.30L399.70 152.50L396.50 149.30Z" fill="#2B4A7D"/>
<path d="M404.70 142.10L407.90 145.30L404.70 148.50L401.50 145.30Z" fill="#2B4A7D"/>
<path d="M410.30 141.60L413.50 144.80L410.30 148.00L407.10 144.80Z" fill="#2B4A7D"/>
<path d="M397.20 145.60L400.40 148.80L397.20 152.00L394.00 148.80Z" fill="#2B4A7D"/>
<path d="M402.20 145.60L405.40 148.80L402.20 152.00L399.00 148.80Z" fill="#2B4A7D"/>
<path d="M392.10 151.70L395.30 154.90L392.10 158.10L388.90 154.90Z" fill="#2B4A7D"/>
<path d="M407.20 150.10L410.40 153.30L407.20 156.50L404.00 153.30Z" fill="#2B4A7D"/>
<path d="M399.70 157.70L402.90 160.90L399.70 164.10L396.50 160.90Z" fill="#2B4A7D"/>
<path d="M392.10 163.30L395.30 166.50L392.10 169.70L388.90 166.50Z" fill="#2B4A7D"/>
<path d="M396.10 161.80L399.30 165.00L396.10 168.20L392.90 165.00Z" fill="#2B4A7D"/>
<path d="M403.70 161.80L406.90 165.00L403.70 168.20L400.50 165.00Z" fill="#2B4A7D"/>
<path d="M407.80 162.80L411.00 166.00L407.80 169.20L404.60 166.00Z" fill="#2B4A7D"/>
<path d="M399.70 164.30L402.90 167.50L399.70 170.70L396.50 167.50Z" fill="#2B4A7D"/>
<path d="M395.10 165.30L398.30 168.50L395.10 171.70L391.90 168.50Z" fill="#2B4A7D"/>
<path d="M398.20 166.80L401.40 170.00L398.20 173.20L395.00 170.00Z" fill="#2B4A7D"/>
<path d="M401.50 166.30L404.70 169.50L401.50 172.70L398.30 169.50Z" fill="#2B4A7D"/>
<rect x="429.75" y="151.00" width="28.30" height="20.20" fill="none" stroke="#69A83F" stroke-width="1.0" />
<line x1="443.90" y1="150.20" x2="443.90" y2="153.50" stroke="#444" stroke-width="0.8" />
<line x1="438.90" y1="150.20" x2="448.90" y2="150.20" stroke="#444" stroke-width="0.8" />
<line x1="438.90" y1="153.50" x2="448.90" y2="153.50" stroke="#444" stroke-width="0.8" />
<circle cx="443.90" cy="101.00" r="2.35" fill="none" stroke="#69A83F" stroke-width="0.95"/>
<circle cx="443.80" cy="133.80" r="2.35" fill="none" stroke="#69A83F" stroke-width="0.95"/>
<circle cx="432.80" cy="137.70" r="2.35" fill="none" stroke="#69A83F" stroke-width="0.95"/>
<circle cx="437.40" cy="140.60" r="2.35" fill="none" stroke="#69A83F" stroke-width="0.95"/>
<circle cx="441.20" cy="141.90" r="2.35" fill="none" stroke="#69A83F" stroke-width="0.95"/>
<circle cx="445.40" cy="141.90" r="2.35" fill="none" stroke="#69A83F" stroke-width="0.95"/>
<circle cx="449.20" cy="140.60" r="2.35" fill="none" stroke="#69A83F" stroke-width="0.95"/>
<circle cx="454.70" cy="136.40" r="2.35" fill="none" stroke="#69A83F" stroke-width="0.95"/>
<circle cx="432.40" cy="143.50" r="2.35" fill="none" stroke="#69A83F" stroke-width="0.95"/>
<circle cx="455.50" cy="145.60" r="2.35" fill="none" stroke="#69A83F" stroke-width="0.95"/>
<circle cx="434.00" cy="147.00" r="2.35" fill="none" stroke="#69A83F" stroke-width="0.95"/>
<circle cx="438.50" cy="147.80" r="2.35" fill="none" stroke="#69A83F" stroke-width="0.95"/>
<circle cx="443.70" cy="148.60" r="2.35" fill="none" stroke="#69A83F" stroke-width="0.95"/>
<circle cx="449.00" cy="147.80" r="2.35" fill="none" stroke="#69A83F" stroke-width="0.95"/>
<circle cx="455.00" cy="146.50" r="2.35" fill="none" stroke="#69A83F" stroke-width="0.95"/>
<circle cx="447.50" cy="162.50" r="2.35" fill="none" stroke="#69A83F" stroke-width="0.95"/>
<circle cx="433.20" cy="166.20" r="2.35" fill="none" stroke="#69A83F" stroke-width="0.95"/>
<circle cx="439.50" cy="164.60" r="2.35" fill="none" stroke="#69A83F" stroke-width="0.95"/>
<circle cx="454.30" cy="165.40" r="2.35" fill="none" stroke="#69A83F" stroke-width="0.95"/>
<circle cx="433.50" cy="169.50" r="2.35" fill="none" stroke="#69A83F" stroke-width="0.95"/>
<circle cx="437.50" cy="170.00" r="2.35" fill="none" stroke="#69A83F" stroke-width="0.95"/>
<circle cx="441.50" cy="170.50" r="2.35" fill="none" stroke="#69A83F" stroke-width="0.95"/>
<circle cx="445.50" cy="170.50" r="2.35" fill="none" stroke="#69A83F" stroke-width="0.95"/>
<circle cx="449.50" cy="170.00" r="2.35" fill="none" stroke="#69A83F" stroke-width="0.95"/>
<circle cx="453.50" cy="169.50" r="2.35" fill="none" stroke="#69A83F" stroke-width="0.95"/>
<circle cx="430.90" cy="149.50" r="2.35" fill="none" stroke="#69A83F" stroke-width="0.95"/>
<circle cx="434.61" cy="151.64" r="2.35" fill="none" stroke="#69A83F" stroke-width="0.95"/>
<circle cx="438.33" cy="153.79" r="2.35" fill="none" stroke="#69A83F" stroke-width="0.95"/>
<circle cx="442.04" cy="155.93" r="2.35" fill="none" stroke="#69A83F" stroke-width="0.95"/>
<circle cx="445.76" cy="155.93" r="2.35" fill="none" stroke="#69A83F" stroke-width="0.95"/>
<circle cx="449.47" cy="153.79" r="2.35" fill="none" stroke="#69A83F" stroke-width="0.95"/>
<circle cx="453.19" cy="151.64" r="2.35" fill="none" stroke="#69A83F" stroke-width="0.95"/>
<circle cx="456.90" cy="149.50" r="2.35" fill="none" stroke="#69A83F" stroke-width="0.95"/>
<circle cx="431.80" cy="151.50" r="2.35" fill="none" stroke="#69A83F" stroke-width="0.95"/>
<circle cx="435.51" cy="153.64" r="2.35" fill="none" stroke="#69A83F" stroke-width="0.95"/>
<circle cx="439.23" cy="155.79" r="2.35" fill="none" stroke="#69A83F" stroke-width="0.95"/>
<circle cx="442.94" cy="157.93" r="2.35" fill="none" stroke="#69A83F" stroke-width="0.95"/>
<circle cx="446.66" cy="157.93" r="2.35" fill="none" stroke="#69A83F" stroke-width="0.95"/>
<circle cx="450.37" cy="155.79" r="2.35" fill="none" stroke="#69A83F" stroke-width="0.95"/>
<circle cx="454.09" cy="153.64" r="2.35" fill="none" stroke="#69A83F" stroke-width="0.95"/>
<circle cx="457.80" cy="151.50" r="2.35" fill="none" stroke="#69A83F" stroke-width="0.95"/>
<rect x="474.35" y="154.60" width="27.70" height="16.60" fill="none" stroke="#542563" stroke-width="1.0" />
<line x1="488.20" y1="151.50" x2="488.20" y2="156.00" stroke="#222" stroke-width="0.8" />
<line x1="481.50" y1="151.50" x2="494.90" y2="151.50" stroke="#222" stroke-width="0.8" />
<line x1="481.50" y1="156.00" x2="494.90" y2="156.00" stroke="#222" stroke-width="0.8" />
<rect x="481.65" y="111.35" width="4.70" height="4.70" fill="none" stroke="#542563" stroke-width="1.0"/>
<rect x="489.55" y="109.55" width="4.70" height="4.70" fill="none" stroke="#542563" stroke-width="1.0"/>
<rect x="477.85" y="122.75" width="4.70" height="4.70" fill="none" stroke="#542563" stroke-width="1.0"/>
<rect x="485.65" y="123.85" width="4.70" height="4.70" fill="none" stroke="#542563" stroke-width="1.0"/>
<rect x="493.45" y="121.65" width="4.70" height="4.70" fill="none" stroke="#542563" stroke-width="1.0"/>
<rect x="496.85" y="129.25" width="4.70" height="4.70" fill="none" stroke="#542563" stroke-width="1.0"/>
<rect x="474.55" y="132.95" width="4.70" height="4.70" fill="none" stroke="#542563" stroke-width="1.0"/>
<rect x="481.75" y="134.45" width="4.70" height="4.70" fill="none" stroke="#542563" stroke-width="1.0"/>
<rect x="489.25" y="134.45" width="4.70" height="4.70" fill="none" stroke="#542563" stroke-width="1.0"/>
<rect x="474.45" y="144.15" width="4.70" height="4.70" fill="none" stroke="#542563" stroke-width="1.0"/>
<rect x="485.85" y="142.65" width="4.70" height="4.70" fill="none" stroke="#542563" stroke-width="1.0"/>
<rect x="496.85" y="144.15" width="4.70" height="4.70" fill="none" stroke="#542563" stroke-width="1.0"/>
<rect x="478.35" y="146.85" width="4.70" height="4.70" fill="none" stroke="#542563" stroke-width="1.0"/>
<rect x="491.85" y="146.45" width="4.70" height="4.70" fill="none" stroke="#542563" stroke-width="1.0"/>
<rect x="474.15" y="154.15" width="4.70" height="4.70" fill="none" stroke="#542563" stroke-width="1.0"/>
<rect x="484.45" y="153.45" width="4.70" height="4.70" fill="none" stroke="#542563" stroke-width="1.0"/>
<rect x="490.25" y="153.45" width="4.70" height="4.70" fill="none" stroke="#542563" stroke-width="1.0"/>
<rect x="497.15" y="154.15" width="4.70" height="4.70" fill="none" stroke="#542563" stroke-width="1.0"/>
<rect x="474.15" y="161.45" width="4.70" height="4.70" fill="none" stroke="#542563" stroke-width="1.0"/>
<rect x="478.65" y="163.65" width="4.70" height="4.70" fill="none" stroke="#542563" stroke-width="1.0"/>
<rect x="494.85" y="163.05" width="4.70" height="4.70" fill="none" stroke="#542563" stroke-width="1.0"/>
<rect x="484.85" y="164.65" width="4.70" height="4.70" fill="none" stroke="#542563" stroke-width="1.0"/>
<rect x="481.15" y="168.15" width="4.70" height="4.70" fill="none" stroke="#542563" stroke-width="1.0"/>
<rect x="485.15" y="168.95" width="4.70" height="4.70" fill="none" stroke="#542563" stroke-width="1.0"/>
<rect x="489.15" y="168.45" width="4.70" height="4.70" fill="none" stroke="#542563" stroke-width="1.0"/>
<rect x="486.65" y="166.45" width="4.70" height="4.70" fill="none" stroke="#542563" stroke-width="1.0"/>
<rect x="473.05" y="155.15" width="4.70" height="4.70" fill="none" stroke="#542563" stroke-width="1.0"/>
<rect x="476.71" y="157.60" width="4.70" height="4.70" fill="none" stroke="#542563" stroke-width="1.0"/>
<rect x="480.36" y="159.23" width="4.70" height="4.70" fill="none" stroke="#542563" stroke-width="1.0"/>
<rect x="484.02" y="160.05" width="4.70" height="4.70" fill="none" stroke="#542563" stroke-width="1.0"/>
<rect x="487.68" y="160.05" width="4.70" height="4.70" fill="none" stroke="#542563" stroke-width="1.0"/>
<rect x="491.34" y="159.23" width="4.70" height="4.70" fill="none" stroke="#542563" stroke-width="1.0"/>
<rect x="494.99" y="157.60" width="4.70" height="4.70" fill="none" stroke="#542563" stroke-width="1.0"/>
<rect x="498.65" y="155.15" width="4.70" height="4.70" fill="none" stroke="#542563" stroke-width="1.0"/>
<rect x="473.95" y="156.95" width="4.70" height="4.70" fill="none" stroke="#542563" stroke-width="1.0"/>
<rect x="477.61" y="159.40" width="4.70" height="4.70" fill="none" stroke="#542563" stroke-width="1.0"/>
<rect x="481.26" y="161.03" width="4.70" height="4.70" fill="none" stroke="#542563" stroke-width="1.0"/>
<rect x="484.92" y="161.85" width="4.70" height="4.70" fill="none" stroke="#542563" stroke-width="1.0"/>
<rect x="488.58" y="161.85" width="4.70" height="4.70" fill="none" stroke="#542563" stroke-width="1.0"/>
<rect x="492.24" y="161.03" width="4.70" height="4.70" fill="none" stroke="#542563" stroke-width="1.0"/>
<rect x="495.89" y="159.40" width="4.70" height="4.70" fill="none" stroke="#542563" stroke-width="1.0"/>
<rect x="499.55" y="156.95" width="4.70" height="4.70" fill="none" stroke="#542563" stroke-width="1.0"/>
<path d="M355.75 28.2V22.1H466.3V39.1" fill="none" stroke="#222" stroke-width="1.15"/>
<path d="M444.3 45.7V39.1H488V45.7" fill="none" stroke="#222" stroke-width="1.2"/>
<path d="M398 60.3V56.4H465.7V78.1" fill="none" stroke="#222" stroke-width="1.15"/>
<path d="M444.3 84.5V78.1H488V84.5" fill="none" stroke="#222" stroke-width="1.2"/>
<circle cx="406.10" cy="18.40" r="1.15" fill="#1a1a1a" stroke="none" stroke-width="1"/>
<circle cx="409.40" cy="18.40" r="1.15" fill="#1a1a1a" stroke="none" stroke-width="1"/>
<circle cx="412.70" cy="18.40" r="1.15" fill="#1a1a1a" stroke="none" stroke-width="1"/>
<circle cx="416.00" cy="18.40" r="1.15" fill="#1a1a1a" stroke="none" stroke-width="1"/>
<circle cx="430.35" cy="52.50" r="1.15" fill="#1a1a1a" stroke="none" stroke-width="1"/>
<circle cx="433.65" cy="52.50" r="1.15" fill="#1a1a1a" stroke="none" stroke-width="1"/>
<text x="304.00" y="108.00" font-size="9.2" text-anchor="middle" textLength="93.60" lengthAdjust="spacingAndGlyphs" transform="rotate(-90 304.00 108.00)" fill="#111" stroke="#111" stroke-width="0.16" >% KLS in bone marrow</text>
<text x="282.80" y="185.10" font-size="7.6" text-anchor="start" textLength="21.40" lengthAdjust="spacingAndGlyphs" fill="#111" stroke="#111" stroke-width="0.08" >ACK2</text>
<text x="282.80" y="197.30" font-size="7.6" text-anchor="start" textLength="30.70" lengthAdjust="spacingAndGlyphs" fill="#111" stroke="#111" stroke-width="0.08" >MIAP410</text>
<text x="355.50" y="185.10" font-size="7.6" text-anchor="middle" textLength="4.00" lengthAdjust="spacingAndGlyphs" fill="#111" stroke="#111" stroke-width="0.08" >0</text>
<text x="355.50" y="197.30" font-size="7.6" text-anchor="middle" textLength="4.00" lengthAdjust="spacingAndGlyphs" fill="#111" stroke="#111" stroke-width="0.08" >0</text>
<text x="399.60" y="185.10" font-size="7.6" text-anchor="middle" textLength="9.60" lengthAdjust="spacingAndGlyphs" fill="#111" stroke="#111" stroke-width="0.08" >2.5</text>
<text x="399.60" y="197.30" font-size="7.6" text-anchor="middle" textLength="4.00" lengthAdjust="spacingAndGlyphs" fill="#111" stroke="#111" stroke-width="0.08" >0</text>
<text x="443.90" y="185.10" font-size="7.6" text-anchor="middle" textLength="9.60" lengthAdjust="spacingAndGlyphs" fill="#111" stroke="#111" stroke-width="0.08" >2.5</text>
<text x="443.90" y="197.30" font-size="7.6" text-anchor="middle" textLength="9.60" lengthAdjust="spacingAndGlyphs" fill="#111" stroke="#111" stroke-width="0.08" >2.5</text>
<text x="488.20" y="185.10" font-size="7.6" text-anchor="middle" textLength="9.60" lengthAdjust="spacingAndGlyphs" fill="#111" stroke="#111" stroke-width="0.08" >2.5</text>
<text x="488.20" y="197.30" font-size="7.6" text-anchor="middle" textLength="4.00" lengthAdjust="spacingAndGlyphs" fill="#111" stroke="#111" stroke-width="0.08" >5</text>
<line x1="73.50" y1="235.00" x2="73.50" y2="348.55" stroke="#111" stroke-width="1.1" />
<line x1="70.20" y1="348.00" x2="73.50" y2="348.00" stroke="#111" stroke-width="1.0" />
<text x="67.20" y="350.75" font-size="8.4" text-anchor="end" textLength="4.40" lengthAdjust="spacingAndGlyphs" fill="#111" stroke="#111" stroke-width="0.08" >0</text>
<line x1="70.20" y1="292.85" x2="73.50" y2="292.85" stroke="#111" stroke-width="1.0" />
<text x="67.20" y="295.60" font-size="8.4" text-anchor="end" textLength="8.00" lengthAdjust="spacingAndGlyphs" fill="#111" stroke="#111" stroke-width="0.08" >50</text>
<line x1="70.20" y1="237.70" x2="73.50" y2="237.70" stroke="#111" stroke-width="1.0" />
<text x="67.20" y="240.45" font-size="8.4" text-anchor="end" textLength="11.70" lengthAdjust="spacingAndGlyphs" fill="#111" stroke="#111" stroke-width="0.08" >100</text>
<line x1="73.00" y1="348.00" x2="240.00" y2="348.00" stroke="#111" stroke-width="1.1" />
<line x1="99.00" y1="348.00" x2="99.00" y2="350.80" stroke="#111" stroke-width="1.0" />
<line x1="137.20" y1="348.00" x2="137.20" y2="350.80" stroke="#111" stroke-width="1.0" />
<line x1="175.70" y1="348.00" x2="175.70" y2="350.80" stroke="#111" stroke-width="1.0" />
<line x1="214.10" y1="348.00" x2="214.10" y2="350.80" stroke="#111" stroke-width="1.0" />
<rect x="87.15" y="255.90" width="23.70" height="92.10" fill="#A5002B" stroke="none" stroke-width="1" />
<rect x="125.35" y="238.58" width="23.70" height="109.42" fill="#2B4A7D" stroke="none" stroke-width="1" />
<rect x="163.85" y="238.58" width="23.70" height="109.42" fill="#69A83F" stroke="none" stroke-width="1" />
<rect x="202.25" y="245.64" width="23.70" height="102.36" fill="#542563" stroke="none" stroke-width="1" />
<text x="36.60" y="293.40" font-size="9" text-anchor="middle" textLength="52.20" lengthAdjust="spacingAndGlyphs" transform="rotate(-90 36.60 293.40)" fill="#111" stroke="#111" stroke-width="0.16" >Frequency of</text>
<text x="47.80" y="291.60" font-size="9" text-anchor="middle" textLength="65.00" lengthAdjust="spacingAndGlyphs" transform="rotate(-90 47.80 291.60)" fill="#111" stroke="#111" stroke-width="0.16" >engraftment (%)</text>
<text x="35.80" y="361.80" font-size="7.6" text-anchor="start" textLength="18.80" lengthAdjust="spacingAndGlyphs" fill="#111" stroke="#111" stroke-width="0.08" >ACK2</text>
<text x="35.80" y="373.80" font-size="7.6" text-anchor="start" textLength="30.20" lengthAdjust="spacingAndGlyphs" fill="#111" stroke="#111" stroke-width="0.08" >MIAP410</text>
<text x="99.00" y="361.80" font-size="7.6" text-anchor="middle" textLength="4.00" lengthAdjust="spacingAndGlyphs" fill="#111" stroke="#111" stroke-width="0.08" >0</text>
<text x="99.00" y="373.80" font-size="7.6" text-anchor="middle" textLength="4.00" lengthAdjust="spacingAndGlyphs" fill="#111" stroke="#111" stroke-width="0.08" >0</text>
<text x="137.20" y="361.80" font-size="7.6" text-anchor="middle" textLength="9.60" lengthAdjust="spacingAndGlyphs" fill="#111" stroke="#111" stroke-width="0.08" >2.5</text>
<text x="137.20" y="373.80" font-size="7.6" text-anchor="middle" textLength="4.00" lengthAdjust="spacingAndGlyphs" fill="#111" stroke="#111" stroke-width="0.08" >0</text>
<text x="175.70" y="361.80" font-size="7.6" text-anchor="middle" textLength="9.60" lengthAdjust="spacingAndGlyphs" fill="#111" stroke="#111" stroke-width="0.08" >2.5</text>
<text x="175.70" y="373.80" font-size="7.6" text-anchor="middle" textLength="9.60" lengthAdjust="spacingAndGlyphs" fill="#111" stroke="#111" stroke-width="0.08" >2.5</text>
<text x="214.10" y="361.80" font-size="7.6" text-anchor="middle" textLength="9.60" lengthAdjust="spacingAndGlyphs" fill="#111" stroke="#111" stroke-width="0.08" >2.5</text>
<text x="214.10" y="373.80" font-size="7.6" text-anchor="middle" textLength="4.00" lengthAdjust="spacingAndGlyphs" fill="#111" stroke="#111" stroke-width="0.08" >5</text>
<line x1="326.10" y1="225.40" x2="326.10" y2="349.10" stroke="#111" stroke-width="1.6" />
<line x1="322.80" y1="348.30" x2="326.10" y2="348.30" stroke="#111" stroke-width="1.0" />
<text x="319.80" y="351.05" font-size="8.4" text-anchor="end" textLength="4.40" lengthAdjust="spacingAndGlyphs" fill="#111" stroke="#111" stroke-width="0.08" >0</text>
<line x1="322.80" y1="318.30" x2="326.10" y2="318.30" stroke="#111" stroke-width="1.0" />
<text x="319.80" y="321.05" font-size="8.4" text-anchor="end" textLength="8.00" lengthAdjust="spacingAndGlyphs" fill="#111" stroke="#111" stroke-width="0.08" >10</text>
<line x1="322.80" y1="288.30" x2="326.10" y2="288.30" stroke="#111" stroke-width="1.0" />
<text x="319.80" y="291.05" font-size="8.4" text-anchor="end" textLength="8.00" lengthAdjust="spacingAndGlyphs" fill="#111" stroke="#111" stroke-width="0.08" >20</text>
<line x1="322.80" y1="258.30" x2="326.10" y2="258.30" stroke="#111" stroke-width="1.0" />
<text x="319.80" y="261.05" font-size="8.4" text-anchor="end" textLength="8.00" lengthAdjust="spacingAndGlyphs" fill="#111" stroke="#111" stroke-width="0.08" >30</text>
<line x1="322.80" y1="228.30" x2="326.10" y2="228.30" stroke="#111" stroke-width="1.0" />
<text x="319.80" y="231.05" font-size="8.4" text-anchor="end" textLength="8.00" lengthAdjust="spacingAndGlyphs" fill="#111" stroke="#111" stroke-width="0.08" >40</text>
<line x1="322.90" y1="348.30" x2="498.00" y2="348.30" stroke="#111" stroke-width="1.5" />
<line x1="341.20" y1="348.30" x2="341.20" y2="351.10" stroke="#111" stroke-width="1.0" />
<line x1="371.20" y1="348.30" x2="371.20" y2="351.10" stroke="#111" stroke-width="1.0" />
<line x1="401.30" y1="348.30" x2="401.30" y2="351.10" stroke="#111" stroke-width="1.0" />
<line x1="431.60" y1="348.30" x2="431.60" y2="351.10" stroke="#111" stroke-width="1.0" />
<line x1="461.70" y1="348.30" x2="461.70" y2="351.10" stroke="#111" stroke-width="1.0" />
<line x1="491.70" y1="348.30" x2="491.70" y2="351.10" stroke="#111" stroke-width="1.0" />
<text x="341.20" y="362.00" font-size="7.6" text-anchor="middle" textLength="4.00" lengthAdjust="spacingAndGlyphs" fill="#111" stroke="#111" stroke-width="0.08" >4</text>
<text x="371.20" y="362.00" font-size="7.6" text-anchor="middle" textLength="4.00" lengthAdjust="spacingAndGlyphs" fill="#111" stroke="#111" stroke-width="0.08" >8</text>
<text x="401.30" y="362.00" font-size="7.6" text-anchor="middle" textLength="8.00" lengthAdjust="spacingAndGlyphs" fill="#111" stroke="#111" stroke-width="0.08" >12</text>
<text x="431.60" y="362.00" font-size="7.6" text-anchor="middle" textLength="8.00" lengthAdjust="spacingAndGlyphs" fill="#111" stroke="#111" stroke-width="0.08" >16</text>
<text x="461.70" y="362.00" font-size="7.6" text-anchor="middle" textLength="8.00" lengthAdjust="spacingAndGlyphs" fill="#111" stroke="#111" stroke-width="0.08" >20</text>
<text x="491.70" y="362.00" font-size="7.6" text-anchor="middle" textLength="8.00" lengthAdjust="spacingAndGlyphs" fill="#111" stroke="#111" stroke-width="0.08" >24</text>
<text x="403.50" y="375.80" font-size="9.4" text-anchor="start" textLength="26.10" lengthAdjust="spacingAndGlyphs" fill="#111" stroke="#111" stroke-width="0.16" >Weeks</text>
<text x="304.00" y="287.40" font-size="8.9" text-anchor="middle" textLength="64.80" lengthAdjust="spacingAndGlyphs" transform="rotate(-90 304.00 287.40)" fill="#111" stroke="#111" stroke-width="0.16" >% CD45.1+ cells</text>
<line x1="341.20" y1="333.30" x2="341.20" y2="339.30" stroke="#A5002B" stroke-width="1.0" />
<line x1="338.80" y1="333.30" x2="343.60" y2="333.30" stroke="#A5002B" stroke-width="1.0" />
<line x1="338.80" y1="339.30" x2="343.60" y2="339.30" stroke="#A5002B" stroke-width="1.0" />
<line x1="371.20" y1="327.00" x2="371.20" y2="333.00" stroke="#A5002B" stroke-width="1.0" />
<line x1="368.80" y1="327.00" x2="373.60" y2="327.00" stroke="#A5002B" stroke-width="1.0" />
<line x1="368.80" y1="333.00" x2="373.60" y2="333.00" stroke="#A5002B" stroke-width="1.0" />
<line x1="401.30" y1="326.10" x2="401.30" y2="332.10" stroke="#A5002B" stroke-width="1.0" />
<line x1="398.90" y1="326.10" x2="403.70" y2="326.10" stroke="#A5002B" stroke-width="1.0" />
<line x1="398.90" y1="332.10" x2="403.70" y2="332.10" stroke="#A5002B" stroke-width="1.0" />
<line x1="431.60" y1="325.20" x2="431.60" y2="331.80" stroke="#A5002B" stroke-width="1.0" />
<line x1="429.20" y1="325.20" x2="434.00" y2="325.20" stroke="#A5002B" stroke-width="1.0" />
<line x1="429.20" y1="331.80" x2="434.00" y2="331.80" stroke="#A5002B" stroke-width="1.0" />
<line x1="461.70" y1="324.00" x2="461.70" y2="330.00" stroke="#A5002B" stroke-width="1.0" />
<line x1="459.30" y1="324.00" x2="464.10" y2="324.00" stroke="#A5002B" stroke-width="1.0" />
<line x1="459.30" y1="330.00" x2="464.10" y2="330.00" stroke="#A5002B" stroke-width="1.0" />
<line x1="491.70" y1="327.90" x2="491.70" y2="333.30" stroke="#A5002B" stroke-width="1.0" />
<line x1="489.30" y1="327.90" x2="494.10" y2="327.90" stroke="#A5002B" stroke-width="1.0" />
<line x1="489.30" y1="333.30" x2="494.10" y2="333.30" stroke="#A5002B" stroke-width="1.0" />
<polyline points="341.20,336.30 371.20,330.00 401.30,329.10 431.60,328.50 461.70,327.00 491.70,330.60" fill="none" stroke="#A5002B" stroke-width="1.6" stroke-dasharray="none"/>
<circle cx="341.20" cy="336.30" r="2.60" fill="#A5002B" stroke="none" stroke-width="1"/>
<circle cx="371.20" cy="330.00" r="2.60" fill="#A5002B" stroke="none" stroke-width="1"/>
<circle cx="401.30" cy="329.10" r="2.60" fill="#A5002B" stroke="none" stroke-width="1"/>
<circle cx="431.60" cy="328.50" r="2.60" fill="#A5002B" stroke="none" stroke-width="1"/>
<circle cx="461.70" cy="327.00" r="2.60" fill="#A5002B" stroke="none" stroke-width="1"/>
<circle cx="491.70" cy="330.60" r="2.60" fill="#A5002B" stroke="none" stroke-width="1"/>
<line x1="341.20" y1="312.30" x2="341.20" y2="321.30" stroke="#542563" stroke-width="1.0" />
<line x1="338.80" y1="312.30" x2="343.60" y2="312.30" stroke="#542563" stroke-width="1.0" />
<line x1="338.80" y1="321.30" x2="343.60" y2="321.30" stroke="#542563" stroke-width="1.0" />
<line x1="371.20" y1="270.90" x2="371.20" y2="292.50" stroke="#542563" stroke-width="1.0" />
<line x1="368.80" y1="270.90" x2="373.60" y2="270.90" stroke="#542563" stroke-width="1.0" />
<line x1="368.80" y1="292.50" x2="373.60" y2="292.50" stroke="#542563" stroke-width="1.0" />
<line x1="401.30" y1="252.00" x2="401.30" y2="280.80" stroke="#542563" stroke-width="1.0" />
<line x1="398.90" y1="252.00" x2="403.70" y2="252.00" stroke="#542563" stroke-width="1.0" />
<line x1="398.90" y1="280.80" x2="403.70" y2="280.80" stroke="#542563" stroke-width="1.0" />
<line x1="431.60" y1="262.50" x2="431.60" y2="285.30" stroke="#542563" stroke-width="1.0" />
<line x1="429.20" y1="262.50" x2="434.00" y2="262.50" stroke="#542563" stroke-width="1.0" />
<line x1="429.20" y1="285.30" x2="434.00" y2="285.30" stroke="#542563" stroke-width="1.0" />
<line x1="461.70" y1="257.40" x2="461.70" y2="280.80" stroke="#542563" stroke-width="1.0" />
<line x1="459.30" y1="257.40" x2="464.10" y2="257.40" stroke="#542563" stroke-width="1.0" />
<line x1="459.30" y1="280.80" x2="464.10" y2="280.80" stroke="#542563" stroke-width="1.0" />
<line x1="491.70" y1="263.10" x2="491.70" y2="287.10" stroke="#542563" stroke-width="1.0" />
<line x1="489.30" y1="263.10" x2="494.10" y2="263.10" stroke="#542563" stroke-width="1.0" />
<line x1="489.30" y1="287.10" x2="494.10" y2="287.10" stroke="#542563" stroke-width="1.0" />
<polyline points="341.20,316.80 371.20,281.70 401.30,266.40 431.60,273.90 461.70,269.10 491.70,275.10" fill="none" stroke="#542563" stroke-width="1.4" stroke-dasharray="5 1.6 1.4 1.6"/>
<rect x="338.60" y="314.20" width="5.20" height="5.20" fill="none" stroke="#542563" stroke-width="1.0"/>
<rect x="368.60" y="279.10" width="5.20" height="5.20" fill="none" stroke="#542563" stroke-width="1.0"/>
<rect x="398.70" y="263.80" width="5.20" height="5.20" fill="none" stroke="#542563" stroke-width="1.0"/>
<rect x="429.00" y="271.30" width="5.20" height="5.20" fill="none" stroke="#542563" stroke-width="1.0"/>
<rect x="459.10" y="266.50" width="5.20" height="5.20" fill="none" stroke="#542563" stroke-width="1.0"/>
<rect x="489.10" y="272.50" width="5.20" height="5.20" fill="none" stroke="#542563" stroke-width="1.0"/>
<line x1="341.20" y1="313.80" x2="341.20" y2="322.80" stroke="#69A83F" stroke-width="1.0" />
<line x1="338.80" y1="313.80" x2="343.60" y2="313.80" stroke="#69A83F" stroke-width="1.0" />
<line x1="338.80" y1="322.80" x2="343.60" y2="322.80" stroke="#69A83F" stroke-width="1.0" />
<line x1="371.20" y1="297.00" x2="371.20" y2="310.80" stroke="#69A83F" stroke-width="1.0" />
<line x1="368.80" y1="297.00" x2="373.60" y2="297.00" stroke="#69A83F" stroke-width="1.0" />
<line x1="368.80" y1="310.80" x2="373.60" y2="310.80" stroke="#69A83F" stroke-width="1.0" />
<line x1="401.30" y1="292.80" x2="401.30" y2="307.20" stroke="#69A83F" stroke-width="1.0" />
<line x1="398.90" y1="292.80" x2="403.70" y2="292.80" stroke="#69A83F" stroke-width="1.0" />
<line x1="398.90" y1="307.20" x2="403.70" y2="307.20" stroke="#69A83F" stroke-width="1.0" />
<line x1="431.60" y1="296.70" x2="431.60" y2="313.50" stroke="#69A83F" stroke-width="1.0" />
<line x1="429.20" y1="296.70" x2="434.00" y2="296.70" stroke="#69A83F" stroke-width="1.0" />
<line x1="429.20" y1="313.50" x2="434.00" y2="313.50" stroke="#69A83F" stroke-width="1.0" />
<line x1="461.70" y1="302.70" x2="461.70" y2="317.70" stroke="#69A83F" stroke-width="1.0" />
<line x1="459.30" y1="302.70" x2="464.10" y2="302.70" stroke="#69A83F" stroke-width="1.0" />
<line x1="459.30" y1="317.70" x2="464.10" y2="317.70" stroke="#69A83F" stroke-width="1.0" />
<line x1="491.70" y1="302.70" x2="491.70" y2="317.10" stroke="#69A83F" stroke-width="1.0" />
<line x1="489.30" y1="302.70" x2="494.10" y2="302.70" stroke="#69A83F" stroke-width="1.0" />
<line x1="489.30" y1="317.10" x2="494.10" y2="317.10" stroke="#69A83F" stroke-width="1.0" />
<polyline points="341.20,318.30 371.20,303.90 401.30,300.00 431.60,305.10 461.70,310.20 491.70,309.90" fill="none" stroke="#69A83F" stroke-width="1.4" stroke-dasharray="3.2 1.8"/>
<circle cx="341.20" cy="318.30" r="2.40" fill="none" stroke="#69A83F" stroke-width="1.0"/>
<circle cx="371.20" cy="303.90" r="2.40" fill="none" stroke="#69A83F" stroke-width="1.0"/>
<circle cx="401.30" cy="300.00" r="2.40" fill="none" stroke="#69A83F" stroke-width="1.0"/>
<circle cx="431.60" cy="305.10" r="2.40" fill="none" stroke="#69A83F" stroke-width="1.0"/>
<circle cx="461.70" cy="310.20" r="2.40" fill="none" stroke="#69A83F" stroke-width="1.0"/>
<circle cx="491.70" cy="309.90" r="2.40" fill="none" stroke="#69A83F" stroke-width="1.0"/>
<line x1="341.20" y1="325.20" x2="341.20" y2="332.40" stroke="#2B4A7D" stroke-width="1.0" />
<line x1="338.80" y1="325.20" x2="343.60" y2="325.20" stroke="#2B4A7D" stroke-width="1.0" />
<line x1="338.80" y1="332.40" x2="343.60" y2="332.40" stroke="#2B4A7D" stroke-width="1.0" />
<line x1="371.20" y1="303.60" x2="371.20" y2="315.60" stroke="#2B4A7D" stroke-width="1.0" />
<line x1="368.80" y1="303.60" x2="373.60" y2="303.60" stroke="#2B4A7D" stroke-width="1.0" />
<line x1="368.80" y1="315.60" x2="373.60" y2="315.60" stroke="#2B4A7D" stroke-width="1.0" />
<line x1="401.30" y1="299.40" x2="401.30" y2="312.00" stroke="#2B4A7D" stroke-width="1.0" />
<line x1="398.90" y1="299.40" x2="403.70" y2="299.40" stroke="#2B4A7D" stroke-width="1.0" />
<line x1="398.90" y1="312.00" x2="403.70" y2="312.00" stroke="#2B4A7D" stroke-width="1.0" />
<line x1="431.60" y1="296.70" x2="431.60" y2="312.30" stroke="#2B4A7D" stroke-width="1.0" />
<line x1="429.20" y1="296.70" x2="434.00" y2="296.70" stroke="#2B4A7D" stroke-width="1.0" />
<line x1="429.20" y1="312.30" x2="434.00" y2="312.30" stroke="#2B4A7D" stroke-width="1.0" />
<line x1="461.70" y1="303.30" x2="461.70" y2="317.70" stroke="#2B4A7D" stroke-width="1.0" />
<line x1="459.30" y1="303.30" x2="464.10" y2="303.30" stroke="#2B4A7D" stroke-width="1.0" />
<line x1="459.30" y1="317.70" x2="464.10" y2="317.70" stroke="#2B4A7D" stroke-width="1.0" />
<line x1="491.70" y1="306.90" x2="491.70" y2="320.70" stroke="#2B4A7D" stroke-width="1.0" />
<line x1="489.30" y1="306.90" x2="494.10" y2="306.90" stroke="#2B4A7D" stroke-width="1.0" />
<line x1="489.30" y1="320.70" x2="494.10" y2="320.70" stroke="#2B4A7D" stroke-width="1.0" />
<polyline points="341.20,328.80 371.20,309.60 401.30,305.70 431.60,304.50 461.70,310.50 491.70,313.80" fill="none" stroke="#2B4A7D" stroke-width="1.35" stroke-dasharray="1.1 1.3"/>
<path d="M341.20 326.50L343.50 328.80L341.20 331.10L338.90 328.80Z" fill="#2B4A7D"/>
<path d="M371.20 307.30L373.50 309.60L371.20 311.90L368.90 309.60Z" fill="#2B4A7D"/>
<path d="M401.30 303.40L403.60 305.70L401.30 308.00L399.00 305.70Z" fill="#2B4A7D"/>
<path d="M431.60 302.20L433.90 304.50L431.60 306.80L429.30 304.50Z" fill="#2B4A7D"/>
<path d="M461.70 308.20L464.00 310.50L461.70 312.80L459.40 310.50Z" fill="#2B4A7D"/>
<path d="M491.70 311.50L494.00 313.80L491.70 316.10L489.40 313.80Z" fill="#2B4A7D"/>
<circle cx="366.55" cy="267.20" r="0.92" fill="#1a1a1a" stroke="none" stroke-width="1"/>
<circle cx="369.65" cy="267.20" r="0.92" fill="#1a1a1a" stroke="none" stroke-width="1"/>
<circle cx="372.75" cy="267.20" r="0.92" fill="#1a1a1a" stroke="none" stroke-width="1"/>
<circle cx="375.85" cy="267.20" r="0.92" fill="#1a1a1a" stroke="none" stroke-width="1"/>
<circle cx="396.65" cy="248.30" r="0.92" fill="#1a1a1a" stroke="none" stroke-width="1"/>
<circle cx="399.75" cy="248.30" r="0.92" fill="#1a1a1a" stroke="none" stroke-width="1"/>
<circle cx="402.85" cy="248.30" r="0.92" fill="#1a1a1a" stroke="none" stroke-width="1"/>
<circle cx="405.95" cy="248.30" r="0.92" fill="#1a1a1a" stroke="none" stroke-width="1"/>
<circle cx="426.95" cy="258.80" r="0.92" fill="#1a1a1a" stroke="none" stroke-width="1"/>
<circle cx="430.05" cy="258.80" r="0.92" fill="#1a1a1a" stroke="none" stroke-width="1"/>
<circle cx="433.15" cy="258.80" r="0.92" fill="#1a1a1a" stroke="none" stroke-width="1"/>
<circle cx="436.25" cy="258.80" r="0.92" fill="#1a1a1a" stroke="none" stroke-width="1"/>
<circle cx="457.05" cy="253.70" r="0.92" fill="#1a1a1a" stroke="none" stroke-width="1"/>
<circle cx="460.15" cy="253.70" r="0.92" fill="#1a1a1a" stroke="none" stroke-width="1"/>
<circle cx="463.25" cy="253.70" r="0.92" fill="#1a1a1a" stroke="none" stroke-width="1"/>
<circle cx="466.35" cy="253.70" r="0.92" fill="#1a1a1a" stroke="none" stroke-width="1"/>
<circle cx="487.05" cy="259.40" r="0.92" fill="#1a1a1a" stroke="none" stroke-width="1"/>
<circle cx="490.15" cy="259.40" r="0.92" fill="#1a1a1a" stroke="none" stroke-width="1"/>
<circle cx="493.25" cy="259.40" r="0.92" fill="#1a1a1a" stroke="none" stroke-width="1"/>
<circle cx="496.35" cy="259.40" r="0.92" fill="#1a1a1a" stroke="none" stroke-width="1"/>
<line x1="330" y1="217.7" x2="346.3" y2="217.7" stroke="#542563" stroke-width="1.5" stroke-dasharray="5 1.6 1.4 1.6"/>
<rect x="336.05" y="215.05" width="5.30" height="5.30" fill="#fff" stroke="#542563" stroke-width="1.05"/>
<text x="349.90" y="220.40" font-size="7.6" text-anchor="start" textLength="78.50" lengthAdjust="spacingAndGlyphs" fill="#111" stroke="#111" stroke-width="0.08" >2.5 ug ACK2 + 5 ug CD47</text>
<line x1="330" y1="229.2" x2="346.3" y2="229.2" stroke="#69A83F" stroke-width="1.5" stroke-dasharray="3.2 1.8"/>
<circle cx="338.70" cy="229.20" r="2.60" fill="#fff" stroke="#69A83F" stroke-width="1.05"/>
<text x="349.90" y="231.90" font-size="7.6" text-anchor="start" textLength="83.60" lengthAdjust="spacingAndGlyphs" fill="#111" stroke="#111" stroke-width="0.08" >2.5 ug ACK2 + 2.5 ug CD47</text>
<line x1="330" y1="240.3" x2="346.3" y2="240.3" stroke="#2B4A7D" stroke-width="1.5" stroke-dasharray="1.1 1.3"/>
<path d="M338.70 237.80L341.20 240.30L338.70 242.80L336.20 240.30Z" fill="#2B4A7D"/>
<text x="349.90" y="243.00" font-size="7.6" text-anchor="start" textLength="37.40" lengthAdjust="spacingAndGlyphs" fill="#111" stroke="#111" stroke-width="0.08" >2.5 ug ACK2</text>
<line x1="330" y1="251.4" x2="346.3" y2="251.4" stroke="#A5002B" stroke-width="1.9" stroke-dasharray="none"/>
<circle cx="338.70" cy="251.40" r="2.70" fill="#A5002B" stroke="none" stroke-width="1"/>
<text x="349.90" y="254.10" font-size="7.6" text-anchor="start" textLength="23.10" lengthAdjust="spacingAndGlyphs" fill="#111" stroke="#111" stroke-width="0.08" >Control</text>
<line x1="73.50" y1="435.20" x2="73.50" y2="558.95" stroke="#111" stroke-width="1.1" />
<line x1="70.20" y1="558.40" x2="73.50" y2="558.40" stroke="#111" stroke-width="1.0" />
<text x="67.20" y="561.15" font-size="8.4" text-anchor="end" textLength="4.40" lengthAdjust="spacingAndGlyphs" fill="#111" stroke="#111" stroke-width="0.08" >0</text>
<line x1="70.20" y1="534.30" x2="73.50" y2="534.30" stroke="#111" stroke-width="1.0" />
<text x="67.20" y="537.05" font-size="8.4" text-anchor="end" textLength="8.00" lengthAdjust="spacingAndGlyphs" fill="#111" stroke="#111" stroke-width="0.08" >10</text>
<line x1="70.20" y1="510.20" x2="73.50" y2="510.20" stroke="#111" stroke-width="1.0" />
<text x="67.20" y="512.95" font-size="8.4" text-anchor="end" textLength="8.00" lengthAdjust="spacingAndGlyphs" fill="#111" stroke="#111" stroke-width="0.08" >20</text>
<line x1="70.20" y1="486.10" x2="73.50" y2="486.10" stroke="#111" stroke-width="1.0" />
<text x="67.20" y="488.85" font-size="8.4" text-anchor="end" textLength="8.00" lengthAdjust="spacingAndGlyphs" fill="#111" stroke="#111" stroke-width="0.08" >30</text>
<line x1="70.20" y1="462.00" x2="73.50" y2="462.00" stroke="#111" stroke-width="1.0" />
<text x="67.20" y="464.75" font-size="8.4" text-anchor="end" textLength="8.00" lengthAdjust="spacingAndGlyphs" fill="#111" stroke="#111" stroke-width="0.08" >40</text>
<line x1="70.20" y1="437.90" x2="73.50" y2="437.90" stroke="#111" stroke-width="1.0" />
<text x="67.20" y="440.65" font-size="8.4" text-anchor="end" textLength="8.00" lengthAdjust="spacingAndGlyphs" fill="#111" stroke="#111" stroke-width="0.08" >50</text>
<line x1="70.10" y1="558.40" x2="245.00" y2="558.40" stroke="#111" stroke-width="1.1" />
<line x1="101.20" y1="558.40" x2="101.20" y2="561.20" stroke="#111" stroke-width="1.0" />
<line x1="142.50" y1="558.40" x2="142.50" y2="561.20" stroke="#111" stroke-width="1.0" />
<line x1="184.20" y1="558.40" x2="184.20" y2="561.20" stroke="#111" stroke-width="1.0" />
<line x1="225.60" y1="558.40" x2="225.60" y2="561.20" stroke="#111" stroke-width="1.0" />
<text x="51.40" y="496.00" font-size="8.6" text-anchor="middle" textLength="80.60" lengthAdjust="spacingAndGlyphs" transform="rotate(-90 51.40 496.00)" fill="#111" stroke="#111" stroke-width="0.16" >% CD45.1+ KLS cells</text>
<text x="50.00" y="572.20" font-size="7.6" text-anchor="start" textLength="18.30" lengthAdjust="spacingAndGlyphs" fill="#111" stroke="#111" stroke-width="0.08" >ACK2</text>
<text x="50.00" y="584.20" font-size="7.6" text-anchor="start" textLength="30.50" lengthAdjust="spacingAndGlyphs" fill="#111" stroke="#111" stroke-width="0.08" >MIAP410</text>
<text x="101.20" y="572.20" font-size="7.6" text-anchor="middle" textLength="4.00" lengthAdjust="spacingAndGlyphs" fill="#111" stroke="#111" stroke-width="0.08" >0</text>
<text x="101.20" y="584.20" font-size="7.6" text-anchor="middle" textLength="4.00" lengthAdjust="spacingAndGlyphs" fill="#111" stroke="#111" stroke-width="0.08" >0</text>
<text x="142.50" y="572.20" font-size="7.6" text-anchor="middle" textLength="9.60" lengthAdjust="spacingAndGlyphs" fill="#111" stroke="#111" stroke-width="0.08" >2.5</text>
<text x="142.50" y="584.20" font-size="7.6" text-anchor="middle" textLength="4.00" lengthAdjust="spacingAndGlyphs" fill="#111" stroke="#111" stroke-width="0.08" >0</text>
<text x="184.20" y="572.20" font-size="7.6" text-anchor="middle" textLength="9.60" lengthAdjust="spacingAndGlyphs" fill="#111" stroke="#111" stroke-width="0.08" >2.5</text>
<text x="184.20" y="584.20" font-size="7.6" text-anchor="middle" textLength="9.60" lengthAdjust="spacingAndGlyphs" fill="#111" stroke="#111" stroke-width="0.08" >2.5</text>
<text x="225.60" y="572.20" font-size="7.6" text-anchor="middle" textLength="9.60" lengthAdjust="spacingAndGlyphs" fill="#111" stroke="#111" stroke-width="0.08" >2.5</text>
<text x="225.60" y="584.20" font-size="7.6" text-anchor="middle" textLength="4.00" lengthAdjust="spacingAndGlyphs" fill="#111" stroke="#111" stroke-width="0.08" >5</text>
<rect x="88.00" y="550.30" width="26.80" height="8.10" fill="none" stroke="#A5002B" stroke-width="0.9" />
<circle cx="93.40" cy="537.50" r="2.00" fill="#A5002B" stroke="none" stroke-width="1"/>
<circle cx="108.10" cy="538.00" r="2.00" fill="#A5002B" stroke="none" stroke-width="1"/>
<circle cx="91.70" cy="542.70" r="2.00" fill="#A5002B" stroke="none" stroke-width="1"/>
<circle cx="95.60" cy="541.00" r="2.00" fill="#A5002B" stroke="none" stroke-width="1"/>
<circle cx="97.70" cy="543.20" r="2.00" fill="#A5002B" stroke="none" stroke-width="1"/>
<circle cx="100.30" cy="545.30" r="2.00" fill="#A5002B" stroke="none" stroke-width="1"/>
<circle cx="102.90" cy="543.60" r="2.00" fill="#A5002B" stroke="none" stroke-width="1"/>
<circle cx="105.10" cy="541.90" r="2.00" fill="#A5002B" stroke="none" stroke-width="1"/>
<circle cx="110.30" cy="543.20" r="2.00" fill="#A5002B" stroke="none" stroke-width="1"/>
<circle cx="107.50" cy="544.50" r="2.00" fill="#A5002B" stroke="none" stroke-width="1"/>
<circle cx="99.00" cy="544.50" r="2.00" fill="#A5002B" stroke="none" stroke-width="1"/>
<circle cx="90.80" cy="551.00" r="2.00" fill="#A5002B" stroke="none" stroke-width="1"/>
<circle cx="93.00" cy="553.10" r="2.00" fill="#A5002B" stroke="none" stroke-width="1"/>
<circle cx="96.00" cy="554.80" r="2.00" fill="#A5002B" stroke="none" stroke-width="1"/>
<circle cx="99.50" cy="556.60" r="2.00" fill="#A5002B" stroke="none" stroke-width="1"/>
<circle cx="101.60" cy="558.30" r="2.00" fill="#A5002B" stroke="none" stroke-width="1"/>
<circle cx="103.80" cy="556.60" r="2.00" fill="#A5002B" stroke="none" stroke-width="1"/>
<circle cx="106.80" cy="554.80" r="2.00" fill="#A5002B" stroke="none" stroke-width="1"/>
<circle cx="109.80" cy="553.50" r="2.00" fill="#A5002B" stroke="none" stroke-width="1"/>
<circle cx="112.90" cy="553.50" r="2.00" fill="#A5002B" stroke="none" stroke-width="1"/>
<circle cx="92.00" cy="552.00" r="2.00" fill="#A5002B" stroke="none" stroke-width="1"/>
<circle cx="111.50" cy="552.50" r="2.00" fill="#A5002B" stroke="none" stroke-width="1"/>
<circle cx="94.00" cy="540.00" r="2.00" fill="#A5002B" stroke="none" stroke-width="1"/>
<circle cx="96.50" cy="542.50" r="2.00" fill="#A5002B" stroke="none" stroke-width="1"/>
<circle cx="99.00" cy="544.80" r="2.00" fill="#A5002B" stroke="none" stroke-width="1"/>
<circle cx="101.50" cy="545.50" r="2.00" fill="#A5002B" stroke="none" stroke-width="1"/>
<circle cx="104.00" cy="543.50" r="2.00" fill="#A5002B" stroke="none" stroke-width="1"/>
<circle cx="106.50" cy="541.50" r="2.00" fill="#A5002B" stroke="none" stroke-width="1"/>
<circle cx="108.50" cy="540.50" r="2.00" fill="#A5002B" stroke="none" stroke-width="1"/>
<circle cx="92.50" cy="540.50" r="2.00" fill="#A5002B" stroke="none" stroke-width="1"/>
<circle cx="110.50" cy="541.00" r="2.00" fill="#A5002B" stroke="none" stroke-width="1"/>
<circle cx="97.00" cy="545.00" r="2.00" fill="#A5002B" stroke="none" stroke-width="1"/>
<circle cx="103.00" cy="546.00" r="2.00" fill="#A5002B" stroke="none" stroke-width="1"/>
<circle cx="91.50" cy="552.50" r="2.00" fill="#A5002B" stroke="none" stroke-width="1"/>
<circle cx="94.50" cy="554.50" r="2.00" fill="#A5002B" stroke="none" stroke-width="1"/>
<circle cx="97.50" cy="556.00" r="2.00" fill="#A5002B" stroke="none" stroke-width="1"/>
<circle cx="100.50" cy="557.50" r="2.00" fill="#A5002B" stroke="none" stroke-width="1"/>
<circle cx="102.50" cy="557.80" r="2.00" fill="#A5002B" stroke="none" stroke-width="1"/>
<circle cx="105.50" cy="556.00" r="2.00" fill="#A5002B" stroke="none" stroke-width="1"/>
<circle cx="108.50" cy="554.50" r="2.00" fill="#A5002B" stroke="none" stroke-width="1"/>
<circle cx="111.50" cy="553.00" r="2.00" fill="#A5002B" stroke="none" stroke-width="1"/>
<circle cx="89.80" cy="550.00" r="2.00" fill="#A5002B" stroke="none" stroke-width="1"/>
<circle cx="113.50" cy="552.00" r="2.00" fill="#A5002B" stroke="none" stroke-width="1"/>
<line x1="101.00" y1="547.90" x2="101.00" y2="551.20" stroke="#222" stroke-width="0.8" />
<line x1="94.30" y1="547.90" x2="107.70" y2="547.90" stroke="#222" stroke-width="0.8" />
<line x1="94.30" y1="551.20" x2="107.70" y2="551.20" stroke="#222" stroke-width="0.8" />
<rect x="129.30" y="543.30" width="26.20" height="15.10" fill="none" stroke="#2B4A7D" stroke-width="0.9" />
<line x1="142.70" y1="539.20" x2="142.70" y2="545.30" stroke="#222" stroke-width="0.8" />
<line x1="136.00" y1="539.20" x2="149.40" y2="539.20" stroke="#222" stroke-width="0.8" />
<line x1="136.00" y1="545.30" x2="149.40" y2="545.30" stroke="#222" stroke-width="0.8" />
<path d="M135.40 519.00L137.90 521.50L135.40 524.00L132.90 521.50Z" fill="#2B4A7D"/>
<path d="M142.50 522.00L145.00 524.50L142.50 527.00L140.00 524.50Z" fill="#2B4A7D"/>
<path d="M149.80 519.00L152.30 521.50L149.80 524.00L147.30 521.50Z" fill="#2B4A7D"/>
<path d="M138.90 535.90L141.40 538.40L138.90 540.90L136.40 538.40Z" fill="#2B4A7D"/>
<path d="M146.40 535.90L148.90 538.40L146.40 540.90L143.90 538.40Z" fill="#2B4A7D"/>
<path d="M132.10 539.30L134.60 541.80L132.10 544.30L129.60 541.80Z" fill="#2B4A7D"/>
<path d="M137.30 540.60L139.80 543.10L137.30 545.60L134.80 543.10Z" fill="#2B4A7D"/>
<path d="M147.70 540.60L150.20 543.10L147.70 545.60L145.20 543.10Z" fill="#2B4A7D"/>
<path d="M152.90 539.30L155.40 541.80L152.90 544.30L150.40 541.80Z" fill="#2B4A7D"/>
<path d="M142.50 544.10L145.00 546.60L142.50 549.10L140.00 546.60Z" fill="#2B4A7D"/>
<path d="M132.10 549.30L134.60 551.80L132.10 554.30L129.60 551.80Z" fill="#2B4A7D"/>
<path d="M152.90 549.30L155.40 551.80L152.90 554.30L150.40 551.80Z" fill="#2B4A7D"/>
<path d="M137.30 553.80L139.80 556.30L137.30 558.80L134.80 556.30Z" fill="#2B4A7D"/>
<path d="M142.50 555.10L145.00 557.60L142.50 560.10L140.00 557.60Z" fill="#2B4A7D"/>
<path d="M147.70 553.80L150.20 556.30L147.70 558.80L145.20 556.30Z" fill="#2B4A7D"/>
<rect x="171.00" y="532.00" width="26.40" height="26.40" fill="none" stroke="#69A83F" stroke-width="0.9" />
<circle cx="183.90" cy="455.80" r="2.30" fill="none" stroke="#69A83F" stroke-width="0.95"/>
<circle cx="184.10" cy="510.00" r="2.30" fill="none" stroke="#69A83F" stroke-width="0.95"/>
<circle cx="180.30" cy="517.90" r="2.30" fill="none" stroke="#69A83F" stroke-width="0.95"/>
<circle cx="188.00" cy="519.60" r="2.30" fill="none" stroke="#69A83F" stroke-width="0.95"/>
<circle cx="176.90" cy="533.70" r="2.30" fill="none" stroke="#69A83F" stroke-width="0.95"/>
<circle cx="181.10" cy="535.20" r="2.30" fill="none" stroke="#69A83F" stroke-width="0.95"/>
<circle cx="187.70" cy="535.70" r="2.30" fill="none" stroke="#69A83F" stroke-width="0.95"/>
<circle cx="191.40" cy="532.70" r="2.30" fill="none" stroke="#69A83F" stroke-width="0.95"/>
<circle cx="176.90" cy="538.20" r="2.30" fill="none" stroke="#69A83F" stroke-width="0.95"/>
<circle cx="191.00" cy="538.20" r="2.30" fill="none" stroke="#69A83F" stroke-width="0.95"/>
<circle cx="181.60" cy="541.80" r="2.30" fill="none" stroke="#69A83F" stroke-width="0.95"/>
<circle cx="186.40" cy="543.10" r="2.30" fill="none" stroke="#69A83F" stroke-width="0.95"/>
<circle cx="173.60" cy="548.80" r="2.30" fill="none" stroke="#69A83F" stroke-width="0.95"/>
<circle cx="187.40" cy="549.50" r="2.30" fill="none" stroke="#69A83F" stroke-width="0.95"/>
<circle cx="194.70" cy="548.10" r="2.30" fill="none" stroke="#69A83F" stroke-width="0.95"/>
<circle cx="180.60" cy="552.40" r="2.30" fill="none" stroke="#69A83F" stroke-width="0.95"/>
<line x1="184.00" y1="525.70" x2="184.00" y2="537.20" stroke="#222" stroke-width="0.9" />
<line x1="177.30" y1="525.70" x2="190.70" y2="525.70" stroke="#222" stroke-width="0.9" />
<line x1="177.30" y1="537.20" x2="190.70" y2="537.20" stroke="#222" stroke-width="0.9" />
<rect x="212.40" y="516.40" width="26.20" height="42.00" fill="none" stroke="#542563" stroke-width="0.9" />
<rect x="212.70" y="488.80" width="4.60" height="4.60" fill="none" stroke="#542563" stroke-width="1.0"/>
<rect x="219.80" y="492.70" width="4.60" height="4.60" fill="none" stroke="#542563" stroke-width="1.0"/>
<rect x="226.70" y="489.10" width="4.60" height="4.60" fill="none" stroke="#542563" stroke-width="1.0"/>
<rect x="233.80" y="488.40" width="4.60" height="4.60" fill="none" stroke="#542563" stroke-width="1.0"/>
<rect x="219.60" y="502.30" width="4.60" height="4.60" fill="none" stroke="#542563" stroke-width="1.0"/>
<rect x="227.00" y="507.70" width="4.60" height="4.60" fill="none" stroke="#542563" stroke-width="1.0"/>
<rect x="227.00" y="518.40" width="4.60" height="4.60" fill="none" stroke="#542563" stroke-width="1.0"/>
<rect x="215.80" y="521.30" width="4.60" height="4.60" fill="none" stroke="#542563" stroke-width="1.0"/>
<rect x="219.60" y="523.70" width="4.60" height="4.60" fill="none" stroke="#542563" stroke-width="1.0"/>
<rect x="226.70" y="529.10" width="4.60" height="4.60" fill="none" stroke="#542563" stroke-width="1.0"/>
<rect x="215.80" y="534.10" width="4.60" height="4.60" fill="none" stroke="#542563" stroke-width="1.0"/>
<rect x="230.60" y="534.60" width="4.60" height="4.60" fill="none" stroke="#542563" stroke-width="1.0"/>
<rect x="223.40" y="540.30" width="4.60" height="4.60" fill="none" stroke="#542563" stroke-width="1.0"/>
<line x1="225.60" y1="510.30" x2="225.60" y2="521.00" stroke="#222" stroke-width="0.9" />
<line x1="219.00" y1="510.30" x2="232.20" y2="510.30" stroke="#222" stroke-width="0.9" />
<line x1="219.00" y1="521.00" x2="232.20" y2="521.00" stroke="#222" stroke-width="0.9" />
<path d="M101 414.6V409.5H225V414.6" fill="none" stroke="#222" stroke-width="1.2"/>
<path d="M101 428.2V423.4H184.4V428.2" fill="none" stroke="#222" stroke-width="1.2"/>
<path d="M140.5 442.6V438.5H225V442.6" fill="none" stroke="#222" stroke-width="1.2"/>
<circle cx="158.55" cy="406.10" r="0.99" fill="#1a1a1a" stroke="none" stroke-width="1"/>
<circle cx="161.65" cy="406.10" r="0.99" fill="#1a1a1a" stroke="none" stroke-width="1"/>
<circle cx="164.75" cy="406.10" r="0.99" fill="#1a1a1a" stroke="none" stroke-width="1"/>
<circle cx="167.85" cy="406.10" r="0.99" fill="#1a1a1a" stroke="none" stroke-width="1"/>
<circle cx="140.95" cy="419.70" r="0.99" fill="#1a1a1a" stroke="none" stroke-width="1"/>
<circle cx="144.05" cy="419.70" r="0.99" fill="#1a1a1a" stroke="none" stroke-width="1"/>
<circle cx="180.85" cy="434.40" r="0.99" fill="#1a1a1a" stroke="none" stroke-width="1"/>
<circle cx="183.95" cy="434.40" r="0.99" fill="#1a1a1a" stroke="none" stroke-width="1"/>
<line x1="326.10" y1="435.00" x2="326.10" y2="559.20" stroke="#111" stroke-width="1.6" />
<line x1="322.80" y1="558.40" x2="326.10" y2="558.40" stroke="#111" stroke-width="1.0" />
<text x="319.80" y="561.15" font-size="8.4" text-anchor="end" textLength="4.40" lengthAdjust="spacingAndGlyphs" fill="#111" stroke="#111" stroke-width="0.08" >0</text>
<line x1="322.80" y1="534.30" x2="326.10" y2="534.30" stroke="#111" stroke-width="1.0" />
<text x="319.80" y="537.05" font-size="8.4" text-anchor="end" textLength="8.00" lengthAdjust="spacingAndGlyphs" fill="#111" stroke="#111" stroke-width="0.08" >10</text>
<line x1="322.80" y1="510.20" x2="326.10" y2="510.20" stroke="#111" stroke-width="1.0" />
<text x="319.80" y="512.95" font-size="8.4" text-anchor="end" textLength="8.00" lengthAdjust="spacingAndGlyphs" fill="#111" stroke="#111" stroke-width="0.08" >20</text>
<line x1="322.80" y1="486.10" x2="326.10" y2="486.10" stroke="#111" stroke-width="1.0" />
<text x="319.80" y="488.85" font-size="8.4" text-anchor="end" textLength="8.00" lengthAdjust="spacingAndGlyphs" fill="#111" stroke="#111" stroke-width="0.08" >30</text>
<line x1="322.80" y1="462.00" x2="326.10" y2="462.00" stroke="#111" stroke-width="1.0" />
<text x="319.80" y="464.75" font-size="8.4" text-anchor="end" textLength="8.00" lengthAdjust="spacingAndGlyphs" fill="#111" stroke="#111" stroke-width="0.08" >40</text>
<line x1="322.80" y1="437.90" x2="326.10" y2="437.90" stroke="#111" stroke-width="1.0" />
<text x="319.80" y="440.65" font-size="8.4" text-anchor="end" textLength="8.00" lengthAdjust="spacingAndGlyphs" fill="#111" stroke="#111" stroke-width="0.08" >50</text>
<line x1="323.00" y1="558.40" x2="510.00" y2="558.40" stroke="#111" stroke-width="1.5" />
<line x1="326.10" y1="558.40" x2="326.10" y2="561.20" stroke="#111" stroke-width="1.0" />
<line x1="362.10" y1="558.40" x2="362.10" y2="561.20" stroke="#111" stroke-width="1.0" />
<line x1="398.10" y1="558.40" x2="398.10" y2="561.20" stroke="#111" stroke-width="1.0" />
<line x1="434.10" y1="558.40" x2="434.10" y2="561.20" stroke="#111" stroke-width="1.0" />
<line x1="470.10" y1="558.40" x2="470.10" y2="561.20" stroke="#111" stroke-width="1.0" />
<line x1="506.10" y1="558.40" x2="506.10" y2="561.20" stroke="#111" stroke-width="1.0" />
<text x="326.10" y="571.80" font-size="7.6" text-anchor="middle" textLength="4.00" lengthAdjust="spacingAndGlyphs" fill="#111" stroke="#111" stroke-width="0.08" >0</text>
<text x="362.10" y="571.80" font-size="7.6" text-anchor="middle" textLength="8.00" lengthAdjust="spacingAndGlyphs" fill="#111" stroke="#111" stroke-width="0.08" >10</text>
<text x="398.10" y="571.80" font-size="7.6" text-anchor="middle" textLength="8.00" lengthAdjust="spacingAndGlyphs" fill="#111" stroke="#111" stroke-width="0.08" >20</text>
<text x="434.10" y="571.80" font-size="7.6" text-anchor="middle" textLength="8.00" lengthAdjust="spacingAndGlyphs" fill="#111" stroke="#111" stroke-width="0.08" >30</text>
<text x="470.10" y="571.80" font-size="7.6" text-anchor="middle" textLength="8.00" lengthAdjust="spacingAndGlyphs" fill="#111" stroke="#111" stroke-width="0.08" >40</text>
<text x="506.10" y="571.80" font-size="7.6" text-anchor="middle" textLength="8.00" lengthAdjust="spacingAndGlyphs" fill="#111" stroke="#111" stroke-width="0.08" >50</text>
<text x="383.60" y="585.30" font-size="9.4" text-anchor="start" textLength="68.60" lengthAdjust="spacingAndGlyphs" fill="#111" stroke="#111" stroke-width="0.16" >Blood chimerism</text>
<text x="305.00" y="496.50" font-size="9.0" text-anchor="middle" textLength="75.40" lengthAdjust="spacingAndGlyphs" transform="rotate(-90 305.00 496.50)" fill="#111" stroke="#111" stroke-width="0.16" >KLS cell chimerism</text>
<line x1="326.30" y1="558.60" x2="480.80" y2="467.30" stroke="#111" stroke-width="1.3" />
<text x="433.10" y="471.30" font-size="7.9" text-anchor="start" textLength="35.60" lengthAdjust="spacingAndGlyphs" fill="#111" stroke="#111" stroke-width="0.08" >R<tspan font-size="4.8" dy="-3">2</tspan><tspan dy="3"> = 0.9529</tspan></text>
<circle cx="326.30" cy="557.90" r="2.60" fill="#A5002B" stroke="none" stroke-width="1"/>
<circle cx="328.70" cy="557.30" r="2.60" fill="#A5002B" stroke="none" stroke-width="1"/>
<circle cx="331.00" cy="556.20" r="2.60" fill="#A5002B" stroke="none" stroke-width="1"/>
<circle cx="332.10" cy="557.90" r="2.60" fill="#A5002B" stroke="none" stroke-width="1"/>
<circle cx="334.40" cy="558.50" r="2.60" fill="#A5002B" stroke="none" stroke-width="1"/>
<circle cx="335.00" cy="554.40" r="2.60" fill="#A5002B" stroke="none" stroke-width="1"/>
<circle cx="336.50" cy="555.50" r="2.60" fill="#A5002B" stroke="none" stroke-width="1"/>
<circle cx="341.30" cy="552.70" r="2.60" fill="#A5002B" stroke="none" stroke-width="1"/>
<circle cx="342.50" cy="550.40" r="2.60" fill="#A5002B" stroke="none" stroke-width="1"/>
<circle cx="343.70" cy="547.50" r="2.60" fill="#A5002B" stroke="none" stroke-width="1"/>
<circle cx="344.80" cy="544.00" r="2.60" fill="#A5002B" stroke="none" stroke-width="1"/>
<circle cx="344.80" cy="542.30" r="2.60" fill="#A5002B" stroke="none" stroke-width="1"/>
<circle cx="347.10" cy="541.70" r="2.60" fill="#A5002B" stroke="none" stroke-width="1"/>
<circle cx="349.40" cy="541.20" r="2.60" fill="#A5002B" stroke="none" stroke-width="1"/>
<circle cx="347.70" cy="545.80" r="2.60" fill="#A5002B" stroke="none" stroke-width="1"/>
<circle cx="349.40" cy="552.10" r="2.60" fill="#A5002B" stroke="none" stroke-width="1"/>
<circle cx="346.50" cy="549.80" r="2.60" fill="#A5002B" stroke="none" stroke-width="1"/>
<circle cx="350.60" cy="547.50" r="2.60" fill="#A5002B" stroke="none" stroke-width="1"/>
<circle cx="355.80" cy="542.90" r="2.60" fill="#A5002B" stroke="none" stroke-width="1"/>
<circle cx="357.50" cy="538.30" r="2.60" fill="#A5002B" stroke="none" stroke-width="1"/>
<circle cx="359.20" cy="540.00" r="2.60" fill="#A5002B" stroke="none" stroke-width="1"/>
<circle cx="362.10" cy="542.30" r="2.60" fill="#A5002B" stroke="none" stroke-width="1"/>
<circle cx="364.40" cy="534.80" r="2.60" fill="#A5002B" stroke="none" stroke-width="1"/>
<circle cx="363.80" cy="537.70" r="2.60" fill="#A5002B" stroke="none" stroke-width="1"/>
<circle cx="367.30" cy="536.50" r="2.60" fill="#A5002B" stroke="none" stroke-width="1"/>
<circle cx="369.00" cy="533.70" r="2.60" fill="#A5002B" stroke="none" stroke-width="1"/>
<circle cx="370.80" cy="538.30" r="2.60" fill="#A5002B" stroke="none" stroke-width="1"/>
<circle cx="372.50" cy="532.50" r="2.60" fill="#A5002B" stroke="none" stroke-width="1"/>
<circle cx="373.70" cy="530.80" r="2.60" fill="#A5002B" stroke="none" stroke-width="1"/>
<circle cx="376.00" cy="536.00" r="2.60" fill="#A5002B" stroke="none" stroke-width="1"/>
<circle cx="378.80" cy="525.60" r="2.60" fill="#A5002B" stroke="none" stroke-width="1"/>
<circle cx="379.80" cy="524.40" r="2.60" fill="#A5002B" stroke="none" stroke-width="1"/>
<circle cx="382.10" cy="523.50" r="2.60" fill="#A5002B" stroke="none" stroke-width="1"/>
<circle cx="387.50" cy="519.40" r="2.60" fill="#A5002B" stroke="none" stroke-width="1"/>
<circle cx="392.20" cy="510.20" r="2.60" fill="#A5002B" stroke="none" stroke-width="1"/>
<circle cx="395.20" cy="517.70" r="2.60" fill="#A5002B" stroke="none" stroke-width="1"/>
<circle cx="395.40" cy="521.20" r="2.60" fill="#A5002B" stroke="none" stroke-width="1"/>
<circle cx="400.60" cy="504.20" r="2.60" fill="#A5002B" stroke="none" stroke-width="1"/>
<circle cx="401.20" cy="526.10" r="2.60" fill="#A5002B" stroke="none" stroke-width="1"/>
<circle cx="403.50" cy="520.60" r="2.60" fill="#A5002B" stroke="none" stroke-width="1"/>
<circle cx="415.20" cy="510.00" r="2.60" fill="#A5002B" stroke="none" stroke-width="1"/>
<circle cx="428.50" cy="489.80" r="2.60" fill="#A5002B" stroke="none" stroke-width="1"/>
<circle cx="430.10" cy="491.20" r="2.60" fill="#A5002B" stroke="none" stroke-width="1"/>
<circle cx="447.10" cy="494.80" r="2.60" fill="#A5002B" stroke="none" stroke-width="1"/>
<circle cx="463.50" cy="491.00" r="2.60" fill="#A5002B" stroke="none" stroke-width="1"/>
<circle cx="480.80" cy="455.80" r="2.60" fill="#A5002B" stroke="none" stroke-width="1"/>
<circle cx="344.00" cy="548.50" r="2.60" fill="#A5002B" stroke="none" stroke-width="1"/>
<circle cx="346.00" cy="546.00" r="2.60" fill="#A5002B" stroke="none" stroke-width="1"/>
<circle cx="348.00" cy="543.50" r="2.60" fill="#A5002B" stroke="none" stroke-width="1"/>
<circle cx="345.50" cy="551.00" r="2.60" fill="#A5002B" stroke="none" stroke-width="1"/>
<circle cx="352.50" cy="546.00" r="2.60" fill="#A5002B" stroke="none" stroke-width="1"/>
<circle cx="365.50" cy="535.50" r="2.60" fill="#A5002B" stroke="none" stroke-width="1"/>
<circle cx="368.50" cy="537.00" r="2.60" fill="#A5002B" stroke="none" stroke-width="1"/>
</svg></body></html>
